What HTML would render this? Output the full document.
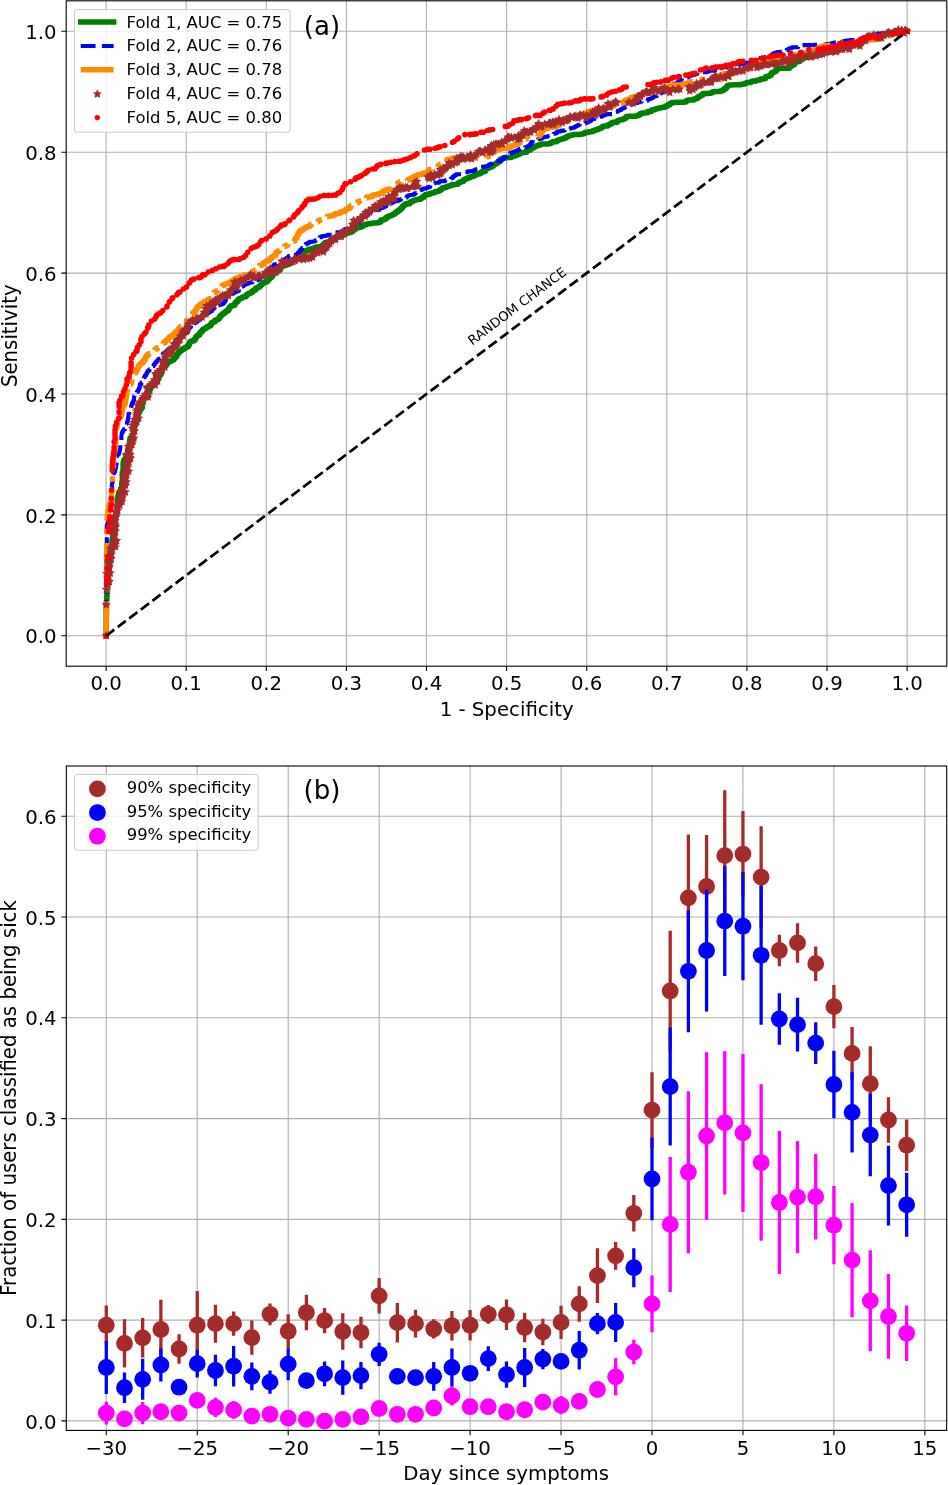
<!DOCTYPE html>
<html><head><meta charset="utf-8"><title>Figure</title>
<style>html,body{margin:0;padding:0;background:#fff}svg{display:block}</style></head>
<body>
<svg width="948" height="1485" viewBox="0 0 948 1485" font-family="'DejaVu Sans','Liberation Sans',sans-serif" fill="#000">
<rect width="948" height="1485" fill="#fff"/>
<clipPath id="ca"><rect x="66.2" y="0.8" width="880.6" height="665.4"/></clipPath>
<path d="M106.1 0.8V666.2M186.2 0.8V666.2M266.3 0.8V666.2M346.4 0.8V666.2M426.5 0.8V666.2M506.6 0.8V666.2M586.7 0.8V666.2M666.8 0.8V666.2M746.9 0.8V666.2M827 0.8V666.2M907.1 0.8V666.2M66.2 635.8H946.8M66.2 514.9H946.8M66.2 394H946.8M66.2 273.1H946.8M66.2 152.2H946.8M66.2 31.3H946.8" stroke="#b0b0b0" stroke-width="1.1" fill="none"/>
<g clip-path="url(#ca)" fill="none">
<path d="M106.1 635.8V633.8H106.1V631.8H106.2V629.8H106.2V627.8H106.2V625.8H106.2V623.8H106.2V621.8H106.2V619.8H106.2V617.8H106.2V615.8H106.2V613.8H106.2V611.7H106.2V609.7H106.2V607.7H106.2V605.7H106.2V603.7H106.2V601.7H106.7V599.7H106.8V597.7H106.8V595.7H107.1V593.7H107.2V591.7H107.5V589.7H107.5V587.7H107.5V585.8H107.8V583.8H108.1V581.8H108.1V579.7H108.1V577.7H108.1V575.8H108.1V573.8H108.4V571.8H108.6V569.8H109.1V567.8H109.1V565.8H109.2V563.8H109.6V561.8H109.6V559.8H109.6V557.8H109.6V555.9H110.4V553.9H110.6V552H111.1V550H111.6V548H111.7V545.9H111.7V544H111.9V542H112V540.1H112.6V538H112.6V536H112.6V534.1H113.4V532.2H114.4V530.1H114.4V528H114.4V526.1H114.4V524.1H114.7V522.2H115.1V520.2H115.6V518.2H115.6V516.2H116.1V514.4H116.9V512.3H117V510.2H117V508.2H117V506.3H117.4V504.2H117.4V502.2H117.4V500.2H117.4V498.3H117.9V496.3H118.3V494.3H118.8V492.5H120.1V490.6H120.6V488.7H121.6V486.7H121.8V484.7H121.8V482.8H122.3V480.5H122.3V478.6H122.3V476.6H122.3V474.6H122.3V472.7H122.9V470.7H123.1V468.5H123.1V466.5H123.1V464.5H123.2V462.5H123.8V460.6H124.5V458.9H125.8V457H126.5V455.1H127.1V453.2H127.8V451.1H127.8V449.3H128.8V447.2H128.8V445.4H129.6V443.3H129.6V441.3H129.8V439.3H130.3V437.7H132V435.9H132.9V433.9H133.2V431.9H133.7V429.9H133.8V428H134.4V426H134.9V424.2H135.9V422.1H135.9V420.2H136.5V418.2H136.8V416.3H137.3V414.5H138.4V412.7H139.2V410.9H140.1V409.1H141.3V407.4H142.4V405.2H142.4V403.4H143.1V401.2H143.1V399.4H144V398.2H145.9V396.4H146.8V394.5H147.6V392.8H148.6V391.1H149.6V389.3H150.6V387.4H151.2V385.9H152.7V384.4H154.1V382.6H154.9V380.9H156.1V379.4H157.3V377.9H158.7V376.2H159.8V374.6H161V372.7H161.8V370.6H162.3V368.8H163.1V367.3H164.6V365.9H165.9V364.4H167V362.9H168.2V361.7H169.8V361H171.8V360.1H173.7V358.4H174.9V357H176.3V355.1H177.4V353.4H178.5V352.1H180V350.7H181.5V349.6H183.3V348.6H185.1V347.4H186.7V346.4H188.5V344.6H189.5V342.6H190.4V341.4H192V340.8H194.3V339.3H195.6V337.3H196.5V335.9H197.9V334.9H199.7V333H200.6V331.7H202.2V330H203.3V329.1H205.1V328H206.8V326.7H208.3V326.1H210.4V324.5H211.6V322.8H212.8V322.1H214.9V320.3H216V319.8H218.1V318.4H219.5V316.6H220.7V315.3H222.2V314H223.8V312.8H225.4V311.4H226.8V310.6H228.7V308.4H229.5V307H231V305.7H232.6V305.3H234.8V303.3H235.8V302H237.3V300.4H238.6V299.1H240.1V298.3H242V297.3H243.8V296.7H245.9V295.2H247.2V294H248.9V293.2H250.8V292.3H252.6V290.8H253.9V289.9H255.8V288.1H257V287.5H259V286.2H260.5V284.7H261.9V283.5H263.5V282.4H265.2V281.7H267.2V280.2H268.6V278.7H269.9V277.6H271.6V275.9H272.8V273.9H273.8V273.1H275.7V271.7H277.2V271.1H279.2V269.4H280.5V267.1H281.4V266.3H283.3V265.4H285.1V265.1H287.2V264.2H289.1V263.2H290.8V262.2H292.6V260.7H294V259.3H295.4V257.4H296.4V256.2H298V254.5H299.2V253.3H300.9V252.7H302.9V252.1H304.9V250.7H306.4V250.7H308.6V249.3H310.2V248.9H312.1V248.6H314.1V247.8H316V247H317.8V247H320V246.4H321.9V245.6H323.7V243.8H325.2V242.6H326.9V242.2H328.9V241.4H330.7V240H332.3V238.9H334V238H335.8V237.5H337.8V236.9H339.7V236.5H341.7V235.2H343.3V234.8H345.3V233.6H347V232.6H348.8V232.5H351V231.4H352.7V230.2H354.3V229.1H356V227.8H357.6V227.5H359.7V226.9H361.7V226H363.5V224.9H365.1V224.4H366.7V224H368.3V223.7H370.3V223.4H372.3V223H374.3V223H376.7V222.8H379V222.1H380.9V220H382.1V219.8H384.2V218.9H386V217.5H387.6V216.4H389.2V215.8H391.3V215H393.2V214H395V212.7H396.6V211.4H398.1V210.5H399.9V209.1H401.4V207.5H402.7V206H404.2V204.8H405.8V203.8H407.5V203.8H409.7V202.2H411.1V201.5H413V200.6H414.8V199.9H416.7V199.6H418.7V199.2H420.7V198.1H422.5V196.9H424.1V195.4H425.6V194.6H427.5V194.4H429.6V193.4H431.3V192.9H433.3V192.4H435.2V191.6H437.1V191.2H439.1V190.2H440.8V188.9H442.5V187.7H444.1V187.5H446.2V186.7H448V185.9H449.9V185.6H451.9V184.6H453.7V184.6H455.9V184.3H457.9V183.1H459.6V181.9H461.2V181.6H463.3V180.1H464.8V179H466.5V178.3H468.4V177.6H470.3V176.8H472.1V176.2H474V175.2H475.8V174.3H477.6V173.9H479.6V173.1H481.5V171.8H483.1V171.4H485.2V169.4H486.3V168.4H488.1V167.7H490V167.1H491.9V166H493.6V164.6H495.1V163.8H497V162.5H498.6V161.6H500.4V159.2H501.3V158.7H503.3V157.8H505.2V157.8H507.3V157.6H509.3V157.4H511.3V156.5H513.2V156.1H515.2V155.2H517V154.5H518.9V153.7H520.7V152.5H522.4V152.5H524.6V152.2H526.6V150.4H528V150.2H530.1V148.9H531.7V148.1H533.5V147.1H535.2V146.1H537V145.4H539V144.8H541V144.1H543V144.1H544.9V144.1H546.8V144.1H549V143.6H550.8V142.5H552.6V141.8H554.5V141.7H556.5V140.7H558.3V139.7H560V139.3H562V138.7H563.9V138.1H565.9V137.1H567.6V136H569.4V135.4H571.4V135H573.4V134.5H575.3V134.5H577.3V134.4H579.4V134.3H581.4V134.1H583.4V133.2H585.3V132.2H587.1V132.2H589.2V131.8H591.1V131.4H593.1V130.4H594.9V129.9H596.8V129.2H598.7V128.4H600.6V127.8H602.4V126.6H603.9V126H605.8V125.9H607.9V124.7H609.6V124H611.5V122.7H613.1V122.3H615.1V122.3H617.4V120.8H618.9V119.9H620.6V119.7H622.8V118.9H624.6V118H626.3V116.5H628V116.2H630V116.2H632.1V116.2H634.2V116.2H636.2V115.7H638.1V115H640V113.7H641.8V112.9H643.7V112.9H645.7V112.7H647.6V111.4H649.2V111.4H651.4V109.9H652.9V109.8H655.1V109H656.9V108.4H658.8V108H660.8V107.4H662.7V107.3H664.8V106.5H666.6V105.6H668.4V104.6H670.2V103.3H671.9V102.4H673.7V102.4H675.8V102.2H677.9V102.2H680V102.2H682.2V102.2H684.2V102.1H686.1V100.7H687.8V99.9H689.7V99.9H691.9V99.9H693.8V99.1H695.7V98.5H697.6V96.9H699.3V96H701.1V94.9H702.9V93.5H704.6V93.5H706.7V93.5H708.8V93.2H710.7V92.8H712.7V91.8H714.5V91.5H716.5V91.4H718.5V91.4H720.7V90.8H722.9V89.8H724.6V88.5H726.1V86.9H727.5V85.5H729V85H730.8V85H732.7V84.7H734.7V84.7H736.8V84.7H738.8V84.7H740.7V84.3H742.7V84H744.7V83.2H746.6V82.5H748.6V82.5H750.6V81.7H752.4V80.9H754.3V80.9H756.4V80.2H758.2V80.1H760.3V79.1H761.9V79H764V78.3H765.9V76.5H767.4V76.3H769.5V75.2H771.2V73.2H772.4V72.3H774.2V71.4H776V69.8H777.4V68.6H779.1V68.3H781.2V68.3H783.4V68.3H785.4V68.3H787.5V68.3H789.5V66.5H791.1V65.4H792.8V64.5H794.6V62.4H795.7V61.9H797.7V61.4H799.7V60.1H801.3V58.9H803V57.8H804.8V57.5H806.9V57.1H808.9V56.7H810.8V55.8H812.7V55.7H814.7V55.2H816.6V55.2H818.7V55H820.7V53.8H822.5V52.7H824.3V52.5H826.3V52H828.3V52H830.3V52H832.4V51.6H834.4V50.4H836.1V49.5H838V49.5H840V48.6H841.8V48.6H843.9V48.2H845.9V48H847.9V47H849.7V46.5H851.6V44.7H853.2V44.3H855.2V44.3H857.2V43.6H859V42.7H860.7V42H862.5V41.2H864.4V40.2H866.1V39.6H868.1V38.2H869.8V38.2H872V37.7H873.9V37.3H875.9V37.3H877.9V37H879.9V36.2H881.6V35.6H883.5V34.9H885.4V34.1H887.2V33.4H889.1V32.7H891.1V32.2H893.1V32.1H895.1V32.1H897.1V31.9H899.1V31.9H901.1V31.6H903.1V31.5H905.1V31.3H907.1" stroke="#008000" stroke-width="5.48" stroke-linejoin="round" stroke-linecap="square"/>
<path d="M106.1 635.8V633.8H106.1V631.8H106.2V629.8H106.2V627.8H106.3V625.8H106.3V623.8H106.3V621.8H106.3V619.8H106.3V617.7H106.3V615.7H106.3V613.7H106.3V611.7H106.3V609.7H106.3V607.7H106.3V605.7H106.3V603.7H106.3V601.7H106.3V599.7H106.3V597.7H106.3V595.7H106.3V593.7H106.3V591.7H106.3V589.7H106.3V587.7H106.3V585.7H106.3V583.6H106.3V581.6H106.3V579.6H106.3V577.6H106.3V575.6H106.3V573.6H106.3V571.6H106.3V569.6H106.3V567.6H106.3V565.5H106.3V563.6H106.3V561.6H106.3V559.5H106.3V557.5H106.3V555.5H106.3V553.5H106.3V551.5H106.3V549.5H106.3V547.5H106.3V545.5H106.5V543.5H106.8V541.5H106.8V539.4H106.8V537.5H106.8V535.4H106.8V533.4H106.8V531.4H106.8V529.4H106.8V527.4H106.8V525.4H107.5V523.5H108.3V521.5H108.3V519.4H108.3V517.4H108.3V515.4H108.3V513.4H108.3V511.4H108.3V509.5H109V507.5H109.3V505.5H109.3V503.5H110V501.5H110V499.5H110.7V497.5H110.7V495.6H111.7V493.6H111.7V491.5H111.7V489.5H111.8V487.5H111.9V485.5H111.9V483.5H112.3V481.6H113.1V479.5H113.1V477.5H113.1V475.5H113.5V473.5H114.1V471.8H115.1V469.7H115.1V467.9H116V466H116.2V464H116.6V462H116.8V460H116.9V458H117V456H117.5V454.2H118.9V452.2H119.5V450.3H120V448.3H120.3V446.2H120.3V444.2H120.3V442.3H121.4V440.2H121.4V438.3H121.4V436.3H121.5V434.5H121.8V432.7H122.6V431H123.6V429.3H125V427.5H125.9V425.7H126.8V423.7H127.1V421.8H127.7V419.8H128V417.8H128.4V415.7H128.5V413.8H129.2V412H130.2V410H130.5V408.1H131V406.2H131.6V404.4H132.1V402.7H133.2V400.9H134V398.7H134.1V396.6H134.4V395H135.7V393.3H136.8V391.7H138.1V389.9H138.9V388.1H139.8V385.8H139.8V384.4H141.3V382.5H141.9V381.1H143.5V379H144V377.2H144.9V375.6H146.1V373.8H147V372H147.9V370.6H149.5V369.2H150.9V367.9H152.4V366.3H153.7V364.6H154.8V363H156.1V361.5H157.3V360.1H158.7V358.9H160.4V357.3H161.7V355.6H162.7V353.9H163.9V352.9H165.8V351.4H167.2V350H168.6V348.6H170V347.2H171.5V345.7H172.8V344.5H174.5V343.2H176V340.6H176.2V339.3H177.7V339H180.2V337.1H181.1V335.7H182.6V334.7H184.4V333.3H185.8V332.4H187.7V330.4H188.6V328.5H189.6V327.1H191V325.6H192.4V324H193.7V323.1H195.5V322H197.2V320.8H198.9V319.5H200.3V318.4H202V317.1H203.6V315.6H204.9V314.6H206.7V313.5H208.4V312.3H210V311.3H211.8V309.6H213V308.3H214.5V306.9H216V306.2H218V305.1H219.7V304.6H221.9V303.7H223.8V302.1H225V300.2H226V299H227.7V297.5H229V296.1H230.5V294.3H231.6V293.6H233.5V292.6H235.3V291.8H237.1V290.9H238.9V289.4H240.4V287.4H241.5V286.4H243.3V285.3H244.9V284.2H246.6V283.8H248.7V282.8H250.5V282.5H252.6V281.6H254.4V280.8H256.3V280H258.1V279.2H260V277.5H261.3V276.7H263.3V275.2H264.7V273.3H265.7V272.1H267.3V270.8H268.8V269.8H270.6V268.5H272.2V267.1H273.6V265H274.3V264.4H276.3V264H278.2V263.1H280.1V262H281.8V261.3H283.7V259.7H285V258.8H286.8V257.6H288.5V256H289.8V255.4H291.6V254.8H293.5V254.8H295.7V254.5H297.7V252.8H299.3V250.9H300.4V249.5H301.8V248H303.1V246.1H304.3V244.5H305.8V243.8H307.8V242.7H309.6V241.9H311.4V241.8H313.5V241.3H315.5V240.4H317.1V239H318.2V237.7H319.7V237.1H322V236H323.7V236H325.9V235.5H327.7V234.9H329.7V234.7H331.7V233.8H333.5V233.4H335.5V232.3H337.3V232.2H339.3V232.2H341.4V231.4H343.2V230.4H344.9V229.1H346.5V227.1H347.5V227.1H350.1V226.3H351.9V225.4H353.7V224.3H355.4V223.1H357V222.9H359.3V220.7H360.2V219.4H361.7V218H363.2V216.9H364.9V216.2H366.8V214.9H368.3V213.3H369.8V211.9H371.3V211.3H373.2V210.8H375.3V210.2H377.2V209.9H379.3V208.5H380.9V207.9H382.8V207.2H384.6V206.2H386.3V205H388V204.6H390V203.4H391.7V202.5H393.5V201.3H395.1V201.3H397.3V200.7H399.2V199.8H401V199H402.9V198.3H404.7V197.7H406.7V196.3H408.3V195.2H410V195H412V194.8H414.1V193.6H415.8V193H417.7V192H419.5V190.3H420.9V189.6H422.8V188.6H424.6V188.5H426.6V187.7H428.4V186.9H430.3V185.5H431.8V184.9H433.8V183.3H435.2V182.7H437.2V182.7H439.4V181.3H441V181.1H443.1V181.1H445.3V180.3H447.1V180H449.2V179.3H451V178.2H452.8V176.5H454.3V175.4H456V174.2H457.7V174.2H460.1V174.2H462V173.5H463.9V172.2H465.5V172.2H467.7V171.2H469.4V171.2H471.6V171.1H473.6V170.3H475.5V169.2H477.2V168.5H479.1V167.1H480.8V166.8H482.8V166.8H485V166.3H486.9V165.8H488.9V164.5H490.5V163.8H492.4V162.4H494V161.3H495.7V160.9H497.7V160.9H500V160.2H501.8V159.3H503.5V157.5H505V156.8H506.8V155.6H508.5V154.2H510.1V152.9H511.7V152.4H513.7V151.5H515.4V151H517.3V150H519V149H520.8V148.7H523V148H524.9V147.2H526.8V146.6H528.9V145.2H530.4V143.3H531.5V141.7H532.7V140.3H534.3V140H536.3V139.3H538.2V139H540.2V138.6H542.2V137.5H543.9V136.9H545.8V136.8H547.9V136H549.8V135.7H551.8V134.9H553.6V133.7H555.4V133H557.2V131.5H558.9V131.4H560.9V130.6H562.8V130.6H564.9V129.6H566.7V129.1H568.6V128.7H570.6V128.1H572.5V127.8H574.5V126.8H576.3V125.8H578.1V124.7H579.9V124.1H581.8V123.4H583.7V123.2H585.7V122.7H587.6V121.8H589.3V120.9H591.1V119.5H592.7V118.9H594.6V118.6H596.7V117.4H598.3V116.8H600.3V116.6H602.3V115.6H604V115H605.9V114.1H607.7V114.1H610.1V114.1H612.2V113.7H614.2V112.3H615.8V111.7H617.7V110.7H619.4V110H621.3V108.8H623V108H624.8V106.8H626.5V106.2H628.4V106.2H630.6V104.7H632.1V103.5H633.8V103.1H635.8V102.9H637.9V102.1H639.7V101.7H641.7V101.2H643.6V100.8H645.6V100.7H647.7V99.4H649.4V98.8H651.4V98H653.2V96.8H654.9V96.2H656.8V94.7H658.3V93.3H659.9V93.1H662V91.6H663.4V91.3H665.6V90.7H667.6V89.3H669.1V87.8H670.5V85.8H671.7V85H673.6V83.5H675.1V83.5H677.4V82H678.8V81.3H680.7V79.3H682V78.6H683.8V78.6H686.1V77.7H687.9V76.6H689.6V75.7H691.3V75.1H693.3V74.8H695.4V73.9H697.2V72.4H698.9V72.1H700.9V72.1H703.1V72.1H705.3V72.1H707.2V71.6H709.1V70.8H711V70.7H713V70.7H715.1V70H716.9V69.5H718.9V68.5H720.7V67.7H722.6V67.3H724.6V67.2H726.6V66.4H728.5V65.9H730.5V65.9H732.6V65.9H734.6V65.9H736.6V65.4H738.6V64.6H740.4V64.2H742.4V63.7H744.4V63H746.2V62.9H748.2V62.5H750.1V62.5H752.1V62.2H754.1V62.2H756.1V61.5H758V60.8H760.2V58.4H760.2V58.1H761.7V57.8H763.6V57.3H765.6V57.1H767.6V56H769.4V55.6H771.3V54.8H773.2V53.4H774.9V52.9H776.9V52.1H778.7V52.1H780.9V51.5H782.6V50.6H784.5V50.5H786.6V49.9H788.5V48.6H790.1V48.1H792.1V47.2H794V47.2H796.2V47.2H798.2V46.8H800.1V45.3H802V45.1H804V45.1H806.1V45.1H808.1V45.1H810V45.1H812V45.1H814V44.9H816V44.9H818.2V44.9H820.4V44.9H822.5V44.9H824.6V44.9H826.4V44H828.1V43.9H830.1V43.6H832.1V43.1H834V42.5H836V42.4H838V42.2H840V41.8H841.9V41.6H843.9V41.1H845.8V40.5H847.8V40.5H849.8V40.1H851.8V40.1H853.9V40.1H855.9V39.8H857.8V39.7H859.9V38.8H861.8V38H863.7V37.3H865.6V36.7H867.5V36.3H869.5V36.3H871.5V35.9H873.4V35.1H875.3V34.4H877.2V33.6H879.1V33.5H881.2V33.4H883.2V33.1H885.2V32.8H887.1V32.5H889.1V32.2H891.1V32.2H893.1V32H895.1V31.8H897.1V31.8H899.1V31.7H901.1V31.5H903.1V31.4H905.1V31.3H907.1" stroke="#0000ff" stroke-width="4.11" stroke-linejoin="round" stroke-dasharray="14.8 6.3"/>
<path d="M106.1 635.8V633.8H106.1V631.8H106.1V629.8H106.2V627.8H106.2V625.8H106.2V623.8H106.3V621.8H106.4V619.8H106.4V617.7H106.4V615.7H106.6V613.7H106.6V611.7H106.7V609.7H106.7V607.7H106.7V605.7H106.7V603.7H106.7V601.7H106.7V599.7H106.7V597.7H106.7V595.7H106.7V593.7H106.7V591.7H106.7V589.7H106.7V587.7H106.7V585.7H106.7V583.7H106.7V581.6H106.7V579.6H106.7V577.6H106.7V575.6H106.7V573.6H106.7V571.6H106.7V569.6H106.7V567.6H106.7V565.6H106.7V563.6H106.7V561.6H106.7V559.6H106.7V557.6H106.7V555.6H106.7V553.6H106.7V551.6H106.7V549.5H106.7V547.5H106.7V545.5H106.7V543.5H106.7V541.5H106.7V539.5H106.7V537.5H106.7V535.5H106.7V533.3H106.7V531.4H106.7V529.3H106.7V527.3H106.7V525.3H106.7V523.4H107.1V521.4H107.1V519.5H107.4V517.4H107.4V515.4H107.8V513.4H107.9V511.5H108.7V509.4H108.7V507.5H109.1V505.6H109.6V503.7H110.8V501.6H110.8V499.7H110.8V497.7H111.3V495.7H111.3V493.7H111.4V491.7H111.4V489.7H112.3V487.7H112.4V485.7H112.4V483.7H112.4V481.7H112.4V479.7H112.4V477.6H112.4V475.7H113.4V473.6H113.4V471.5H113.4V469.5H113.4V467.6H113.4V465.6H113.4V463.6H113.4V461.6H113.4V459.6H113.4V457.7H113.8V455.6H113.8V453.6H113.8V451.7H114.7V449.7H114.9V447.6H114.9V445.7H115.5V443.7H115.8V441.7H115.8V439.7H115.8V437.7H115.8V435.6H115.8V433.6H115.8V431.5H115.8V429.5H115.8V427.8H116.9V425.8H117.3V423.7H117.3V422H118.3V420.1H119.1V418.3H120.1V416.5H121.3V414.6H121.7V412.6H122.1V410.7H122.6V408.6H122.6V406.8H123.6V405H124.8V403.1H125.4V401.1H125.7V399.1H126.1V397.1H126.3V395.1H126.5V393.1H126.9V391H127.3V389.2H128.3V387.1H128.7V385.6H130.1V383.9H131.2V381.9H131.8V379.8H131.9V378.3H133V376.8H134.6V374.8H135.2V373H135.9V371.1H136.6V369.5H137.9V367.5H138.4V365.8H139.8V364.1H140.9V362.9H142.6V361.4H144V359.8H145.2V357.8H146V356.2H147.2V354.7H148.6V353.7H150.5V352.5H152.1V351H153.5V350H155.2V349.1H157.1V347.7H158.6V346.3H160V344.9H161.4V344H163.3V342.9H165V341.2H166.2V340.1H167.9V338.6H169.3V337.1H170.6V336.2H172.5V335.1H174.2V333.3H175.3V331.9H176.7V330.7H178.3V329H179.5V327.5H180.8V326.4H182.5V324.3H183.3V323.1H184.9V321.9H186.5V320.5H188V318.5H188.8V317.1H190.2V315.3H191.2V314H192.8V312.7H194.3V311.2H195.7V309.4H196.6V307.7H197.7V306.6H199.5V305H200.7V303.9H202.5V302.9H204.2V301.4H205.6V301H207.9V299.4H209.3V298.7H211.3V296.3H211.8V294H212.4V293.1H214.2V292.3H216.1V291H217.7V289.9H219.4V288H220.6V286.8H222.2V285.5H223.7V284.5H225.5V284.1H227.6V283.2H229.4V282.4H231.2V281.1H232.8V280H234.5V279.1H236.3V278.1H238V277.7H240.1V276.4H241.7V276.4H243.9V275H245.5V274.6H247.5V273.2H249.1V273.1H251.2V272H253V271.1H254.8V270.2H256.6V268.8H258.1V267.2H259.5V265.3H260.7V264.9H262.8V263.6H264.3V262.3H265.8V261.2H267.5V260.8H269.7V258.9H270.8V257.8H272.5V256.5H274V255.4H275.7V253.4H276.5V251.9H277.8V250.9H279.7V250.1H281.7V249.2H283.6V247.4H284.6V246.3H286.1V245.3H287.8V243.7H289.3V242.2H290.8V241.8H292.8V241.1H294.6V239.5H295.6V238.1H297.1V236H297.5V234.4H298.7V232.6H299.6V231.1H300.8V230.2H302.6V229H304.3V228H306V226.9H307.6V226.5H309.8V225H311.2V224.2H313V223.5H314.7V222.4H316.4V221.8H318.3V220.4H319.9V220.1H321.9V218.8H323.5V217.7H325.3V217H327.1V216.5H329.1V216.1H331.1V215.8H333V215H334.8V213.8H336.6V213.4H338.6V212.9H340.5V211.7H342.3V211.4H344.3V210.5H346.1V209.1H347.7V208.4H349.6V206.9H351V205.6H352.7V205H354.6V203.5H356.1V202.8H358V201.4H359.5V201.1H361.6V200H363.3V199.3H365.2V197.9H366.7V197H368.7V196.9H370.8V196.5H372.8V195H374.3V194.8H376.4V194.6H378.5V193.7H380.3V193.4H382.4V191.8H383.8V190.7H385.5V190.1H387.5V189.6H389.5V189H391.4V187.5H392.8V185.8H394.2V185.2H396.2V183.8H397.7V183.1H399.6V181.8H401.2V181.7H403.4V181.4H405.4V180.8H407.4V179.9H409.1V178.9H410.9V177.9H412.6V177.2H414.5V176.3H416.4V175.6H418.2V174.5H419.9V174.4H422.1V173.5H423.9V173H425.9V172.6H427.8V171.1H429.3V169.4H430.8V169.2H432.9V168.1H434.6V167.3H436.4V166.4H438.2V165.6H440.1V164.2H441.7V163.3H443.4V162.3H445.2V161.5H447V159.6H448.3V159.2H450.4V158.9H452.6V158.1H454.7V158H456.7V158H458.7V158H460.7V158H462.7V158H464.7V158H466.7V158H468.7V158H470.7V158H472.7V158H474.6V158H476.7V158H478.7V158H480.7V158H482.8V158H484.7V157.8H486.7V156.7H488.5V155.5H490.2V153.9H491.6V152.9H493.4V151.6H495V150.3H496.5V149.7H498.5V149.2H500.5V148.3H502.4V148.3H504.6V148.3H506.7V148.3H508.8V147.3H510.6V146H512.3V145.7H514.3V145H516.1V144.3H518V143.3H519.8V142.7H521.8V141.4H523.3V140.5H525.1V138.9H526.5V136.9H527.8V136.6H530V136.6H532V136.4H534V136.4H536V136.3H538V136.1H539.7V134.7H540.7V133.2H542V131.3H542.7V129.7H544.1V128.4H545.7V128.2H547.8V127.1H549.6V127.1H551.7V127.1H553.9V127.1H556.1V126H557.7V125.2H559.5V123.5H561.1V123H563V122.6H565V121.3H566.7V119.9H568.3V119.4H570.3V119.2H572.3V118.2H574.1V117.5H575.9V115.7H577.4V115H579.3V114.6H581.3V114.3H583.3V114.3H585.5V113.4H587.3V111.7H588.8V111.5H590.9V110.8H592.7V110.5H594.7V110.3H596.8V110H598.8V110H601V109.9H603V108.3H604.6V107.6H606.5V107.6H608.7V106.8H610.5V106.5H612.5V105.7H614.3V104.7H616.1V104.7H618.2V104.3H620.2V103.3H622V102.8H624V101.2H625.5V100.1H627.2V99.7H629.3V98.9H631.1V97.6H632.7V97.1H634.7V96.5H636.6V96.3H638.7V95.9H640.7V94.8H642.4V93.7H644.1V92.8H645.9V92.1H647.8V92.1H649.9V92.1H652V92.1H654V91.8H655.9V90.9H657.8V90.6H659.8V89.7H661.6V89.2H663.5V87.9H665.3V87.2H667.2V87.2H669.3V86.5H671.2V85.4H673V85H675V85H677.1V85H679.2V85H681.1V84.6H683V84.2H685V83.4H686.9V83.1H688.9V82.7H690.9V81.7H692.7V81.3H694.7V81H696.6V80.3H698.5V79.5H700.3V79.5H702.4V79.5H704.7V79.5H706.6V78.9H708.5V78.7H710.5V78.1H712.4V77.3H714.3V77.3H716.4V76.5H718.2V75.7H720.1V75H722V74.2H723.9V73.8H725.8V73.8H727.9V73.8H730V73.8H732V73.6H734V72.5H735.8V72H737.8V71.2H739.6V70.8H741.6V70.8H743.7V70.6H745.7V70H747.6V69.1H749.4V68.7H751.4V68.3H753.3V67.4H755.2V66.7H757.1V66.7H759.1V65.2H759.1V63.1H759.8V62H762.1V62H764.3V62H766.3V62H768.4V61.9H770.3V61.5H772.3V61.1H774.3V59.7H776V59.4H778V59.3H780V58.1H781.8V58.1H783.9V57.9H785.9V56.7H787.7V56.1H789.6V55.8H791.6V55.3H793.6V55.3H795.6V54.4H797.5V54.1H799.4V53.9H801.4V53.9H803.4V53.4H805.4V52.8H807.3V52.7H809.4V51.2H811V51.2H813.1V50.7H815V49.6H816.8V49H818.8V47.8H820.5V46.5H822.2V46.2H824.2V45.7H826.2V45.7H828.3V45.2H830.3V44.5H832.3V44H834.2V44H836.4V44H838.4V44H840.4V43.6H842.3V42.9H844.2V42.8H846.2V42.8H848.3V42.8H850.4V42.8H852.5V42.8H854.5V42.7H856.4V42H858.3V40.8H860.2V40.4H862.1V40.4H864.2V40.3H866.2V40.3H868.2V39.7H870.1V39.7H872.2V39.7H874.2V39.5H876.2V39.3H878.2V38.5H880V37.9H881.9V37.2H883.8V37.1H885.8V36.4H887.8V35.8H889.6V35.3H891.6V34.6H893.5V34.1H895.4V33.4H897.3V32.8H899.2V32.2H901.2V32H903.1V31.6H905.1V31.3H907.1" stroke="#ff8c00" stroke-width="5.48" stroke-linejoin="round" stroke-dasharray="35.1 8.8 5.5 8.8"/>
<path d="M107.8 579.6L109.1 582.5L112.2 582.9L110 585.1L110.5 588.1L107.8 586.6L105 588.1L105.6 585.1L103.3 582.9L106.4 582.5ZM108.5 576.7L109.8 579.6L113 580L110.7 582.1L111.3 585.2L108.5 583.7L105.7 585.2L106.3 582.1L104 580L107.1 579.6ZM109.4 577L110.7 579.8L113.9 580.3L111.6 582.4L112.2 585.5L109.4 584L106.6 585.5L107.2 582.4L104.9 580.3L108 579.8ZM107.9 575.3L109.2 578.2L112.3 578.6L110.1 580.7L110.6 583.8L107.9 582.3L105.1 583.8L105.7 580.7L103.4 578.6L106.5 578.2ZM107.5 573.2L108.9 576.1L112 576.5L109.7 578.6L110.3 581.7L107.5 580.2L104.8 581.7L105.4 578.6L103.1 576.5L106.2 576.1ZM108.5 570.6L109.8 573.5L112.9 573.9L110.7 576.1L111.2 579.1L108.5 577.6L105.7 579.1L106.3 576.1L104 573.9L107.1 573.5ZM110.3 568.4L111.7 571.2L114.8 571.6L112.5 573.8L113.1 576.9L110.3 575.4L107.6 576.9L108.1 573.8L105.9 571.6L109 571.2ZM106.7 568.9L108 571.8L111.2 572.2L108.9 574.4L109.5 577.4L106.7 575.9L103.9 577.4L104.5 574.4L102.2 572.2L105.3 571.8ZM108.3 564.1L109.7 566.9L112.8 567.3L110.5 569.5L111.1 572.6L108.3 571.1L105.6 572.6L106.1 569.5L103.8 567.3L107 566.9ZM108.1 562.4L109.5 565.3L112.6 565.7L110.3 567.8L110.9 570.9L108.1 569.4L105.4 570.9L105.9 567.8L103.7 565.7L106.8 565.3ZM108.3 564.6L109.6 567.4L112.7 567.8L110.5 570L111 573.1L108.3 571.6L105.5 573.1L106.1 570L103.8 567.8L106.9 567.4ZM109.3 562.8L110.6 565.6L113.7 566L111.5 568.2L112 571.3L109.3 569.8L106.5 571.3L107.1 568.2L104.8 566L107.9 565.6ZM109.6 562.2L110.9 565.1L114 565.5L111.8 567.7L112.3 570.8L109.6 569.2L106.8 570.8L107.4 567.7L105.1 565.5L108.2 565.1ZM108.2 559.3L109.5 562.1L112.6 562.5L110.4 564.7L110.9 567.8L108.2 566.3L105.4 567.8L106 564.7L103.7 562.5L106.8 562.1ZM110.1 558.3L111.5 561.1L114.6 561.6L112.3 563.7L112.9 566.8L110.1 565.3L107.4 566.8L108 563.7L105.7 561.6L108.8 561.1ZM108.4 556.4L109.8 559.2L112.9 559.6L110.6 561.8L111.2 564.9L108.4 563.4L105.7 564.9L106.2 561.8L103.9 559.6L107.1 559.2ZM108.3 557.1L109.6 559.9L112.7 560.4L110.5 562.5L111 565.6L108.3 564.1L105.5 565.6L106.1 562.5L103.8 560.4L106.9 559.9ZM111.3 554L112.7 556.8L115.8 557.2L113.5 559.4L114.1 562.5L111.3 561L108.6 562.5L109.1 559.4L106.9 557.2L110 556.8ZM109.9 552.9L111.3 555.7L114.4 556.2L112.1 558.3L112.7 561.4L109.9 559.9L107.2 561.4L107.8 558.3L105.5 556.2L108.6 555.7ZM111.6 549.4L113 552.3L116.1 552.7L113.8 554.8L114.4 557.9L111.6 556.4L108.9 557.9L109.4 554.8L107.1 552.7L110.3 552.3ZM107.8 551.5L109.2 554.4L112.3 554.8L110 556.9L110.6 560L107.8 558.5L105.1 560L105.7 556.9L103.4 554.8L106.5 554.4ZM110.7 547.6L112 550.4L115.1 550.8L112.9 553L113.4 556.1L110.7 554.6L107.9 556.1L108.5 553L106.2 550.8L109.3 550.4ZM110.8 547.8L112.2 550.7L115.3 551.1L113 553.3L113.6 556.4L110.8 554.8L108 556.4L108.6 553.3L106.3 551.1L109.4 550.7ZM110.9 544.3L112.3 547.1L115.4 547.5L113.1 549.7L113.7 552.8L110.9 551.3L108.2 552.8L108.8 549.7L106.5 547.5L109.6 547.1ZM111.4 546L112.8 548.8L115.9 549.2L113.6 551.4L114.2 554.5L111.4 553L108.7 554.5L109.2 551.4L106.9 549.2L110.1 548.8ZM110.4 543.8L111.8 546.6L114.9 547L112.6 549.2L113.2 552.3L110.4 550.8L107.7 552.3L108.2 549.2L106 547L109.1 546.6ZM114.1 541.1L115.5 543.9L118.6 544.3L116.3 546.5L116.9 549.6L114.1 548.1L111.3 549.6L111.9 546.5L109.6 544.3L112.8 543.9ZM112.1 541.7L113.5 544.5L116.6 544.9L114.3 547.1L114.9 550.2L112.1 548.7L109.4 550.2L110 547.1L107.7 544.9L110.8 544.5ZM115.5 542.3L116.8 545.2L120 545.6L117.7 547.7L118.3 550.8L115.5 549.3L112.7 550.8L113.3 547.7L111 545.6L114.1 545.2ZM114.3 538.4L115.7 541.2L118.8 541.6L116.5 543.8L117.1 546.9L114.3 545.4L111.6 546.9L112.2 543.8L109.9 541.6L113 541.2ZM114.9 539.2L116.3 542.1L119.4 542.5L117.1 544.6L117.7 547.7L114.9 546.2L112.2 547.7L112.8 544.6L110.5 542.5L113.6 542.1ZM114.4 539.9L115.7 542.7L118.9 543.1L116.6 545.3L117.1 548.4L114.4 546.9L111.6 548.4L112.2 545.3L109.9 543.1L113 542.7ZM116.7 535.9L118.1 538.8L121.2 539.2L118.9 541.3L119.5 544.4L116.7 542.9L114 544.4L114.6 541.3L112.3 539.2L115.4 538.8ZM115.5 536.1L116.8 538.9L120 539.3L117.7 541.5L118.3 544.6L115.5 543.1L112.7 544.6L113.3 541.5L111 539.3L114.1 538.9ZM114 534.5L115.3 537.3L118.5 537.7L116.2 539.9L116.7 543L114 541.5L111.2 543L111.8 539.9L109.5 537.7L112.6 537.3ZM114.1 532L115.4 534.8L118.5 535.2L116.3 537.4L116.8 540.5L114.1 539L111.3 540.5L111.9 537.4L109.6 535.2L112.7 534.8ZM114 529.6L115.4 532.5L118.5 532.9L116.2 535L116.8 538.1L114 536.6L111.2 538.1L111.8 535L109.5 532.9L112.6 532.5ZM114.8 527.4L116.2 530.2L119.3 530.6L117 532.8L117.6 535.9L114.8 534.4L112.1 535.9L112.6 532.8L110.3 530.6L113.5 530.2ZM115.4 526.4L116.7 529.2L119.9 529.6L117.6 531.8L118.2 534.9L115.4 533.4L112.6 534.9L113.2 531.8L110.9 529.6L114 529.2ZM112.2 525.1L113.5 527.9L116.6 528.3L114.3 530.5L114.9 533.6L112.2 532.1L109.4 533.6L110 530.5L107.7 528.3L110.8 527.9ZM114.3 524.3L115.6 527.1L118.8 527.5L116.5 529.7L117 532.8L114.3 531.3L111.5 532.8L112.1 529.7L109.8 527.5L112.9 527.1ZM115.8 521.8L117.2 524.7L120.3 525.1L118 527.2L118.6 530.3L115.8 528.8L113 530.3L113.6 527.2L111.3 525.1L114.5 524.7ZM115.1 521.3L116.5 524.2L119.6 524.6L117.3 526.7L117.9 529.8L115.1 528.3L112.4 529.8L112.9 526.7L110.6 524.6L113.8 524.2ZM114.9 519.2L116.3 522.1L119.4 522.5L117.1 524.6L117.7 527.7L114.9 526.2L112.2 527.7L112.7 524.6L110.5 522.5L113.6 522.1ZM112.1 518.7L113.5 521.5L116.6 521.9L114.3 524.1L114.9 527.2L112.1 525.7L109.4 527.2L109.9 524.1L107.7 521.9L110.8 521.5ZM115.1 519.6L116.4 522.5L119.5 522.9L117.3 525L117.8 528.1L115.1 526.6L112.3 528.1L112.9 525L110.6 522.9L113.7 522.5ZM115.1 515.9L116.5 518.7L119.6 519.1L117.3 521.3L117.9 524.4L115.1 522.9L112.4 524.4L112.9 521.3L110.7 519.1L113.8 518.7ZM115 513.5L116.3 516.4L119.4 516.8L117.2 519L117.7 522L115 520.5L112.2 522L112.8 519L110.5 516.8L113.6 516.4ZM116 512.4L117.3 515.2L120.4 515.6L118.1 517.8L118.7 520.9L116 519.4L113.2 520.9L113.8 517.8L111.5 515.6L114.6 515.2ZM114.4 512L115.8 514.8L118.9 515.2L116.6 517.4L117.2 520.5L114.4 519L111.7 520.5L112.2 517.4L110 515.2L113.1 514.8ZM113.6 512.4L115 515.2L118.1 515.6L115.8 517.8L116.4 520.9L113.6 519.4L110.8 520.9L111.4 517.8L109.1 515.6L112.2 515.2ZM115.3 507.3L116.7 510.1L119.8 510.5L117.5 512.7L118.1 515.8L115.3 514.3L112.6 515.8L113.1 512.7L110.8 510.5L114 510.1ZM116.2 507.3L117.6 510.1L120.7 510.5L118.4 512.7L119 515.8L116.2 514.3L113.5 515.8L114 512.7L111.8 510.5L114.9 510.1ZM117.8 505.5L119.1 508.4L122.3 508.8L120 510.9L120.6 514L117.8 512.5L115 514L115.6 510.9L113.3 508.8L116.4 508.4ZM117.5 505.7L118.9 508.5L122 508.9L119.7 511.1L120.3 514.2L117.5 512.7L114.7 514.2L115.3 511.1L113 508.9L116.2 508.5ZM117.5 502.8L118.8 505.7L122 506.1L119.7 508.3L120.2 511.3L117.5 509.8L114.7 511.3L115.3 508.3L113 506.1L116.1 505.7ZM117.9 501.2L119.2 504L122.3 504.4L120 506.6L120.6 509.7L117.9 508.2L115.1 509.7L115.7 506.6L113.4 504.4L116.5 504ZM119.9 500.6L121.2 503.4L124.3 503.8L122.1 506L122.6 509.1L119.9 507.6L117.1 509.1L117.7 506L115.4 503.8L118.5 503.4ZM119.5 499.3L120.8 502.1L123.9 502.5L121.7 504.7L122.2 507.8L119.5 506.3L116.7 507.8L117.3 504.7L115 502.5L118.1 502.1ZM117.7 497.7L119.1 500.5L122.2 500.9L119.9 503.1L120.5 506.2L117.7 504.7L114.9 506.2L115.5 503.1L113.2 500.9L116.4 500.5ZM119.3 497.6L120.7 500.4L123.8 500.8L121.5 503L122.1 506.1L119.3 504.6L116.6 506.1L117.1 503L114.8 500.8L118 500.4ZM119.8 496L121.1 498.9L124.2 499.3L121.9 501.4L122.5 504.5L119.8 503L117 504.5L117.6 501.4L115.3 499.3L118.4 498.9ZM122.2 496.7L123.5 499.5L126.6 499.9L124.4 502.1L124.9 505.2L122.2 503.7L119.4 505.2L120 502.1L117.7 499.9L120.8 499.5ZM122.2 493L123.5 495.9L126.6 496.3L124.4 498.4L124.9 501.5L122.2 500L119.4 501.5L120 498.4L117.7 496.3L120.8 495.9ZM121.9 494.1L123.3 496.9L126.4 497.3L124.1 499.5L124.7 502.6L121.9 501.1L119.2 502.6L119.8 499.5L117.5 497.3L120.6 496.9ZM120.6 489.8L122 492.7L125.1 493.1L122.8 495.2L123.4 498.3L120.6 496.8L117.9 498.3L118.4 495.2L116.1 493.1L119.3 492.7ZM120.1 487.6L121.5 490.5L124.6 490.9L122.3 493L122.9 496.1L120.1 494.6L117.4 496.1L117.9 493L115.7 490.9L118.8 490.5ZM122.8 491L124.1 493.9L127.2 494.3L124.9 496.4L125.5 499.5L122.8 498L120 499.5L120.6 496.4L118.3 494.3L121.4 493.9ZM122.3 487.3L123.7 490.2L126.8 490.6L124.5 492.7L125.1 495.8L122.3 494.3L119.5 495.8L120.1 492.7L117.8 490.6L120.9 490.2ZM125.5 487.4L126.8 490.2L129.9 490.6L127.6 492.8L128.2 495.9L125.5 494.4L122.7 495.9L123.3 492.8L121 490.6L124.1 490.2ZM123 483.4L124.3 486.2L127.5 486.6L125.2 488.8L125.7 491.9L123 490.4L120.2 491.9L120.8 488.8L118.5 486.6L121.6 486.2ZM123.4 480.6L124.7 483.5L127.8 483.9L125.5 486L126.1 489.1L123.4 487.6L120.6 489.1L121.2 486L118.9 483.9L122 483.5ZM125.6 480.8L126.9 483.6L130.1 484L127.8 486.2L128.3 489.3L125.6 487.8L122.8 489.3L123.4 486.2L121.1 484L124.2 483.6ZM125.1 480L126.5 482.8L129.6 483.2L127.3 485.4L127.9 488.5L125.1 487L122.4 488.5L122.9 485.4L120.7 483.2L123.8 482.8ZM123.3 478L124.6 480.9L127.8 481.3L125.5 483.4L126.1 486.5L123.3 485L120.5 486.5L121.1 483.4L118.8 481.3L121.9 480.9ZM124 477.2L125.4 480L128.5 480.4L126.2 482.6L126.8 485.7L124 484.2L121.3 485.7L121.9 482.6L119.6 480.4L122.7 480ZM126.4 477.2L127.8 480.1L130.9 480.5L128.6 482.6L129.2 485.7L126.4 484.2L123.6 485.7L124.2 482.6L121.9 480.5L125 480.1ZM125.5 474.9L126.8 477.7L129.9 478.1L127.6 480.3L128.2 483.4L125.5 481.9L122.7 483.4L123.3 480.3L121 478.1L124.1 477.7ZM123.5 471.6L124.9 474.4L128 474.8L125.7 477L126.3 480.1L123.5 478.6L120.7 480.1L121.3 477L119 474.8L122.1 474.4ZM125.7 472.3L127.1 475.2L130.2 475.6L127.9 477.7L128.5 480.8L125.7 479.3L123 480.8L123.5 477.7L121.3 475.6L124.4 475.2ZM124 471.5L125.3 474.3L128.5 474.7L126.2 476.9L126.8 480L124 478.5L121.2 480L121.8 476.9L119.5 474.7L122.6 474.3ZM126.1 468.7L127.5 471.6L130.6 472L128.3 474.1L128.9 477.2L126.1 475.7L123.4 477.2L124 474.1L121.7 472L124.8 471.6ZM124.9 470.4L126.3 473.2L129.4 473.6L127.1 475.8L127.7 478.9L124.9 477.4L122.1 478.9L122.7 475.8L120.4 473.6L123.6 473.2ZM126.7 469.7L128.1 472.5L131.2 472.9L128.9 475.1L129.5 478.2L126.7 476.7L124 478.2L124.6 475.1L122.3 472.9L125.4 472.5ZM128.8 466.6L130.2 469.4L133.3 469.9L131 472L131.6 475.1L128.8 473.6L126.1 475.1L126.6 472L124.4 469.9L127.5 469.4ZM126.9 465.8L128.2 468.6L131.3 469L129.1 471.2L129.6 474.3L126.9 472.8L124.1 474.3L124.7 471.2L122.4 469L125.5 468.6ZM125.5 464.8L126.9 467.7L130 468.1L127.7 470.2L128.3 473.3L125.5 471.8L122.8 473.3L123.3 470.2L121.1 468.1L124.2 467.7ZM126.2 464.5L127.6 467.3L130.7 467.7L128.4 469.9L129 473L126.2 471.5L123.5 473L124 469.9L121.8 467.7L124.9 467.3ZM127.7 462.6L129.1 465.4L132.2 465.8L129.9 468L130.5 471.1L127.7 469.6L125 471.1L125.5 468L123.3 465.8L126.4 465.4ZM126.8 458.6L128.2 461.4L131.3 461.8L129 464L129.6 467.1L126.8 465.6L124.1 467.1L124.6 464L122.4 461.8L125.5 461.4ZM126.3 458.2L127.6 461L130.7 461.4L128.5 463.6L129 466.7L126.3 465.2L123.5 466.7L124.1 463.6L121.8 461.4L124.9 461ZM127.5 457.3L128.9 460.1L132 460.6L129.7 462.7L130.3 465.8L127.5 464.3L124.8 465.8L125.4 462.7L123.1 460.6L126.2 460.1ZM127.5 457.3L128.8 460.1L131.9 460.5L129.6 462.7L130.2 465.8L127.5 464.3L124.7 465.8L125.3 462.7L123 460.5L126.1 460.1ZM129 457.4L130.4 460.3L133.5 460.7L131.2 462.9L131.8 465.9L129 464.4L126.3 465.9L126.8 462.9L124.6 460.7L127.7 460.3ZM127.9 451.5L129.2 454.3L132.3 454.7L130 456.9L130.6 460L127.9 458.5L125.1 460L125.7 456.9L123.4 454.7L126.5 454.3ZM129.4 452.7L130.7 455.6L133.8 456L131.5 458.1L132.1 461.2L129.4 459.7L126.6 461.2L127.2 458.1L124.9 456L128 455.6ZM130.7 453.5L132.1 456.3L135.2 456.7L132.9 458.9L133.5 462L130.7 460.5L128 462L128.5 458.9L126.3 456.7L129.4 456.3ZM126 450.3L127.3 453.1L130.4 453.5L128.1 455.7L128.7 458.8L126 457.3L123.2 458.8L123.8 455.7L121.5 453.5L124.6 453.1ZM130.4 450.4L131.7 453.2L134.8 453.6L132.6 455.8L133.1 458.9L130.4 457.4L127.6 458.9L128.2 455.8L125.9 453.6L129 453.2ZM129.5 449.4L130.8 452.2L133.9 452.6L131.6 454.8L132.2 457.9L129.5 456.4L126.7 457.9L127.3 454.8L125 452.6L128.1 452.2ZM128.7 448.3L130 451.1L133.1 451.6L130.8 453.7L131.4 456.8L128.7 455.3L125.9 456.8L126.5 453.7L124.2 451.6L127.3 451.1ZM128.6 445.8L129.9 448.7L133.1 449.1L130.8 451.2L131.4 454.3L128.6 452.8L125.8 454.3L126.4 451.2L124.1 449.1L127.2 448.7ZM129 446.2L130.4 449.1L133.5 449.5L131.2 451.6L131.8 454.7L129 453.2L126.3 454.7L126.9 451.6L124.6 449.5L127.7 449.1ZM129.6 443.9L131 446.7L134.1 447.2L131.8 449.3L132.4 452.4L129.6 450.9L126.9 452.4L127.4 449.3L125.2 447.2L128.3 446.7ZM132.1 440.1L133.4 443L136.5 443.4L134.2 445.6L134.8 448.7L132.1 447.1L129.3 448.7L129.9 445.6L127.6 443.4L130.7 443ZM128.2 441.9L129.6 444.7L132.7 445.1L130.4 447.3L131 450.4L128.2 448.9L125.4 450.4L126 447.3L123.7 445.1L126.9 444.7ZM131.5 439.2L132.9 442.1L136 442.5L133.7 444.6L134.3 447.7L131.5 446.2L128.8 447.7L129.3 444.6L127.1 442.5L130.2 442.1ZM130.2 440.4L131.5 443.2L134.6 443.6L132.3 445.8L132.9 448.9L130.2 447.4L127.4 448.9L128 445.8L125.7 443.6L128.8 443.2ZM130.7 438.5L132.1 441.3L135.2 441.7L132.9 443.9L133.5 447L130.7 445.5L128 447L128.6 443.9L126.3 441.7L129.4 441.3ZM132.6 435.4L134 438.3L137.1 438.7L134.8 440.8L135.4 443.9L132.6 442.4L129.9 443.9L130.4 440.8L128.2 438.7L131.3 438.3ZM133 435.5L134.4 438.4L137.5 438.8L135.2 440.9L135.8 444L133 442.5L130.3 444L130.8 440.9L128.6 438.8L131.7 438.4ZM131.7 433.8L133.1 436.7L136.2 437.1L133.9 439.3L134.5 442.3L131.7 440.8L129 442.3L129.5 439.3L127.3 437.1L130.4 436.7ZM134 433.4L135.3 436.3L138.4 436.7L136.2 438.8L136.7 441.9L134 440.4L131.2 441.9L131.8 438.8L129.5 436.7L132.6 436.3ZM132.7 430.1L134 433L137.1 433.4L134.9 435.6L135.4 438.6L132.7 437.1L129.9 438.6L130.5 435.6L128.2 433.4L131.3 433ZM134.6 426.5L135.9 429.3L139.1 429.8L136.8 431.9L137.4 435L134.6 433.5L131.8 435L132.4 431.9L130.1 429.8L133.2 429.3ZM134 426.2L135.3 429.1L138.4 429.5L136.1 431.7L136.7 434.8L134 433.2L131.2 434.8L131.8 431.7L129.5 429.5L132.6 429.1ZM133.6 425.5L135 428.4L138.1 428.8L135.8 431L136.4 434L133.6 432.5L130.8 434L131.4 431L129.1 428.8L132.3 428.4ZM132.3 423.6L133.7 426.4L136.8 426.9L134.5 429L135.1 432.1L132.3 430.6L129.5 432.1L130.1 429L127.8 426.9L131 426.4ZM134.1 422.8L135.5 425.7L138.6 426.1L136.3 428.2L136.9 431.3L134.1 429.8L131.3 431.3L131.9 428.2L129.6 426.1L132.7 425.7ZM133.9 420.3L135.2 423.1L138.4 423.6L136.1 425.7L136.7 428.8L133.9 427.3L131.1 428.8L131.7 425.7L129.4 423.6L132.5 423.1ZM132.6 420.4L133.9 423.3L137 423.7L134.8 425.8L135.3 428.9L132.6 427.4L129.8 428.9L130.4 425.8L128.1 423.7L131.2 423.3ZM133.7 417.8L135 420.6L138.1 421L135.9 423.2L136.4 426.3L133.7 424.8L130.9 426.3L131.5 423.2L129.2 421L132.3 420.6ZM134.7 418.1L136.1 420.9L139.2 421.3L136.9 423.5L137.5 426.6L134.7 425.1L132 426.6L132.6 423.5L130.3 421.3L133.4 420.9ZM134.4 414.9L135.7 417.7L138.8 418.2L136.5 420.3L137.1 423.4L134.4 421.9L131.6 423.4L132.2 420.3L129.9 418.2L133 417.7ZM137.1 417.1L138.5 419.9L141.6 420.3L139.3 422.5L139.9 425.6L137.1 424.1L134.3 425.6L134.9 422.5L132.6 420.3L135.8 419.9ZM138.7 413.5L140 416.3L143.2 416.7L140.9 418.9L141.5 422L138.7 420.5L135.9 422L136.5 418.9L134.2 416.7L137.3 416.3ZM136.6 413.2L138 416.1L141.1 416.5L138.8 418.7L139.4 421.7L136.6 420.2L133.9 421.7L134.4 418.7L132.1 416.5L135.3 416.1ZM136.4 411.1L137.7 413.9L140.8 414.3L138.6 416.5L139.1 419.6L136.4 418.1L133.6 419.6L134.2 416.5L131.9 414.3L135 413.9ZM136.7 410.9L138.1 413.8L141.2 414.2L138.9 416.3L139.5 419.4L136.7 417.9L133.9 419.4L134.5 416.3L132.2 414.2L135.3 413.8ZM136.8 408.9L138.2 411.8L141.3 412.2L139 414.4L139.6 417.4L136.8 415.9L134.1 417.4L134.6 414.4L132.3 412.2L135.5 411.8ZM136.4 406.4L137.8 409.2L140.9 409.6L138.6 411.8L139.2 414.9L136.4 413.4L133.7 414.9L134.2 411.8L131.9 409.6L135.1 409.2ZM137.6 407.2L138.9 410L142 410.4L139.8 412.6L140.3 415.7L137.6 414.2L134.8 415.7L135.4 412.6L133.1 410.4L136.2 410ZM139.2 403.8L140.5 406.7L143.7 407.1L141.4 409.2L141.9 412.3L139.2 410.8L136.4 412.3L137 409.2L134.7 407.1L137.8 406.7ZM137.1 404.5L138.4 407.4L141.5 407.8L139.3 410L139.8 413L137.1 411.5L134.3 413L134.9 410L132.6 407.8L135.7 407.4ZM138.4 401.2L139.8 404L142.9 404.4L140.6 406.6L141.2 409.7L138.4 408.2L135.6 409.7L136.2 406.6L133.9 404.4L137.1 404ZM139.8 399.8L141.2 402.7L144.3 403.1L142 405.2L142.6 408.3L139.8 406.8L137 408.3L137.6 405.2L135.3 403.1L138.5 402.7ZM137.6 400.7L139 403.5L142.1 403.9L139.8 406.1L140.4 409.2L137.6 407.7L134.8 409.2L135.4 406.1L133.1 403.9L136.3 403.5ZM139 397.7L140.3 400.5L143.4 400.9L141.2 403.1L141.7 406.2L139 404.7L136.2 406.2L136.8 403.1L134.5 400.9L137.6 400.5ZM142.7 395.6L144 398.5L147.1 398.9L144.8 401L145.4 404.1L142.7 402.6L139.9 404.1L140.5 401L138.2 398.9L141.3 398.5ZM143.3 394.5L144.7 397.3L147.8 397.7L145.5 399.9L146.1 403L143.3 401.5L140.6 403L141.1 399.9L138.9 397.7L142 397.3ZM143 394.5L144.4 397.4L147.5 397.8L145.2 399.9L145.8 403L143 401.5L140.3 403L140.8 399.9L138.6 397.8L141.7 397.4ZM143.1 393.8L144.4 396.7L147.6 397.1L145.3 399.2L145.8 402.3L143.1 400.8L140.3 402.3L140.9 399.2L138.6 397.1L141.7 396.7ZM143.6 392L144.9 394.9L148 395.3L145.8 397.4L146.3 400.5L143.6 399L140.8 400.5L141.4 397.4L139.1 395.3L142.2 394.9ZM145 389.8L146.3 392.6L149.4 393L147.1 395.2L147.7 398.3L145 396.8L142.2 398.3L142.8 395.2L140.5 393L143.6 392.6ZM148.1 392.4L149.5 395.2L152.6 395.6L150.3 397.8L150.9 400.9L148.1 399.4L145.4 400.9L146 397.8L143.7 395.6L146.8 395.2ZM148.3 389.7L149.6 392.5L152.7 392.9L150.5 395.1L151 398.2L148.3 396.7L145.5 398.2L146.1 395.1L143.8 392.9L146.9 392.5ZM148.7 389.3L150 392.2L153.1 392.6L150.9 394.7L151.4 397.8L148.7 396.3L145.9 397.8L146.5 394.7L144.2 392.6L147.3 392.2ZM147 383.6L148.3 386.5L151.4 386.9L149.2 389L149.7 392.1L147 390.6L144.2 392.1L144.8 389L142.5 386.9L145.6 386.5ZM147.4 383L148.7 385.8L151.8 386.2L149.6 388.4L150.1 391.5L147.4 390L144.6 391.5L145.2 388.4L142.9 386.2L146 385.8ZM147.3 382.4L148.7 385.3L151.8 385.7L149.5 387.8L150.1 390.9L147.3 389.4L144.6 390.9L145.1 387.8L142.9 385.7L146 385.3ZM150.9 379.8L152.2 382.7L155.3 383.1L153 385.3L153.6 388.3L150.9 386.8L148.1 388.3L148.7 385.3L146.4 383.1L149.5 382.7ZM151.9 380.5L153.2 383.3L156.3 383.7L154 385.9L154.6 389L151.9 387.5L149.1 389L149.7 385.9L147.4 383.7L150.5 383.3ZM152.2 378.3L153.5 381.1L156.6 381.5L154.3 383.7L154.9 386.8L152.2 385.3L149.4 386.8L150 383.7L147.7 381.5L150.8 381.1ZM155.1 380.5L156.5 383.3L159.6 383.7L157.3 385.9L157.9 389L155.1 387.5L152.4 389L153 385.9L150.7 383.7L153.8 383.3ZM155.5 377.3L156.9 380.1L160 380.6L157.7 382.7L158.3 385.8L155.5 384.3L152.7 385.8L153.3 382.7L151 380.6L154.1 380.1ZM157.7 376.4L159.1 379.3L162.2 379.7L159.9 381.8L160.5 384.9L157.7 383.4L155 384.9L155.5 381.8L153.3 379.7L156.4 379.3ZM154.3 375.2L155.6 378L158.7 378.4L156.5 380.6L157 383.7L154.3 382.2L151.5 383.7L152.1 380.6L149.8 378.4L152.9 378ZM156.6 371.4L158 374.2L161.1 374.6L158.8 376.8L159.4 379.9L156.6 378.4L153.8 379.9L154.4 376.8L152.1 374.6L155.2 374.2ZM157.4 371.1L158.8 374L161.9 374.4L159.6 376.6L160.2 379.6L157.4 378.1L154.7 379.6L155.2 376.6L153 374.4L156.1 374ZM159 368.1L160.3 371L163.4 371.4L161.2 373.6L161.7 376.6L159 375.1L156.2 376.6L156.8 373.6L154.5 371.4L157.6 371ZM155.4 369.1L156.8 371.9L159.9 372.3L157.6 374.5L158.2 377.6L155.4 376.1L152.7 377.6L153.2 374.5L151 372.3L154.1 371.9ZM157.8 367.3L159.1 370.1L162.3 370.5L160 372.7L160.6 375.8L157.8 374.3L155 375.8L155.6 372.7L153.3 370.5L156.4 370.1ZM160.1 367.6L161.5 370.4L164.6 370.8L162.3 373L162.9 376.1L160.1 374.6L157.4 376.1L157.9 373L155.7 370.8L158.8 370.4ZM159.9 365.1L161.3 367.9L164.4 368.3L162.1 370.5L162.7 373.6L159.9 372.1L157.1 373.6L157.7 370.5L155.4 368.3L158.5 367.9ZM162.1 364.5L163.5 367.4L166.6 367.8L164.3 370L164.9 373L162.1 371.5L159.4 373L160 370L157.7 367.8L160.8 367.4ZM162.2 362.2L163.6 365L166.7 365.4L164.4 367.6L165 370.7L162.2 369.2L159.5 370.7L160 367.6L157.8 365.4L160.9 365ZM164.1 361.7L165.4 364.5L168.5 364.9L166.2 367.1L166.8 370.2L164.1 368.7L161.3 370.2L161.9 367.1L159.6 364.9L162.7 364.5ZM164.9 362.4L166.3 365.2L169.4 365.6L167.1 367.8L167.7 370.9L164.9 369.4L162.2 370.9L162.7 367.8L160.5 365.6L163.6 365.2ZM163.3 360.1L164.6 363L167.8 363.4L165.5 365.6L166 368.6L163.3 367.1L160.5 368.6L161.1 365.6L158.8 363.4L161.9 363ZM164.5 357.7L165.9 360.5L169 360.9L166.7 363.1L167.3 366.2L164.5 364.7L161.7 366.2L162.3 363.1L160 360.9L163.2 360.5ZM162.5 357.5L163.9 360.4L167 360.8L164.7 363L165.3 366L162.5 364.5L159.8 366L160.3 363L158 360.8L161.2 360.4ZM165.5 355.8L166.8 358.6L169.9 359.1L167.7 361.2L168.2 364.3L165.5 362.8L162.7 364.3L163.3 361.2L161 359.1L164.1 358.6ZM162.7 356.5L164.1 359.4L167.2 359.8L164.9 362L165.5 365L162.7 363.5L159.9 365L160.5 362L158.2 359.8L161.3 359.4ZM165.1 352.7L166.4 355.5L169.5 355.9L167.3 358.1L167.8 361.2L165.1 359.7L162.3 361.2L162.9 358.1L160.6 355.9L163.7 355.5ZM165.6 353.4L167 356.2L170.1 356.6L167.8 358.8L168.4 361.9L165.6 360.4L162.9 361.9L163.4 358.8L161.2 356.6L164.3 356.2ZM165.2 350.2L166.6 353.1L169.7 353.5L167.4 355.7L168 358.7L165.2 357.2L162.5 358.7L163 355.7L160.8 353.5L163.9 353.1ZM166.1 349.7L167.5 352.5L170.6 352.9L168.3 355.1L168.9 358.2L166.1 356.7L163.4 358.2L163.9 355.1L161.6 352.9L164.8 352.5ZM166.9 348.1L168.2 350.9L171.3 351.3L169 353.5L169.6 356.6L166.9 355.1L164.1 356.6L164.7 353.5L162.4 351.3L165.5 350.9ZM170.2 350.1L171.6 352.9L174.7 353.3L172.4 355.5L173 358.6L170.2 357.1L167.5 358.6L168 355.5L165.8 353.3L168.9 352.9ZM169.8 344.7L171.2 347.5L174.3 347.9L172 350.1L172.6 353.2L169.8 351.7L167.1 353.2L167.7 350.1L165.4 347.9L168.5 347.5ZM171.1 345.9L172.5 348.8L175.6 349.2L173.3 351.3L173.9 354.4L171.1 352.9L168.3 354.4L168.9 351.3L166.6 349.2L169.8 348.8ZM170.9 344.5L172.2 347.3L175.3 347.7L173 349.9L173.6 353L170.9 351.5L168.1 353L168.7 349.9L166.4 347.7L169.5 347.3ZM172.4 346.2L173.7 349L176.8 349.4L174.6 351.6L175.1 354.7L172.4 353.2L169.6 354.7L170.2 351.6L167.9 349.4L171 349ZM172.2 343.9L173.6 346.8L176.7 347.2L174.4 349.3L175 352.4L172.2 350.9L169.5 352.4L170 349.3L167.8 347.2L170.9 346.8ZM176 342.1L177.3 344.9L180.4 345.3L178.1 347.5L178.7 350.6L176 349.1L173.2 350.6L173.8 347.5L171.5 345.3L174.6 344.9ZM176.2 342.1L177.6 345L180.7 345.4L178.4 347.6L179 350.6L176.2 349.1L173.5 350.6L174 347.6L171.8 345.4L174.9 345ZM173.7 339.1L175 342L178.2 342.4L175.9 344.5L176.5 347.6L173.7 346.1L170.9 347.6L171.5 344.5L169.2 342.4L172.3 342ZM176.1 339.6L177.5 342.4L180.6 342.8L178.3 345L178.9 348.1L176.1 346.6L173.3 348.1L173.9 345L171.6 342.8L174.8 342.4ZM178 338.5L179.3 341.3L182.4 341.8L180.1 343.9L180.7 347L178 345.5L175.2 347L175.8 343.9L173.5 341.8L176.6 341.3ZM177.4 335.7L178.7 338.5L181.8 338.9L179.6 341.1L180.1 344.2L177.4 342.7L174.6 344.2L175.2 341.1L172.9 338.9L176 338.5ZM177.2 335.3L178.5 338.2L181.6 338.6L179.4 340.8L179.9 343.9L177.2 342.3L174.4 343.9L175 340.8L172.7 338.6L175.8 338.2ZM179.9 334.8L181.2 337.6L184.3 338.1L182 340.2L182.6 343.3L179.9 341.8L177.1 343.3L177.7 340.2L175.4 338.1L178.5 337.6ZM178.7 335.5L180.1 338.3L183.2 338.7L180.9 340.9L181.5 344L178.7 342.5L176 344L176.5 340.9L174.3 338.7L177.4 338.3ZM180.1 334.8L181.4 337.7L184.6 338.1L182.3 340.2L182.9 343.3L180.1 341.8L177.3 343.3L177.9 340.2L175.6 338.1L178.7 337.7ZM180.3 331.4L181.6 334.2L184.8 334.6L182.5 336.8L183.1 339.9L180.3 338.4L177.5 339.9L178.1 336.8L175.8 334.6L178.9 334.2ZM182 329.6L183.4 332.4L186.5 332.8L184.2 335L184.8 338.1L182 336.6L179.3 338.1L179.8 335L177.6 332.8L180.7 332.4ZM181.9 330L183.3 332.8L186.4 333.2L184.1 335.4L184.7 338.5L181.9 337L179.2 338.5L179.8 335.4L177.5 333.2L180.6 332.8ZM183.2 331.3L184.6 334.2L187.7 334.6L185.4 336.8L186 339.8L183.2 338.3L180.4 339.8L181 336.8L178.7 334.6L181.9 334.2ZM182.5 327L183.9 329.8L187 330.2L184.7 332.4L185.3 335.5L182.5 334L179.8 335.5L180.4 332.4L178.1 330.2L181.2 329.8ZM186.2 327L187.5 329.8L190.6 330.2L188.4 332.4L188.9 335.5L186.2 334L183.4 335.5L184 332.4L181.7 330.2L184.8 329.8ZM185.6 326.4L187 329.2L190.1 329.6L187.8 331.8L188.4 334.9L185.6 333.4L182.8 334.9L183.4 331.8L181.1 329.6L184.3 329.2ZM184.6 325L185.9 327.8L189.1 328.2L186.8 330.4L187.4 333.5L184.6 332L181.8 333.5L182.4 330.4L180.1 328.2L183.2 327.8ZM187.3 325L188.7 327.8L191.8 328.2L189.5 330.4L190.1 333.5L187.3 332L184.6 333.5L185.1 330.4L182.8 328.2L186 327.8ZM187.3 323.5L188.6 326.3L191.8 326.7L189.5 328.9L190.1 332L187.3 330.5L184.5 332L185.1 328.9L182.8 326.7L185.9 326.3ZM187.7 321.8L189 324.6L192.2 325L189.9 327.2L190.5 330.3L187.7 328.8L184.9 330.3L185.5 327.2L183.2 325L186.3 324.6ZM187.8 319.9L189.1 322.7L192.3 323.1L190 325.3L190.5 328.4L187.8 326.9L185 328.4L185.6 325.3L183.3 323.1L186.4 322.7ZM188.7 318.7L190 321.5L193.1 321.9L190.8 324.1L191.4 327.2L188.7 325.7L185.9 327.2L186.5 324.1L184.2 321.9L187.3 321.5ZM190.3 316.7L191.6 319.6L194.7 320L192.4 322.2L193 325.2L190.3 323.7L187.5 325.2L188.1 322.2L185.8 320L188.9 319.6ZM191.9 316.8L193.2 319.7L196.3 320.1L194.1 322.2L194.6 325.3L191.9 323.8L189.1 325.3L189.7 322.2L187.4 320.1L190.5 319.7ZM192.3 315.4L193.6 318.2L196.8 318.7L194.5 320.8L195.1 323.9L192.3 322.4L189.5 323.9L190.1 320.8L187.8 318.7L190.9 318.2ZM191.8 316.2L193.2 319.1L196.3 319.5L194 321.6L194.6 324.7L191.8 323.2L189 324.7L189.6 321.6L187.3 319.5L190.4 319.1ZM194.7 316.3L196 319.2L199.1 319.6L196.9 321.8L197.4 324.8L194.7 323.3L191.9 324.8L192.5 321.8L190.2 319.6L193.3 319.2ZM197.1 313.6L198.4 316.4L201.5 316.8L199.2 319L199.8 322.1L197.1 320.6L194.3 322.1L194.9 319L192.6 316.8L195.7 316.4ZM196 314L197.4 316.9L200.5 317.3L198.2 319.4L198.8 322.5L196 321L193.3 322.5L193.9 319.4L191.6 317.3L194.7 316.9ZM198.8 313.7L200.2 316.5L203.3 316.9L201 319.1L201.6 322.2L198.8 320.7L196.1 322.2L196.6 319.1L194.4 316.9L197.5 316.5ZM201.4 311.9L202.7 314.8L205.8 315.2L203.6 317.3L204.1 320.4L201.4 318.9L198.6 320.4L199.2 317.3L196.9 315.2L200 314.8ZM201.6 312.1L202.9 314.9L206 315.3L203.7 317.5L204.3 320.6L201.6 319.1L198.8 320.6L199.4 317.5L197.1 315.3L200.2 314.9ZM202.2 312.6L203.5 315.4L206.7 315.8L204.4 318L204.9 321.1L202.2 319.6L199.4 321.1L200 318L197.7 315.8L200.8 315.4ZM203.8 310L205.2 312.8L208.3 313.3L206 315.4L206.6 318.5L203.8 317L201 318.5L201.6 315.4L199.3 313.3L202.5 312.8ZM204 307.7L205.4 310.6L208.5 311L206.2 313.1L206.8 316.2L204 314.7L201.2 316.2L201.8 313.1L199.5 311L202.7 310.6ZM205.7 307.7L207.1 310.5L210.2 310.9L207.9 313.1L208.5 316.2L205.7 314.7L203 316.2L203.5 313.1L201.3 310.9L204.4 310.5ZM205.9 309.2L207.2 312L210.4 312.4L208.1 314.6L208.6 317.7L205.9 316.2L203.1 317.7L203.7 314.6L201.4 312.4L204.5 312ZM205.7 304L207 306.8L210.2 307.2L207.9 309.4L208.5 312.5L205.7 311L202.9 312.5L203.5 309.4L201.2 307.2L204.3 306.8ZM206.1 306.7L207.5 309.5L210.6 309.9L208.3 312.1L208.9 315.2L206.1 313.7L203.3 315.2L203.9 312.1L201.6 309.9L204.8 309.5ZM208.5 302.7L209.9 305.5L213 305.9L210.7 308.1L211.3 311.2L208.5 309.7L205.7 311.2L206.3 308.1L204 305.9L207.1 305.5ZM206.6 301L207.9 303.9L211.1 304.3L208.8 306.4L209.3 309.5L206.6 308L203.8 309.5L204.4 306.4L202.1 304.3L205.2 303.9ZM210.1 302.1L211.4 305L214.5 305.4L212.3 307.5L212.8 310.6L210.1 309.1L207.3 310.6L207.9 307.5L205.6 305.4L208.7 305ZM209.8 299.6L211.2 302.4L214.3 302.8L212 305L212.6 308.1L209.8 306.6L207.1 308.1L207.6 305L205.4 302.8L208.5 302.4ZM211.1 300.2L212.4 303.1L215.6 303.5L213.3 305.7L213.9 308.7L211.1 307.2L208.3 308.7L208.9 305.7L206.6 303.5L209.7 303.1ZM213.9 300.8L215.3 303.6L218.4 304L216.1 306.2L216.7 309.3L213.9 307.8L211.2 309.3L211.7 306.2L209.4 304L212.6 303.6ZM212.4 298.9L213.7 301.7L216.9 302.1L214.6 304.3L215.2 307.4L212.4 305.9L209.6 307.4L210.2 304.3L207.9 302.1L211 301.7ZM215.1 297.1L216.4 299.9L219.5 300.3L217.3 302.5L217.8 305.6L215.1 304.1L212.3 305.6L212.9 302.5L210.6 300.3L213.7 299.9ZM213.9 296.7L215.2 299.6L218.3 300L216 302.1L216.6 305.2L213.9 303.7L211.1 305.2L211.7 302.1L209.4 300L212.5 299.6ZM215.6 295.4L216.9 298.3L220.1 298.7L217.8 300.8L218.4 303.9L215.6 302.4L212.8 303.9L213.4 300.8L211.1 298.7L214.2 298.3ZM215.3 295.6L216.6 298.4L219.8 298.8L217.5 301L218.1 304.1L215.3 302.6L212.5 304.1L213.1 301L210.8 298.8L213.9 298.4ZM217.3 294.3L218.6 297.1L221.7 297.5L219.4 299.7L220 302.8L217.3 301.3L214.5 302.8L215.1 299.7L212.8 297.5L215.9 297.1ZM218.6 296.9L219.9 299.7L223 300.1L220.7 302.3L221.3 305.4L218.6 303.9L215.8 305.4L216.4 302.3L214.1 300.1L217.2 299.7ZM220.9 292L222.2 294.9L225.4 295.3L223.1 297.5L223.6 300.5L220.9 299L218.1 300.5L218.7 297.5L216.4 295.3L219.5 294.9ZM224.1 291.3L225.5 294.1L228.6 294.5L226.3 296.7L226.9 299.8L224.1 298.3L221.4 299.8L221.9 296.7L219.6 294.5L222.8 294.1ZM222.7 290.6L224.1 293.4L227.2 293.8L224.9 296L225.5 299.1L222.7 297.6L219.9 299.1L220.5 296L218.2 293.8L221.3 293.4ZM225 291L226.4 293.8L229.5 294.2L227.2 296.4L227.8 299.5L225 298L222.3 299.5L222.8 296.4L220.5 294.2L223.7 293.8ZM223 291.7L224.3 294.5L227.5 295L225.2 297.1L225.8 300.2L223 298.7L220.2 300.2L220.8 297.1L218.5 295L221.6 294.5ZM225.9 290.8L227.3 293.6L230.4 294L228.1 296.2L228.7 299.3L225.9 297.8L223.1 299.3L223.7 296.2L221.4 294L224.6 293.6ZM228.5 291.2L229.8 294L233 294.4L230.7 296.6L231.3 299.7L228.5 298.2L225.7 299.7L226.3 296.6L224 294.4L227.1 294ZM228 289.2L229.4 292L232.5 292.4L230.2 294.6L230.8 297.7L228 296.2L225.2 297.7L225.8 294.6L223.5 292.4L226.7 292ZM229.9 287.9L231.3 290.8L234.4 291.2L232.1 293.3L232.7 296.4L229.9 294.9L227.2 296.4L227.7 293.3L225.4 291.2L228.6 290.8ZM230.2 285.4L231.6 288.2L234.7 288.6L232.4 290.8L233 293.9L230.2 292.4L227.5 293.9L228 290.8L225.8 288.6L228.9 288.2ZM230.1 287.5L231.4 290.3L234.6 290.8L232.3 292.9L232.9 296L230.1 294.5L227.3 296L227.9 292.9L225.6 290.8L228.7 290.3ZM232.1 285.3L233.4 288.1L236.6 288.5L234.3 290.7L234.9 293.8L232.1 292.3L229.3 293.8L229.9 290.7L227.6 288.5L230.7 288.1ZM233.8 282.5L235.1 285.3L238.2 285.7L235.9 287.9L236.5 291L233.8 289.5L231 291L231.6 287.9L229.3 285.7L232.4 285.3ZM235.7 283.2L237 286.1L240.2 286.5L237.9 288.6L238.5 291.7L235.7 290.2L232.9 291.7L233.5 288.6L231.2 286.5L234.3 286.1ZM235.9 281.6L237.3 284.4L240.4 284.8L238.1 287L238.7 290.1L235.9 288.6L233.2 290.1L233.7 287L231.4 284.8L234.6 284.4ZM237 282.4L238.4 285.2L241.5 285.6L239.2 287.8L239.8 290.9L237 289.4L234.3 290.9L234.8 287.8L232.5 285.6L235.7 285.2ZM235.3 280.5L236.7 283.3L239.8 283.7L237.5 285.9L238.1 289L235.3 287.5L232.6 289L233.1 285.9L230.9 283.7L234 283.3ZM237.2 279.5L238.5 282.3L241.6 282.7L239.3 284.9L239.9 288L237.2 286.5L234.4 288L235 284.9L232.7 282.7L235.8 282.3ZM235.4 277.8L236.7 280.7L239.8 281.1L237.6 283.2L238.1 286.3L235.4 284.8L232.6 286.3L233.2 283.2L230.9 281.1L234 280.7ZM234.4 277.4L235.8 280.2L238.9 280.6L236.6 282.8L237.2 285.9L234.4 284.4L231.6 285.9L232.2 282.8L229.9 280.6L233 280.2ZM238.2 277.2L239.5 280L242.6 280.4L240.4 282.6L240.9 285.7L238.2 284.2L235.4 285.7L236 282.6L233.7 280.4L236.8 280ZM240.5 275.5L241.9 278.3L245 278.7L242.7 280.9L243.3 284L240.5 282.5L237.7 284L238.3 280.9L236 278.7L239.2 278.3ZM240.7 276.6L242.1 279.4L245.2 279.9L242.9 282L243.5 285.1L240.7 283.6L238 285.1L238.6 282L236.3 279.9L239.4 279.4ZM241 277.3L242.4 280.2L245.5 280.6L243.2 282.7L243.8 285.8L241 284.3L238.2 285.8L238.8 282.7L236.5 280.6L239.6 280.2ZM242.5 276L243.8 278.8L246.9 279.3L244.7 281.4L245.2 284.5L242.5 283L239.7 284.5L240.3 281.4L238 279.3L241.1 278.8ZM243 275.8L244.3 278.6L247.4 279L245.2 281.2L245.7 284.3L243 282.8L240.2 284.3L240.8 281.2L238.5 279L241.6 278.6ZM245.3 274.1L246.6 276.9L249.7 277.3L247.5 279.5L248 282.6L245.3 281.1L242.5 282.6L243.1 279.5L240.8 277.3L243.9 276.9ZM244.5 274.9L245.8 277.8L249 278.2L246.7 280.3L247.2 283.4L244.5 281.9L241.7 283.4L242.3 280.3L240 278.2L243.1 277.8ZM247.7 273L249 275.8L252.1 276.2L249.9 278.4L250.4 281.5L247.7 280L244.9 281.5L245.5 278.4L243.2 276.2L246.3 275.8ZM248.8 271.1L250.2 274L253.3 274.4L251 276.5L251.6 279.6L248.8 278.1L246.1 279.6L246.6 276.5L244.4 274.4L247.5 274ZM250.6 269.5L251.9 272.3L255 272.7L252.7 274.9L253.3 278L250.6 276.5L247.8 278L248.4 274.9L246.1 272.7L249.2 272.3ZM253.2 272.7L254.6 275.6L257.7 276L255.4 278.2L256 281.2L253.2 279.7L250.5 281.2L251 278.2L248.7 276L251.9 275.6ZM253.9 273.4L255.3 276.2L258.4 276.7L256.1 278.8L256.7 281.9L253.9 280.4L251.1 281.9L251.7 278.8L249.4 276.7L252.5 276.2ZM254.1 271.3L255.5 274.1L258.6 274.6L256.3 276.7L256.9 279.8L254.1 278.3L251.4 279.8L251.9 276.7L249.7 274.6L252.8 274.1ZM258 272.3L259.4 275.1L262.5 275.6L260.2 277.7L260.8 280.8L258 279.3L255.3 280.8L255.8 277.7L253.5 275.6L256.7 275.1ZM258 271.3L259.4 274.2L262.5 274.6L260.2 276.7L260.8 279.8L258 278.3L255.2 279.8L255.8 276.7L253.5 274.6L256.7 274.2ZM259.4 270.7L260.8 273.6L263.9 274L261.6 276.1L262.2 279.2L259.4 277.7L256.7 279.2L257.3 276.1L255 274L258.1 273.6ZM260 271.2L261.4 274L264.5 274.4L262.2 276.6L262.8 279.7L260 278.2L257.3 279.7L257.8 276.6L255.6 274.4L258.7 274ZM263.7 271.6L265.1 274.4L268.2 274.8L265.9 277L266.5 280.1L263.7 278.6L260.9 280.1L261.5 277L259.2 274.8L262.4 274.4ZM265.5 267.7L266.8 270.5L269.9 270.9L267.6 273.1L268.2 276.2L265.5 274.7L262.7 276.2L263.3 273.1L261 270.9L264.1 270.5ZM265.6 268.6L267 271.4L270.1 271.8L267.8 274L268.4 277.1L265.6 275.6L262.8 277.1L263.4 274L261.1 271.8L264.2 271.4ZM267.3 268.3L268.6 271.1L271.7 271.5L269.5 273.7L270 276.8L267.3 275.3L264.5 276.8L265.1 273.7L262.8 271.5L265.9 271.1ZM268.3 265.8L269.6 268.7L272.8 269.1L270.5 271.2L271 274.3L268.3 272.8L265.5 274.3L266.1 271.2L263.8 269.1L266.9 268.7ZM270.3 263.7L271.6 266.5L274.7 266.9L272.5 269.1L273 272.2L270.3 270.7L267.5 272.2L268.1 269.1L265.8 266.9L268.9 266.5ZM270.2 268.7L271.5 271.5L274.6 271.9L272.4 274.1L272.9 277.2L270.2 275.7L267.4 277.2L268 274.1L265.7 271.9L268.8 271.5ZM273.2 266.1L274.5 269L277.7 269.4L275.4 271.5L276 274.6L273.2 273.1L270.4 274.6L271 271.5L268.7 269.4L271.8 269ZM275.1 266.6L276.4 269.4L279.6 269.8L277.3 272L277.9 275.1L275.1 273.6L272.3 275.1L272.9 272L270.6 269.8L273.7 269.4ZM274.5 267.8L275.9 270.7L279 271.1L276.7 273.2L277.3 276.3L274.5 274.8L271.7 276.3L272.3 273.2L270 271.1L273.2 270.7ZM276.2 267.4L277.5 270.2L280.7 270.7L278.4 272.8L279 275.9L276.2 274.4L273.4 275.9L274 272.8L271.7 270.7L274.8 270.2ZM279.4 262.6L280.8 265.5L283.9 265.9L281.6 268L282.2 271.1L279.4 269.6L276.7 271.1L277.2 268L275 265.9L278.1 265.5ZM277.1 264.9L278.4 267.7L281.5 268.2L279.3 270.3L279.8 273.4L277.1 271.9L274.3 273.4L274.9 270.3L272.6 268.2L275.7 267.7ZM278.1 263.2L279.4 266L282.6 266.4L280.3 268.6L280.8 271.7L278.1 270.2L275.3 271.7L275.9 268.6L273.6 266.4L276.7 266ZM278.4 262.5L279.8 265.3L282.9 265.7L280.6 267.9L281.2 271L278.4 269.5L275.7 271L276.3 267.9L274 265.7L277.1 265.3ZM281.8 260.8L283.2 263.7L286.3 264.1L284 266.3L284.6 269.3L281.8 267.8L279 269.3L279.6 266.3L277.3 264.1L280.5 263.7ZM281.7 256.5L283.1 259.3L286.2 259.7L283.9 261.9L284.5 265L281.7 263.5L278.9 265L279.5 261.9L277.2 259.7L280.4 259.3ZM284.5 259.6L285.9 262.4L289 262.8L286.7 265L287.3 268.1L284.5 266.6L281.8 268.1L282.4 265L280.1 262.8L283.2 262.4ZM285.5 258.8L286.8 261.6L290 262L287.7 264.2L288.2 267.3L285.5 265.8L282.7 267.3L283.3 264.2L281 262L284.1 261.6ZM285.1 258.2L286.4 261.1L289.5 261.5L287.2 263.6L287.8 266.7L285.1 265.2L282.3 266.7L282.9 263.6L280.6 261.5L283.7 261.1ZM285.8 257.2L287.2 260.1L290.3 260.5L288 262.6L288.6 265.7L285.8 264.2L283.1 265.7L283.7 262.6L281.4 260.5L284.5 260.1ZM286.6 256.2L288 259L291.1 259.4L288.8 261.6L289.4 264.7L286.6 263.2L283.9 264.7L284.5 261.6L282.2 259.4L285.3 259ZM289.9 257.8L291.2 260.7L294.3 261.1L292.1 263.3L292.6 266.3L289.9 264.8L287.1 266.3L287.7 263.3L285.4 261.1L288.5 260.7ZM291.3 257.1L292.6 259.9L295.7 260.3L293.4 262.5L294 265.6L291.3 264.1L288.5 265.6L289.1 262.5L286.8 260.3L289.9 259.9ZM292.9 257.1L294.3 260L297.4 260.4L295.1 262.5L295.7 265.6L292.9 264.1L290.2 265.6L290.7 262.5L288.5 260.4L291.6 260ZM295.2 255.9L296.6 258.7L299.7 259.2L297.4 261.3L298 264.4L295.2 262.9L292.5 264.4L293 261.3L290.8 259.2L293.9 258.7ZM294 255.4L295.4 258.2L298.5 258.6L296.2 260.8L296.8 263.9L294 262.4L291.2 263.9L291.8 260.8L289.5 258.6L292.7 258.2ZM295.3 254L296.7 256.8L299.8 257.2L297.5 259.4L298.1 262.5L295.3 261L292.6 262.5L293.2 259.4L290.9 257.2L294 256.8ZM299 254.7L300.4 257.5L303.5 257.9L301.2 260.1L301.8 263.2L299 261.7L296.3 263.2L296.8 260.1L294.6 257.9L297.7 257.5ZM298.2 253.9L299.6 256.7L302.7 257.1L300.4 259.3L301 262.4L298.2 260.9L295.4 262.4L296 259.3L293.7 257.1L296.9 256.7ZM299.8 253.3L301.2 256.1L304.3 256.5L302 258.7L302.6 261.8L299.8 260.3L297.1 261.8L297.7 258.7L295.4 256.5L298.5 256.1ZM301.7 252.1L303 255L306.2 255.4L303.9 257.5L304.4 260.6L301.7 259.1L298.9 260.6L299.5 257.5L297.2 255.4L300.3 255ZM301.3 253.1L302.6 255.9L305.8 256.3L303.5 258.5L304.1 261.6L301.3 260.1L298.5 261.6L299.1 258.5L296.8 256.3L299.9 255.9ZM303.5 255L304.9 257.8L308 258.2L305.7 260.4L306.3 263.5L303.5 262L300.8 263.5L301.3 260.4L299.1 258.2L302.2 257.8ZM305.1 252L306.5 254.8L309.6 255.2L307.3 257.4L307.9 260.5L305.1 259L302.4 260.5L302.9 257.4L300.7 255.2L303.8 254.8ZM308.1 252.8L309.4 255.6L312.5 256.1L310.3 258.2L310.8 261.3L308.1 259.8L305.3 261.3L305.9 258.2L303.6 256.1L306.7 255.6ZM307.2 254.1L308.5 256.9L311.6 257.3L309.4 259.5L309.9 262.6L307.2 261.1L304.4 262.6L305 259.5L302.7 257.3L305.8 256.9ZM309.7 253.8L311 256.6L314.1 257.1L311.9 259.2L312.4 262.3L309.7 260.8L306.9 262.3L307.5 259.2L305.2 257.1L308.3 256.6ZM310.6 252L312 254.8L315.1 255.2L312.8 257.4L313.4 260.5L310.6 259L307.9 260.5L308.4 257.4L306.1 255.2L309.3 254.8ZM311.8 251.5L313.1 254.3L316.3 254.7L314 256.9L314.5 260L311.8 258.5L309 260L309.6 256.9L307.3 254.7L310.4 254.3ZM312.6 252.5L313.9 255.3L317 255.7L314.8 257.9L315.3 261L312.6 259.5L309.8 261L310.4 257.9L308.1 255.7L311.2 255.3ZM314.5 248.8L315.8 251.6L319 252L316.7 254.2L317.2 257.3L314.5 255.8L311.7 257.3L312.3 254.2L310 252L313.1 251.6ZM313 248.8L314.4 251.6L317.5 252L315.2 254.2L315.8 257.3L313 255.8L310.3 257.3L310.9 254.2L308.6 252L311.7 251.6ZM314.2 248.6L315.5 251.4L318.6 251.9L316.4 254L316.9 257.1L314.2 255.6L311.4 257.1L312 254L309.7 251.9L312.8 251.4ZM315.1 247.8L316.4 250.6L319.5 251L317.3 253.2L317.8 256.3L315.1 254.8L312.3 256.3L312.9 253.2L310.6 251L313.7 250.6ZM316 246.1L317.3 249L320.4 249.4L318.2 251.5L318.7 254.6L316 253.1L313.2 254.6L313.8 251.5L311.5 249.4L314.6 249ZM317.8 248.3L319.2 251.1L322.3 251.5L320 253.7L320.6 256.8L317.8 255.3L315.1 256.8L315.6 253.7L313.3 251.5L316.5 251.1ZM319.1 245.6L320.5 248.4L323.6 248.9L321.3 251L321.9 254.1L319.1 252.6L316.3 254.1L316.9 251L314.6 248.9L317.8 248.4ZM321.7 244.7L323.1 247.6L326.2 248L323.9 250.1L324.5 253.2L321.7 251.7L319 253.2L319.5 250.1L317.3 248L320.4 247.6ZM319.5 246.2L320.9 249.1L324 249.5L321.7 251.6L322.3 254.7L319.5 253.2L316.8 254.7L317.3 251.6L315 249.5L318.2 249.1ZM323.4 247.2L324.8 250L327.9 250.5L325.6 252.6L326.2 255.7L323.4 254.2L320.6 255.7L321.2 252.6L318.9 250.5L322 250ZM323.1 245.6L324.5 248.5L327.6 248.9L325.3 251.1L325.9 254.2L323.1 252.6L320.3 254.2L320.9 251.1L318.6 248.9L321.8 248.5ZM323.4 242.4L324.7 245.2L327.9 245.6L325.6 247.8L326.1 250.9L323.4 249.4L320.6 250.9L321.2 247.8L318.9 245.6L322 245.2ZM324.3 244.5L325.6 247.4L328.7 247.8L326.5 249.9L327 253L324.3 251.5L321.5 253L322.1 249.9L319.8 247.8L322.9 247.4ZM325.1 243.2L326.5 246L329.6 246.4L327.3 248.6L327.9 251.7L325.1 250.2L322.4 251.7L322.9 248.6L320.7 246.4L323.8 246ZM328 240.4L329.3 243.2L332.4 243.6L330.2 245.8L330.7 248.9L328 247.4L325.2 248.9L325.8 245.8L323.5 243.6L326.6 243.2ZM327.1 239.2L328.5 242L331.6 242.4L329.3 244.6L329.9 247.7L327.1 246.2L324.4 247.7L325 244.6L322.7 242.4L325.8 242ZM326.9 242.8L328.2 245.6L331.3 246L329 248.2L329.6 251.3L326.9 249.8L324.1 251.3L324.7 248.2L322.4 246L325.5 245.6ZM329.9 239L331.2 241.8L334.4 242.2L332.1 244.4L332.7 247.5L329.9 246L327.1 247.5L327.7 244.4L325.4 242.2L328.5 241.8ZM334.3 233.9L335.6 236.8L338.7 237.2L336.4 239.4L337 242.4L334.3 240.9L331.5 242.4L332.1 239.4L329.8 237.2L332.9 236.8ZM329.1 236.6L330.4 239.4L333.5 239.8L331.2 242L331.8 245.1L329.1 243.6L326.3 245.1L326.9 242L324.6 239.8L327.7 239.4ZM331.5 235.7L332.8 238.5L336 238.9L333.7 241.1L334.3 244.2L331.5 242.7L328.7 244.2L329.3 241.1L327 238.9L330.1 238.5ZM331.4 236.4L332.8 239.2L335.9 239.6L333.6 241.8L334.2 244.9L331.4 243.4L328.7 244.9L329.2 241.8L326.9 239.6L330.1 239.2ZM332.9 234.7L334.2 237.5L337.3 237.9L335 240.1L335.6 243.2L332.9 241.7L330.1 243.2L330.7 240.1L328.4 237.9L331.5 237.5ZM337.1 231.8L338.5 234.6L341.6 235L339.3 237.2L339.9 240.3L337.1 238.8L334.4 240.3L335 237.2L332.7 235L335.8 234.6ZM335.2 234.9L336.6 237.7L339.7 238.1L337.4 240.3L338 243.4L335.2 241.9L332.5 243.4L333 240.3L330.8 238.1L333.9 237.7ZM335.7 233.8L337 236.6L340.2 237.1L337.9 239.2L338.5 242.3L335.7 240.8L332.9 242.3L333.5 239.2L331.2 237.1L334.3 236.6ZM335.6 233.1L336.9 235.9L340.1 236.3L337.8 238.5L338.3 241.6L335.6 240.1L332.8 241.6L333.4 238.5L331.1 236.3L334.2 235.9ZM341.2 231.7L342.5 234.6L345.6 235L343.4 237.1L343.9 240.2L341.2 238.7L338.4 240.2L339 237.1L336.7 235L339.8 234.6ZM340 231.7L341.4 234.6L344.5 235L342.2 237.1L342.8 240.2L340 238.7L337.3 240.2L337.9 237.1L335.6 235L338.7 234.6ZM340.8 230.2L342.2 233L345.3 233.4L343 235.6L343.6 238.7L340.8 237.2L338.1 238.7L338.6 235.6L336.3 233.4L339.5 233ZM340 228.9L341.4 231.8L344.5 232.2L342.2 234.4L342.8 237.5L340 235.9L337.2 237.5L337.8 234.4L335.5 232.2L338.7 231.8ZM341.3 229.4L342.7 232.2L345.8 232.6L343.5 234.8L344.1 237.9L341.3 236.4L338.6 237.9L339.1 234.8L336.9 232.6L340 232.2ZM343.1 227L344.4 229.8L347.5 230.2L345.3 232.4L345.8 235.5L343.1 234L340.3 235.5L340.9 232.4L338.6 230.2L341.7 229.8ZM343.7 228.6L345.1 231.4L348.2 231.8L345.9 234L346.5 237.1L343.7 235.6L340.9 237.1L341.5 234L339.2 231.8L342.4 231.4ZM347.2 226.9L348.5 229.7L351.7 230.1L349.4 232.3L349.9 235.4L347.2 233.9L344.4 235.4L345 232.3L342.7 230.1L345.8 229.7ZM346.3 226.3L347.7 229.1L350.8 229.5L348.5 231.7L349.1 234.8L346.3 233.3L343.5 234.8L344.1 231.7L341.8 229.5L345 229.1ZM346.5 226.1L347.9 228.9L351 229.3L348.7 231.5L349.3 234.6L346.5 233.1L343.7 234.6L344.3 231.5L342 229.3L345.2 228.9ZM347.3 225.4L348.7 228.3L351.8 228.7L349.5 230.9L350.1 234L347.3 232.4L344.6 234L345.2 230.9L342.9 228.7L346 228.3ZM351 224.5L352.4 227.3L355.5 227.8L353.2 229.9L353.8 233L351 231.5L348.3 233L348.9 229.9L346.6 227.8L349.7 227.3ZM351.6 223.6L353 226.5L356.1 226.9L353.8 229L354.4 232.1L351.6 230.6L348.9 232.1L349.5 229L347.2 226.9L350.3 226.5ZM353.1 223.1L354.4 225.9L357.5 226.4L355.3 228.5L355.8 231.6L353.1 230.1L350.3 231.6L350.9 228.5L348.6 226.4L351.7 225.9ZM353.4 222.8L354.8 225.6L357.9 226L355.6 228.2L356.2 231.3L353.4 229.8L350.7 231.3L351.3 228.2L349 226L352.1 225.6ZM352.1 219.7L353.5 222.6L356.6 223L354.3 225.1L354.9 228.2L352.1 226.7L349.4 228.2L350 225.1L347.7 223L350.8 222.6ZM353.6 215.7L354.9 218.5L358.1 219L355.8 221.1L356.4 224.2L353.6 222.7L350.8 224.2L351.4 221.1L349.1 219L352.2 218.5ZM356.8 218.2L358.2 221L361.3 221.4L359 223.6L359.6 226.7L356.8 225.2L354.1 226.7L354.7 223.6L352.4 221.4L355.5 221ZM356.8 217.6L358.1 220.4L361.3 220.8L359 223L359.6 226.1L356.8 224.6L354 226.1L354.6 223L352.3 220.8L355.4 220.4ZM357.9 215.3L359.3 218.1L362.4 218.5L360.1 220.7L360.7 223.8L357.9 222.3L355.1 223.8L355.7 220.7L353.4 218.5L356.5 218.1ZM359.7 214.3L361.1 217.1L364.2 217.5L361.9 219.7L362.5 222.8L359.7 221.3L357 222.8L357.5 219.7L355.3 217.5L358.4 217.1ZM360 214.3L361.4 217.2L364.5 217.6L362.2 219.7L362.8 222.8L360 221.3L357.2 222.8L357.8 219.7L355.5 217.6L358.7 217.2ZM360.5 215.1L361.8 217.9L364.9 218.3L362.7 220.5L363.2 223.6L360.5 222.1L357.7 223.6L358.3 220.5L356 218.3L359.1 217.9ZM361.8 213.6L363.2 216.5L366.3 216.9L364 219L364.6 222.1L361.8 220.6L359 222.1L359.6 219L357.3 216.9L360.5 216.5ZM360.3 212.9L361.7 215.8L364.8 216.2L362.5 218.3L363.1 221.4L360.3 219.9L357.6 221.4L358.2 218.3L355.9 216.2L359 215.8ZM363.6 210.3L365 213.1L368.1 213.5L365.8 215.7L366.4 218.8L363.6 217.3L360.9 218.8L361.4 215.7L359.1 213.5L362.3 213.1ZM365.2 212.1L366.5 214.9L369.6 215.3L367.3 217.5L367.9 220.6L365.2 219.1L362.4 220.6L363 217.5L360.7 215.3L363.8 214.9ZM364.2 210.9L365.6 213.7L368.7 214.1L366.4 216.3L367 219.4L364.2 217.9L361.5 219.4L362 216.3L359.7 214.1L362.9 213.7ZM366.9 209.1L368.3 211.9L371.4 212.3L369.1 214.5L369.7 217.6L366.9 216.1L364.1 217.6L364.7 214.5L362.4 212.3L365.5 211.9ZM365.4 207.8L366.8 210.6L369.9 211L367.6 213.2L368.2 216.3L365.4 214.8L362.7 216.3L363.3 213.2L361 211L364.1 210.6ZM369.4 207.5L370.7 210.3L373.9 210.7L371.6 212.9L372.2 216L369.4 214.5L366.6 216L367.2 212.9L364.9 210.7L368 210.3ZM368.5 206.1L369.8 208.9L372.9 209.3L370.7 211.5L371.2 214.6L368.5 213.1L365.7 214.6L366.3 211.5L364 209.3L367.1 208.9ZM372.7 203.9L374.1 206.8L377.2 207.2L374.9 209.3L375.5 212.4L372.7 210.9L369.9 212.4L370.5 209.3L368.2 207.2L371.4 206.8ZM372.9 203.4L374.2 206.3L377.3 206.7L375.1 208.8L375.6 211.9L372.9 210.4L370.1 211.9L370.7 208.8L368.4 206.7L371.5 206.3ZM374.7 203.9L376.1 206.7L379.2 207.2L376.9 209.3L377.5 212.4L374.7 210.9L372 212.4L372.5 209.3L370.3 207.2L373.4 206.7ZM373.3 203.4L374.6 206.3L377.7 206.7L375.4 208.8L376 211.9L373.3 210.4L370.5 211.9L371.1 208.8L368.8 206.7L371.9 206.3ZM374.9 200.9L376.3 203.8L379.4 204.2L377.1 206.3L377.7 209.4L374.9 207.9L372.2 209.4L372.7 206.3L370.4 204.2L373.6 203.8ZM377 203.9L378.4 206.7L381.5 207.1L379.2 209.3L379.8 212.4L377 210.9L374.3 212.4L374.8 209.3L372.6 207.1L375.7 206.7ZM379.9 199.4L381.3 202.3L384.4 202.7L382.1 204.9L382.7 207.9L379.9 206.4L377.1 207.9L377.7 204.9L375.4 202.7L378.6 202.3ZM380.8 200.8L382.2 203.6L385.3 204.1L383 206.2L383.6 209.3L380.8 207.8L378.1 209.3L378.6 206.2L376.4 204.1L379.5 203.6ZM380.7 197.3L382.1 200.1L385.2 200.5L382.9 202.7L383.5 205.8L380.7 204.3L378 205.8L378.5 202.7L376.2 200.5L379.4 200.1ZM380.5 197.5L381.8 200.3L384.9 200.7L382.7 202.9L383.2 206L380.5 204.5L377.7 206L378.3 202.9L376 200.7L379.1 200.3ZM383.3 198.2L384.6 201L387.8 201.4L385.5 203.6L386.1 206.7L383.3 205.2L380.5 206.7L381.1 203.6L378.8 201.4L381.9 201ZM382.6 197.2L384 200.1L387.1 200.5L384.8 202.7L385.4 205.8L382.6 204.2L379.8 205.8L380.4 202.7L378.1 200.5L381.2 200.1ZM383.6 196.5L384.9 199.4L388.1 199.8L385.8 202L386.4 205L383.6 203.5L380.8 205L381.4 202L379.1 199.8L382.2 199.4ZM383 197.5L384.3 200.4L387.5 200.8L385.2 202.9L385.7 206L383 204.5L380.2 206L380.8 202.9L378.5 200.8L381.6 200.4ZM388.2 198L389.6 200.9L392.7 201.3L390.4 203.4L391 206.5L388.2 205L385.5 206.5L386 203.4L383.8 201.3L386.9 200.9ZM387.5 194.3L388.8 197.2L391.9 197.6L389.6 199.7L390.2 202.8L387.5 201.3L384.7 202.8L385.3 199.7L383 197.6L386.1 197.2ZM386.3 194.4L387.7 197.3L390.8 197.7L388.5 199.9L389.1 203L386.3 201.4L383.5 203L384.1 199.9L381.8 197.7L385 197.3ZM388.6 191.8L389.9 194.7L393.1 195.1L390.8 197.2L391.4 200.3L388.6 198.8L385.8 200.3L386.4 197.2L384.1 195.1L387.2 194.7ZM390.7 193.7L392 196.6L395.2 197L392.9 199.2L393.5 202.2L390.7 200.7L387.9 202.2L388.5 199.2L386.2 197L389.3 196.6ZM394.8 194.2L396.2 197.1L399.3 197.5L397 199.6L397.6 202.7L394.8 201.2L392.1 202.7L392.6 199.6L390.4 197.5L393.5 197.1ZM392 190.9L393.3 193.7L396.4 194.1L394.1 196.3L394.7 199.4L392 197.9L389.2 199.4L389.8 196.3L387.5 194.1L390.6 193.7ZM393.5 191.5L394.9 194.3L398 194.8L395.7 196.9L396.3 200L393.5 198.5L390.7 200L391.3 196.9L389 194.8L392.1 194.3ZM393.6 191L394.9 193.8L398.1 194.2L395.8 196.4L396.4 199.5L393.6 198L390.8 199.5L391.4 196.4L389.1 194.2L392.2 193.8ZM395.6 187.6L396.9 190.4L400 190.9L397.8 193L398.3 196.1L395.6 194.6L392.8 196.1L393.4 193L391.1 190.9L394.2 190.4ZM395.3 187.9L396.7 190.8L399.8 191.2L397.5 193.3L398.1 196.4L395.3 194.9L392.6 196.4L393.1 193.3L390.8 191.2L394 190.8ZM396.5 184.6L397.9 187.4L401 187.9L398.7 190L399.3 193.1L396.5 191.6L393.8 193.1L394.3 190L392.1 187.9L395.2 187.4ZM395.7 187.2L397 190L400.2 190.4L397.9 192.6L398.5 195.7L395.7 194.2L392.9 195.7L393.5 192.6L391.2 190.4L394.3 190ZM399 184.9L400.4 187.7L403.5 188.1L401.2 190.3L401.8 193.4L399 191.9L396.3 193.4L396.8 190.3L394.5 188.1L397.7 187.7ZM398.1 184.5L399.5 187.3L402.6 187.8L400.3 189.9L400.9 193L398.1 191.5L395.3 193L395.9 189.9L393.6 187.8L396.8 187.3ZM399.9 182.8L401.3 185.7L404.4 186.1L402.1 188.2L402.7 191.3L399.9 189.8L397.1 191.3L397.7 188.2L395.4 186.1L398.5 185.7ZM401.2 184.3L402.5 187.1L405.6 187.5L403.4 189.7L403.9 192.8L401.2 191.3L398.4 192.8L399 189.7L396.7 187.5L399.8 187.1ZM403 182.4L404.4 185.2L407.5 185.6L405.2 187.8L405.8 190.9L403 189.4L400.3 190.9L400.8 187.8L398.5 185.6L401.7 185.2ZM405.6 182.5L406.9 185.4L410.1 185.8L407.8 188L408.3 191L405.6 189.5L402.8 191L403.4 188L401.1 185.8L404.2 185.4ZM406.3 183.8L407.6 186.6L410.7 187L408.5 189.2L409 192.3L406.3 190.8L403.5 192.3L404.1 189.2L401.8 187L404.9 186.6ZM407.5 182.7L408.9 185.6L412 186L409.7 188.2L410.3 191.3L407.5 189.7L404.8 191.3L405.4 188.2L403.1 186L406.2 185.6ZM407.3 183.7L408.7 186.5L411.8 187L409.5 189.1L410.1 192.2L407.3 190.7L404.6 192.2L405.1 189.1L402.8 187L406 186.5ZM411.9 182.2L413.2 185.1L416.3 185.5L414.1 187.6L414.6 190.7L411.9 189.2L409.1 190.7L409.7 187.6L407.4 185.5L410.5 185.1ZM414.4 181.2L415.8 184.1L418.9 184.5L416.6 186.6L417.2 189.7L414.4 188.2L411.7 189.7L412.3 186.6L410 184.5L413.1 184.1ZM412.7 181.9L414.1 184.8L417.2 185.2L414.9 187.3L415.5 190.4L412.7 188.9L409.9 190.4L410.5 187.3L408.2 185.2L411.4 184.8ZM417.8 181.8L419.1 184.6L422.2 185L420 187.2L420.5 190.3L417.8 188.8L415 190.3L415.6 187.2L413.3 185L416.4 184.6ZM415.2 180.2L416.5 183.1L419.7 183.5L417.4 185.6L418 188.7L415.2 187.2L412.4 188.7L413 185.6L410.7 183.5L413.8 183.1ZM415.2 177.6L416.5 180.5L419.7 180.9L417.4 183.1L418 186.1L415.2 184.6L412.4 186.1L413 183.1L410.7 180.9L413.8 180.5ZM416.9 176.7L418.2 179.6L421.4 180L419.1 182.2L419.6 185.2L416.9 183.7L414.1 185.2L414.7 182.2L412.4 180L415.5 179.6ZM427.6 172.2L429 175.1L432.1 175.5L429.8 177.6L430.4 180.7L427.6 179.2L424.8 180.7L425.4 177.6L423.1 175.5L426.3 175.1ZM429.2 174.1L430.5 177L433.7 177.4L431.4 179.6L432 182.6L429.2 181.1L426.4 182.6L427 179.6L424.7 177.4L427.8 177ZM431.9 172.9L433.2 175.8L436.3 176.2L434 178.3L434.6 181.4L431.9 179.9L429.1 181.4L429.7 178.3L427.4 176.2L430.5 175.8ZM432.6 173L434 175.9L437.1 176.3L434.8 178.4L435.4 181.5L432.6 180L429.9 181.5L430.4 178.4L428.2 176.3L431.3 175.9ZM430.3 170.3L431.7 173.2L434.8 173.6L432.5 175.7L433.1 178.8L430.3 177.3L427.5 178.8L428.1 175.7L425.8 173.6L428.9 173.2ZM430.6 170.2L431.9 173.1L435.1 173.5L432.8 175.6L433.4 178.7L430.6 177.2L427.8 178.7L428.4 175.6L426.1 173.5L429.2 173.1ZM434.6 169.1L436 172L439.1 172.4L436.8 174.5L437.4 177.6L434.6 176.1L431.9 177.6L432.4 174.5L430.2 172.4L433.3 172ZM437.7 170.8L439.1 173.7L442.2 174.1L439.9 176.2L440.5 179.3L437.7 177.8L434.9 179.3L435.5 176.2L433.2 174.1L436.4 173.7ZM439.3 169.5L440.7 172.3L443.8 172.7L441.5 174.9L442.1 178L439.3 176.5L436.5 178L437.1 174.9L434.8 172.7L437.9 172.3ZM438.3 169L439.6 171.8L442.8 172.3L440.5 174.4L441.1 177.5L438.3 176L435.5 177.5L436.1 174.4L433.8 172.3L436.9 171.8ZM440.3 168.2L441.6 171L444.8 171.4L442.5 173.6L443 176.7L440.3 175.2L437.5 176.7L438.1 173.6L435.8 171.4L438.9 171ZM441.1 168.2L442.4 171L445.5 171.4L443.2 173.6L443.8 176.7L441.1 175.2L438.3 176.7L438.9 173.6L436.6 171.4L439.7 171ZM439.9 168.2L441.3 171.1L444.4 171.5L442.1 173.6L442.7 176.7L439.9 175.2L437.2 176.7L437.7 173.6L435.5 171.5L438.6 171.1ZM442.3 166.2L443.6 169L446.8 169.5L444.5 171.6L445.1 174.7L442.3 173.2L439.5 174.7L440.1 171.6L437.8 169.5L440.9 169ZM440.2 165.1L441.5 167.9L444.6 168.3L442.4 170.5L442.9 173.6L440.2 172.1L437.4 173.6L438 170.5L435.7 168.3L438.8 167.9ZM443.9 164.8L445.2 167.6L448.4 168.1L446.1 170.2L446.7 173.3L443.9 171.8L441.1 173.3L441.7 170.2L439.4 168.1L442.5 167.6ZM443.4 163.8L444.8 166.6L447.9 167L445.6 169.2L446.2 172.3L443.4 170.8L440.6 172.3L441.2 169.2L438.9 167L442 166.6ZM443.6 163.9L445 166.7L448.1 167.1L445.8 169.3L446.4 172.4L443.6 170.9L440.8 172.4L441.4 169.3L439.1 167.1L442.3 166.7ZM446.3 162.2L447.7 165.1L450.8 165.5L448.5 167.6L449.1 170.7L446.3 169.2L443.5 170.7L444.1 167.6L441.8 165.5L444.9 165.1ZM445.4 163.6L446.7 166.5L449.8 166.9L447.6 169L448.1 172.1L445.4 170.6L442.6 172.1L443.2 169L440.9 166.9L444 166.5ZM447.2 161.1L448.5 164L451.7 164.4L449.4 166.5L449.9 169.6L447.2 168.1L444.4 169.6L445 166.5L442.7 164.4L445.8 164ZM449.3 160.7L450.7 163.5L453.8 163.9L451.5 166.1L452.1 169.2L449.3 167.7L446.6 169.2L447.2 166.1L444.9 163.9L448 163.5ZM449.1 158.3L450.5 161.1L453.6 161.5L451.3 163.7L451.9 166.8L449.1 165.3L446.3 166.8L446.9 163.7L444.6 161.5L447.8 161.1ZM451.5 159.5L452.9 162.3L456 162.7L453.7 164.9L454.3 168L451.5 166.5L448.8 168L449.3 164.9L447.1 162.7L450.2 162.3ZM452.2 160.2L453.5 163.1L456.7 163.5L454.4 165.6L455 168.7L452.2 167.2L449.4 168.7L450 165.6L447.7 163.5L450.8 163.1ZM455.2 158.2L456.6 161L459.7 161.4L457.4 163.6L458 166.7L455.2 165.2L452.4 166.7L453 163.6L450.7 161.4L453.9 161ZM454.8 157.4L456.1 160.2L459.2 160.6L457 162.8L457.5 165.9L454.8 164.4L452 165.9L452.6 162.8L450.3 160.6L453.4 160.2ZM457.2 157.3L458.6 160.2L461.7 160.6L459.4 162.7L460 165.8L457.2 164.3L454.4 165.8L455 162.7L452.7 160.6L455.9 160.2ZM457.5 157.6L458.8 160.5L461.9 160.9L459.7 163L460.2 166.1L457.5 164.6L454.7 166.1L455.3 163L453 160.9L456.1 160.5ZM456.4 153.9L457.7 156.7L460.8 157.1L458.5 159.3L459.1 162.4L456.4 160.9L453.6 162.4L454.2 159.3L451.9 157.1L455 156.7ZM458.6 153.9L460 156.7L463.1 157.1L460.8 159.3L461.4 162.4L458.6 160.9L455.8 162.4L456.4 159.3L454.1 157.1L457.3 156.7ZM460.9 151.4L462.2 154.2L465.3 154.6L463 156.8L463.6 159.9L460.9 158.4L458.1 159.9L458.7 156.8L456.4 154.6L459.5 154.2ZM461.7 153.6L463 156.4L466.1 156.8L463.9 159L464.4 162.1L461.7 160.6L458.9 162.1L459.5 159L457.2 156.8L460.3 156.4ZM463.2 154.7L464.6 157.5L467.7 157.9L465.4 160.1L466 163.2L463.2 161.7L460.4 163.2L461 160.1L458.7 157.9L461.9 157.5ZM463.1 151.9L464.4 154.8L467.6 155.2L465.3 157.3L465.9 160.4L463.1 158.9L460.3 160.4L460.9 157.3L458.6 155.2L461.7 154.8ZM464.3 153.5L465.6 156.4L468.8 156.8L466.5 158.9L467.1 162L464.3 160.5L461.5 162L462.1 158.9L459.8 156.8L462.9 156.4ZM466.9 152.4L468.2 155.2L471.3 155.6L469.1 157.8L469.6 160.9L466.9 159.4L464.1 160.9L464.7 157.8L462.4 155.6L465.5 155.2ZM469.5 153.5L470.8 156.4L473.9 156.8L471.6 158.9L472.2 162L469.5 160.5L466.7 162L467.3 158.9L465 156.8L468.1 156.4ZM470.4 150L471.8 152.9L474.9 153.3L472.6 155.4L473.2 158.5L470.4 157L467.7 158.5L468.2 155.4L466 153.3L469.1 152.9ZM471.5 154.3L472.8 157.1L476 157.5L473.7 159.7L474.3 162.8L471.5 161.3L468.7 162.8L469.3 159.7L467 157.5L470.1 157.1ZM470.9 150.4L472.2 153.3L475.3 153.7L473.1 155.8L473.6 158.9L470.9 157.4L468.1 158.9L468.7 155.8L466.4 153.7L469.5 153.3ZM473.6 151.5L475 154.3L478.1 154.7L475.8 156.9L476.4 160L473.6 158.5L470.9 160L471.4 156.9L469.2 154.7L472.3 154.3ZM474.6 150.5L476 153.4L479.1 153.8L476.8 155.9L477.4 159L474.6 157.5L471.9 159L472.4 155.9L470.2 153.8L473.3 153.4ZM477 149.6L478.3 152.4L481.4 152.8L479.2 155L479.7 158.1L477 156.6L474.2 158.1L474.8 155L472.5 152.8L475.6 152.4ZM479.6 146.7L480.9 149.5L484.1 149.9L481.8 152.1L482.4 155.2L479.6 153.7L476.8 155.2L477.4 152.1L475.1 149.9L478.2 149.5ZM478.6 146.8L479.9 149.6L483 150L480.8 152.2L481.3 155.3L478.6 153.8L475.8 155.3L476.4 152.2L474.1 150L477.2 149.6ZM480.1 146L481.5 148.9L484.6 149.3L482.3 151.5L482.9 154.5L480.1 153L477.4 154.5L477.9 151.5L475.7 149.3L478.8 148.9ZM480.7 147.5L482.1 150.4L485.2 150.8L482.9 152.9L483.5 156L480.7 154.5L477.9 156L478.5 152.9L476.2 150.8L479.4 150.4ZM482.6 148L484 150.8L487.1 151.2L484.8 153.4L485.4 156.5L482.6 155L479.9 156.5L480.4 153.4L478.1 151.2L481.3 150.8ZM484.4 146.1L485.7 149L488.8 149.4L486.6 151.5L487.1 154.6L484.4 153.1L481.6 154.6L482.2 151.5L479.9 149.4L483 149ZM485.1 145L486.5 147.9L489.6 148.3L487.3 150.4L487.9 153.5L485.1 152L482.4 153.5L482.9 150.4L480.7 148.3L483.8 147.9ZM487.7 144.5L489.1 147.3L492.2 147.8L489.9 149.9L490.5 153L487.7 151.5L484.9 153L485.5 149.9L483.2 147.8L486.4 147.3ZM489.9 147.7L491.3 150.5L494.4 150.9L492.1 153.1L492.7 156.2L489.9 154.7L487.2 156.2L487.7 153.1L485.4 150.9L488.6 150.5ZM491.5 147.5L492.9 150.3L496 150.7L493.7 152.9L494.3 156L491.5 154.5L488.8 156L489.3 152.9L487.1 150.7L490.2 150.3ZM493.2 146.2L494.5 149L497.6 149.4L495.4 151.6L495.9 154.7L493.2 153.2L490.4 154.7L491 151.6L488.7 149.4L491.8 149ZM491 141L492.4 143.8L495.5 144.2L493.2 146.4L493.8 149.5L491 148L488.3 149.5L488.8 146.4L486.5 144.2L489.7 143.8ZM493.1 143.4L494.4 146.3L497.5 146.7L495.2 148.9L495.8 151.9L493.1 150.4L490.3 151.9L490.9 148.9L488.6 146.7L491.7 146.3ZM491.5 141L492.9 143.8L496 144.2L493.7 146.4L494.3 149.5L491.5 148L488.7 149.5L489.3 146.4L487 144.2L490.2 143.8ZM493.2 142.8L494.6 145.6L497.7 146L495.4 148.2L496 151.3L493.2 149.8L490.4 151.3L491 148.2L488.7 146L491.8 145.6ZM493.7 139.7L495.1 142.5L498.2 142.9L495.9 145.1L496.5 148.2L493.7 146.7L491 148.2L491.5 145.1L489.2 142.9L492.4 142.5ZM495.9 139L497.3 141.8L500.4 142.2L498.1 144.4L498.7 147.5L495.9 146L493.1 147.5L493.7 144.4L491.4 142.2L494.5 141.8ZM497 140.3L498.3 143.2L501.5 143.6L499.2 145.7L499.8 148.8L497 147.3L494.2 148.8L494.8 145.7L492.5 143.6L495.6 143.2ZM498 139.5L499.4 142.3L502.5 142.7L500.2 144.9L500.8 148L498 146.5L495.3 148L495.8 144.9L493.5 142.7L496.7 142.3ZM502.2 139.4L503.6 142.2L506.7 142.6L504.4 144.8L505 147.9L502.2 146.4L499.4 147.9L500 144.8L497.7 142.6L500.8 142.2ZM500.3 138.9L501.7 141.8L504.8 142.2L502.5 144.3L503.1 147.4L500.3 145.9L497.6 147.4L498.1 144.3L495.9 142.2L499 141.8ZM501.8 137.3L503.2 140.1L506.3 140.5L504 142.7L504.6 145.8L501.8 144.3L499.1 145.8L499.7 142.7L497.4 140.5L500.5 140.1ZM504.7 136.6L506 139.5L509.1 139.9L506.9 142.1L507.4 145.1L504.7 143.6L501.9 145.1L502.5 142.1L500.2 139.9L503.3 139.5ZM505.3 136.3L506.7 139.1L509.8 139.5L507.5 141.7L508.1 144.8L505.3 143.3L502.5 144.8L503.1 141.7L500.8 139.5L504 139.1ZM507.8 132.4L509.1 135.3L512.3 135.7L510 137.8L510.6 140.9L507.8 139.4L505 140.9L505.6 137.8L503.3 135.7L506.4 135.3ZM507.3 134.8L508.6 137.6L511.8 138.1L509.5 140.2L510 143.3L507.3 141.8L504.5 143.3L505.1 140.2L502.8 138.1L505.9 137.6ZM509 132.3L510.4 135.1L513.5 135.5L511.2 137.7L511.8 140.8L509 139.3L506.2 140.8L506.8 137.7L504.5 135.5L507.6 135.1ZM511.4 132.5L512.8 135.4L515.9 135.8L513.6 137.9L514.2 141L511.4 139.5L508.7 141L509.3 137.9L507 135.8L510.1 135.4ZM511.6 133.7L513 136.5L516.1 137L513.8 139.1L514.4 142.2L511.6 140.7L508.9 142.2L509.5 139.1L507.2 137L510.3 136.5ZM514.3 132.8L515.6 135.6L518.7 136L516.4 138.2L517 141.3L514.3 139.8L511.5 141.3L512.1 138.2L509.8 136L512.9 135.6ZM517.8 134.5L519.1 137.4L522.2 137.8L520 140L520.5 143L517.8 141.5L515 143L515.6 140L513.3 137.8L516.4 137.4ZM518.9 133.6L520.3 136.4L523.4 136.8L521.1 139L521.7 142.1L518.9 140.6L516.2 142.1L516.7 139L514.5 136.8L517.6 136.4ZM519.6 133.9L521 136.8L524.1 137.2L521.8 139.3L522.4 142.4L519.6 140.9L516.9 142.4L517.5 139.3L515.2 137.2L518.3 136.8ZM520.1 134.2L521.5 137L524.6 137.4L522.3 139.6L522.9 142.7L520.1 141.2L517.3 142.7L517.9 139.6L515.6 137.4L518.8 137ZM518.3 130.8L519.7 133.7L522.8 134.1L520.5 136.3L521.1 139.3L518.3 137.8L515.6 139.3L516.1 136.3L513.9 134.1L517 133.7ZM520.8 130.5L522.1 133.4L525.3 133.8L523 136L523.6 139L520.8 137.5L518 139L518.6 136L516.3 133.8L519.4 133.4ZM522.5 129.8L523.9 132.6L527 133L524.7 135.2L525.3 138.3L522.5 136.8L519.7 138.3L520.3 135.2L518 133L521.2 132.6ZM523.2 128.1L524.5 130.9L527.6 131.3L525.3 133.5L525.9 136.6L523.2 135.1L520.4 136.6L521 133.5L518.7 131.3L521.8 130.9ZM524.2 126L525.5 128.8L528.7 129.2L526.4 131.4L526.9 134.5L524.2 133L521.4 134.5L522 131.4L519.7 129.2L522.8 128.8ZM526.9 127.2L528.2 130L531.3 130.4L529.1 132.6L529.6 135.7L526.9 134.2L524.1 135.7L524.7 132.6L522.4 130.4L525.5 130ZM527.4 127.7L528.7 130.5L531.9 130.9L529.6 133.1L530.1 136.2L527.4 134.7L524.6 136.2L525.2 133.1L522.9 130.9L526 130.5ZM526 128L527.4 130.8L530.5 131.2L528.2 133.4L528.8 136.5L526 135L523.2 136.5L523.8 133.4L521.5 131.2L524.7 130.8ZM529.3 127.2L530.6 130L533.7 130.4L531.5 132.6L532 135.7L529.3 134.2L526.5 135.7L527.1 132.6L524.8 130.4L527.9 130ZM530.7 127.6L532.1 130.5L535.2 130.9L532.9 133L533.5 136.1L530.7 134.6L528 136.1L528.6 133L526.3 130.9L529.4 130.5ZM533 124.2L534.3 127L537.4 127.4L535.1 129.6L535.7 132.7L533 131.2L530.2 132.7L530.8 129.6L528.5 127.4L531.6 127ZM534.2 125.5L535.6 128.3L538.7 128.7L536.4 130.9L537 134L534.2 132.5L531.5 134L532 130.9L529.7 128.7L532.9 128.3ZM534.6 124.2L536 127L539.1 127.5L536.8 129.6L537.4 132.7L534.6 131.2L531.9 132.7L532.5 129.6L530.2 127.5L533.3 127ZM535.7 123.1L537 126L540.1 126.4L537.8 128.6L538.4 131.6L535.7 130.1L532.9 131.6L533.5 128.6L531.2 126.4L534.3 126ZM536.5 123.1L537.8 125.9L541 126.3L538.7 128.5L539.3 131.6L536.5 130.1L533.7 131.6L534.3 128.5L532 126.3L535.1 125.9ZM538.5 118.9L539.9 121.8L543 122.2L540.7 124.4L541.3 127.5L538.5 125.9L535.8 127.5L536.3 124.4L534.1 122.2L537.2 121.8ZM539.1 120L540.4 122.9L543.6 123.3L541.3 125.4L541.9 128.5L539.1 127L536.3 128.5L536.9 125.4L534.6 123.3L537.7 122.9ZM540.1 122.5L541.5 125.3L544.6 125.7L542.3 127.9L542.9 131L540.1 129.5L537.4 131L537.9 127.9L535.7 125.7L538.8 125.3ZM540.9 122L542.3 124.8L545.4 125.2L543.1 127.4L543.7 130.5L540.9 129L538.2 130.5L538.7 127.4L536.4 125.2L539.6 124.8ZM541.9 121.6L543.2 124.5L546.4 124.9L544.1 127L544.6 130.1L541.9 128.6L539.1 130.1L539.7 127L537.4 124.9L540.5 124.5ZM544.7 119.3L546 122.2L549.1 122.6L546.8 124.7L547.4 127.8L544.7 126.3L541.9 127.8L542.5 124.7L540.2 122.6L543.3 122.2ZM548.2 119.9L549.6 122.7L552.7 123.1L550.4 125.3L551 128.4L548.2 126.9L545.5 128.4L546 125.3L543.8 123.1L546.9 122.7ZM549.2 119.8L550.5 122.7L553.7 123.1L551.4 125.2L552 128.3L549.2 126.8L546.4 128.3L547 125.2L544.7 123.1L547.8 122.7ZM549.1 118.1L550.4 121L553.5 121.4L551.3 123.6L551.8 126.6L549.1 125.1L546.3 126.6L546.9 123.6L544.6 121.4L547.7 121ZM550.5 118.3L551.9 121.1L555 121.5L552.7 123.7L553.3 126.8L550.5 125.3L547.8 126.8L548.3 123.7L546 121.5L549.2 121.1ZM552.5 117.4L553.9 120.2L557 120.6L554.7 122.8L555.3 125.9L552.5 124.4L549.8 125.9L550.3 122.8L548.1 120.6L551.2 120.2ZM553.9 117.6L555.3 120.4L558.4 120.8L556.1 123L556.7 126.1L553.9 124.6L551.1 126.1L551.7 123L549.4 120.8L552.5 120.4ZM553.7 120.1L555.1 122.9L558.2 123.3L555.9 125.5L556.5 128.6L553.7 127.1L551 128.6L551.5 125.5L549.2 123.3L552.4 122.9ZM556.1 117.3L557.5 120.1L560.6 120.5L558.3 122.7L558.9 125.8L556.1 124.3L553.4 125.8L553.9 122.7L551.6 120.5L554.8 120.1ZM555.7 117.2L557.1 120L560.2 120.5L557.9 122.6L558.5 125.7L555.7 124.2L552.9 125.7L553.5 122.6L551.2 120.5L554.4 120ZM559 114.5L560.4 117.4L563.5 117.8L561.2 120L561.8 123L559 121.5L556.3 123L556.8 120L554.6 117.8L557.7 117.4ZM561.1 116.5L562.5 119.4L565.6 119.8L563.3 122L563.9 125.1L561.1 123.5L558.4 125.1L558.9 122L556.7 119.8L559.8 119.4ZM563.2 115.2L564.6 118L567.7 118.4L565.4 120.6L566 123.7L563.2 122.2L560.4 123.7L561 120.6L558.7 118.4L561.9 118ZM562.2 118L563.6 120.9L566.7 121.3L564.4 123.4L565 126.5L562.2 125L559.5 126.5L560.1 123.4L557.8 121.3L560.9 120.9ZM564.6 116.1L566 119L569.1 119.4L566.8 121.5L567.4 124.6L564.6 123.1L561.9 124.6L562.4 121.5L560.2 119.4L563.3 119ZM565 116.1L566.4 119L569.5 119.4L567.2 121.6L567.8 124.6L565 123.1L562.2 124.6L562.8 121.6L560.5 119.4L563.7 119ZM565.8 114.7L567.2 117.5L570.3 117.9L568 120.1L568.6 123.2L565.8 121.7L563.1 123.2L563.6 120.1L561.4 117.9L564.5 117.5ZM568.6 114.2L570 117L573.1 117.4L570.8 119.6L571.4 122.7L568.6 121.2L565.9 122.7L566.4 119.6L564.1 117.4L567.3 117ZM567.1 115.8L568.4 118.6L571.5 119L569.3 121.2L569.8 124.3L567.1 122.8L564.3 124.3L564.9 121.2L562.6 119L565.7 118.6ZM570 111.9L571.3 114.7L574.4 115.1L572.1 117.3L572.7 120.4L570 118.9L567.2 120.4L567.8 117.3L565.5 115.1L568.6 114.7ZM570.9 112.5L572.3 115.3L575.4 115.7L573.1 117.9L573.7 121L570.9 119.5L568.1 121L568.7 117.9L566.4 115.7L569.6 115.3ZM575.2 111.3L576.5 114.1L579.6 114.6L577.3 116.7L577.9 119.8L575.2 118.3L572.4 119.8L573 116.7L570.7 114.6L573.8 114.1ZM573.6 112L575 114.9L578.1 115.3L575.8 117.4L576.4 120.5L573.6 119L570.8 120.5L571.4 117.4L569.1 115.3L572.3 114.9ZM575.7 113.1L577 115.9L580.2 116.3L577.9 118.5L578.5 121.6L575.7 120.1L572.9 121.6L573.5 118.5L571.2 116.3L574.3 115.9ZM578 113.6L579.3 116.5L582.5 116.9L580.2 119L580.8 122.1L578 120.6L575.2 122.1L575.8 119L573.5 116.9L576.6 116.5ZM577 112.4L578.4 115.3L581.5 115.7L579.2 117.8L579.8 120.9L577 119.4L574.3 120.9L574.9 117.8L572.6 115.7L575.7 115.3ZM579.4 112L580.7 114.8L583.8 115.3L581.6 117.4L582.1 120.5L579.4 119L576.6 120.5L577.2 117.4L574.9 115.3L578 114.8ZM580 109.9L581.3 112.7L584.4 113.2L582.1 115.3L582.7 118.4L580 116.9L577.2 118.4L577.8 115.3L575.5 113.2L578.6 112.7ZM581.8 111.5L583.2 114.4L586.3 114.8L584 117L584.6 120.1L581.8 118.5L579.1 120.1L579.6 117L577.4 114.8L580.5 114.4ZM585.9 113.8L587.3 116.6L590.4 117.1L588.1 119.2L588.7 122.3L585.9 120.8L583.1 122.3L583.7 119.2L581.4 117.1L584.5 116.6ZM583.5 110.1L584.9 112.9L588 113.3L585.7 115.5L586.3 118.6L583.5 117.1L580.8 118.6L581.3 115.5L579 113.3L582.2 112.9ZM586.6 110.5L588 113.4L591.1 113.8L588.8 116L589.4 119.1L586.6 117.5L583.9 119.1L584.4 116L582.1 113.8L585.3 113.4ZM587.8 111.7L589.1 114.6L592.2 115L590 117.1L590.5 120.2L587.8 118.7L585 120.2L585.6 117.1L583.3 115L586.4 114.6ZM591.1 109.6L592.5 112.4L595.6 112.9L593.3 115L593.9 118.1L591.1 116.6L588.4 118.1L588.9 115L586.6 112.9L589.8 112.4ZM591.6 109.4L592.9 112.3L596 112.7L593.8 114.8L594.3 117.9L591.6 116.4L588.8 117.9L589.4 114.8L587.1 112.7L590.2 112.3ZM592.2 109.8L593.5 112.6L596.7 113.1L594.4 115.2L594.9 118.3L592.2 116.8L589.4 118.3L590 115.2L587.7 113.1L590.8 112.6ZM595.7 110.6L597 113.4L600.2 113.8L597.9 116L598.5 119.1L595.7 117.6L592.9 119.1L593.5 116L591.2 113.8L594.3 113.4ZM594.5 106.8L595.9 109.7L599 110.1L596.7 112.2L597.3 115.3L594.5 113.8L591.7 115.3L592.3 112.2L590 110.1L593.2 109.7ZM592.8 107L594.1 109.8L597.3 110.2L595 112.4L595.6 115.5L592.8 114L590 115.5L590.6 112.4L588.3 110.2L591.4 109.8ZM596.2 106.1L597.5 108.9L600.6 109.3L598.4 111.5L598.9 114.6L596.2 113.1L593.4 114.6L594 111.5L591.7 109.3L594.8 108.9ZM597.6 107.2L598.9 110.1L602 110.5L599.8 112.6L600.3 115.7L597.6 114.2L594.8 115.7L595.4 112.6L593.1 110.5L596.2 110.1ZM598.7 102.9L600 105.8L603.2 106.2L600.9 108.4L601.4 111.4L598.7 109.9L595.9 111.4L596.5 108.4L594.2 106.2L597.3 105.8ZM600.9 106.6L602.3 109.5L605.4 109.9L603.1 112L603.7 115.1L600.9 113.6L598.1 115.1L598.7 112L596.4 109.9L599.6 109.5ZM602.4 104.2L603.7 107L606.8 107.4L604.6 109.6L605.1 112.7L602.4 111.2L599.6 112.7L600.2 109.6L597.9 107.4L601 107ZM603.5 105.2L604.8 108L607.9 108.4L605.7 110.6L606.2 113.7L603.5 112.2L600.7 113.7L601.3 110.6L599 108.4L602.1 108ZM604.9 104.7L606.3 107.5L609.4 107.9L607.1 110.1L607.7 113.2L604.9 111.7L602.1 113.2L602.7 110.1L600.4 107.9L603.5 107.5ZM603.9 103.6L605.3 106.5L608.4 106.9L606.1 109L606.7 112.1L603.9 110.6L601.2 112.1L601.7 109L599.4 106.9L602.6 106.5ZM609.8 102.8L611.2 105.6L614.3 106L612 108.2L612.6 111.3L609.8 109.8L607.1 111.3L607.7 108.2L605.4 106L608.5 105.6ZM610 99.8L611.3 102.7L614.5 103.1L612.2 105.3L612.7 108.3L610 106.8L607.2 108.3L607.8 105.3L605.5 103.1L608.6 102.7ZM607.9 99L609.3 101.8L612.4 102.2L610.1 104.4L610.7 107.5L607.9 106L605.2 107.5L605.7 104.4L603.5 102.2L606.6 101.8ZM610.5 100.7L611.9 103.5L615 103.9L612.7 106.1L613.3 109.2L610.5 107.7L607.7 109.2L608.3 106.1L606 103.9L609.2 103.5ZM613.5 98.7L614.9 101.6L618 102L615.7 104.1L616.3 107.2L613.5 105.7L610.8 107.2L611.3 104.1L609 102L612.2 101.6ZM615.5 96.9L616.9 99.8L620 100.2L617.7 102.3L618.3 105.4L615.5 103.9L612.7 105.4L613.3 102.3L611 100.2L614.1 99.8ZM615.5 97.9L616.9 100.8L620 101.2L617.7 103.3L618.3 106.4L615.5 104.9L612.8 106.4L613.4 103.3L611.1 101.2L614.2 100.8ZM616.6 97.7L617.9 100.5L621.1 100.9L618.8 103.1L619.3 106.2L616.6 104.7L613.8 106.2L614.4 103.1L612.1 100.9L615.2 100.5ZM628.3 97.7L629.7 100.6L632.8 101L630.5 103.1L631.1 106.2L628.3 104.7L625.6 106.2L626.1 103.1L623.9 101L627 100.6ZM629.3 97.7L630.6 100.6L633.8 101L631.5 103.1L632.1 106.2L629.3 104.7L626.5 106.2L627.1 103.1L624.8 101L627.9 100.6ZM632.9 98.4L634.3 101.2L637.4 101.7L635.1 103.8L635.7 106.9L632.9 105.4L630.2 106.9L630.7 103.8L628.5 101.7L631.6 101.2ZM633.4 97.3L634.7 100.2L637.8 100.6L635.5 102.8L636.1 105.8L633.4 104.3L630.6 105.8L631.2 102.8L628.9 100.6L632 100.2ZM633.9 96.5L635.3 99.4L638.4 99.8L636.1 101.9L636.7 105L633.9 103.5L631.2 105L631.7 101.9L629.5 99.8L632.6 99.4ZM635.5 95.6L636.8 98.5L640 98.9L637.7 101.1L638.3 104.1L635.5 102.6L632.7 104.1L633.3 101.1L631 98.9L634.1 98.5ZM637.5 95.2L638.8 98.1L642 98.5L639.7 100.7L640.2 103.8L637.5 102.2L634.7 103.8L635.3 100.7L633 98.5L636.1 98.1ZM637.2 92.1L638.6 95L641.7 95.4L639.4 97.5L640 100.6L637.2 99.1L634.5 100.6L635 97.5L632.8 95.4L635.9 95ZM639 91.5L640.3 94.3L643.5 94.7L641.2 96.9L641.7 100L639 98.5L636.2 100L636.8 96.9L634.5 94.7L637.6 94.3ZM640.9 91.8L642.2 94.6L645.3 95L643 97.2L643.6 100.3L640.9 98.8L638.1 100.3L638.7 97.2L636.4 95L639.5 94.6ZM641.6 89.3L642.9 92.2L646 92.6L643.8 94.7L644.3 97.8L641.6 96.3L638.8 97.8L639.4 94.7L637.1 92.6L640.2 92.2ZM641.8 89.3L643.2 92.2L646.3 92.6L644 94.8L644.6 97.8L641.8 96.3L639.1 97.8L639.6 94.8L637.4 92.6L640.5 92.2ZM642.3 88.9L643.7 91.7L646.8 92.1L644.5 94.3L645.1 97.4L642.3 95.9L639.5 97.4L640.1 94.3L637.8 92.1L641 91.7ZM645.2 87.8L646.6 90.6L649.7 91L647.4 93.2L648 96.3L645.2 94.8L642.4 96.3L643 93.2L640.7 91L643.9 90.6ZM646.1 87.7L647.4 90.6L650.6 91L648.3 93.2L648.9 96.2L646.1 94.7L643.3 96.2L643.9 93.2L641.6 91L644.7 90.6ZM648.5 88.5L649.8 91.3L652.9 91.8L650.7 93.9L651.2 97L648.5 95.5L645.7 97L646.3 93.9L644 91.8L647.1 91.3ZM646.9 86.5L648.2 89.3L651.3 89.7L649.1 91.9L649.6 95L646.9 93.5L644.1 95L644.7 91.9L642.4 89.7L645.5 89.3ZM650.6 86.4L652 89.3L655.1 89.7L652.8 91.8L653.4 94.9L650.6 93.4L647.9 94.9L648.4 91.8L646.1 89.7L649.3 89.3ZM652.2 86L653.6 88.8L656.7 89.2L654.4 91.4L655 94.5L652.2 93L649.4 94.5L650 91.4L647.7 89.2L650.8 88.8ZM652.1 87.3L653.4 90.1L656.5 90.5L654.2 92.7L654.8 95.8L652.1 94.3L649.3 95.8L649.9 92.7L647.6 90.5L650.7 90.1ZM654.5 84.9L655.9 87.7L659 88.1L656.7 90.3L657.3 93.4L654.5 91.9L651.8 93.4L652.3 90.3L650 88.1L653.2 87.7ZM654.5 83L655.9 85.8L659 86.2L656.7 88.4L657.3 91.5L654.5 90L651.7 91.5L652.3 88.4L650 86.2L653.2 85.8ZM658.6 87L659.9 89.8L663.1 90.2L660.8 92.4L661.4 95.5L658.6 94L655.8 95.5L656.4 92.4L654.1 90.2L657.2 89.8ZM659.8 85.4L661.2 88.3L664.3 88.7L662 90.8L662.6 93.9L659.8 92.4L657.1 93.9L657.6 90.8L655.4 88.7L658.5 88.3ZM662 84.6L663.4 87.5L666.5 87.9L664.2 90L664.8 93.1L662 91.6L659.2 93.1L659.8 90L657.5 87.9L660.7 87.5ZM665.1 83.9L666.4 86.7L669.5 87.1L667.2 89.3L667.8 92.4L665.1 90.9L662.3 92.4L662.9 89.3L660.6 87.1L663.7 86.7ZM664.3 82.8L665.6 85.7L668.8 86.1L666.5 88.2L667.1 91.3L664.3 89.8L661.5 91.3L662.1 88.2L659.8 86.1L662.9 85.7ZM667 85.9L668.3 88.7L671.5 89.2L669.2 91.3L669.7 94.4L667 92.9L664.2 94.4L664.8 91.3L662.5 89.2L665.6 88.7ZM667.2 86.5L668.5 89.4L671.6 89.8L669.4 91.9L669.9 95L667.2 93.5L664.4 95L665 91.9L662.7 89.8L665.8 89.4ZM667.8 84.6L669.1 87.4L672.2 87.8L670 90L670.5 93.1L667.8 91.6L665 93.1L665.6 90L663.3 87.8L666.4 87.4ZM669.8 87.9L671.1 90.7L674.2 91.1L671.9 93.3L672.5 96.4L669.8 94.9L667 96.4L667.6 93.3L665.3 91.1L668.4 90.7ZM672.9 84.5L674.3 87.3L677.4 87.7L675.1 89.9L675.7 93L672.9 91.5L670.2 93L670.7 89.9L668.4 87.7L671.6 87.3ZM673.3 84.9L674.7 87.7L677.8 88.1L675.5 90.3L676.1 93.4L673.3 91.9L670.6 93.4L671.2 90.3L668.9 88.1L672 87.7ZM677.1 85.3L678.4 88.2L681.6 88.6L679.3 90.7L679.8 93.8L677.1 92.3L674.3 93.8L674.9 90.7L672.6 88.6L675.7 88.2ZM677.9 83.9L679.3 86.8L682.4 87.2L680.1 89.4L680.7 92.4L677.9 90.9L675.1 92.4L675.7 89.4L673.4 87.2L676.5 86.8ZM679.7 84.4L681.1 87.2L684.2 87.6L681.9 89.8L682.5 92.9L679.7 91.4L676.9 92.9L677.5 89.8L675.2 87.6L678.4 87.2ZM689.7 86.2L691.1 89L694.2 89.5L691.9 91.6L692.5 94.7L689.7 93.2L687 94.7L687.5 91.6L685.3 89.5L688.4 89ZM688.7 82.5L690.1 85.3L693.2 85.8L690.9 87.9L691.5 91L688.7 89.5L685.9 91L686.5 87.9L684.2 85.8L687.4 85.3ZM691 82.4L692.3 85.3L695.5 85.7L693.2 87.8L693.7 90.9L691 89.4L688.2 90.9L688.8 87.8L686.5 85.7L689.6 85.3ZM693 85L694.3 87.9L697.5 88.3L695.2 90.4L695.8 93.5L693 92L690.2 93.5L690.8 90.4L688.5 88.3L691.6 87.9ZM694.5 82.9L695.9 85.8L699 86.2L696.7 88.3L697.3 91.4L694.5 89.9L691.8 91.4L692.3 88.3L690.1 86.2L693.2 85.8ZM695.7 81.8L697.1 84.6L700.2 85.1L697.9 87.2L698.5 90.3L695.7 88.8L693 90.3L693.5 87.2L691.3 85.1L694.4 84.6ZM695.5 81.5L696.9 84.3L700 84.7L697.7 86.9L698.3 90L695.5 88.5L692.8 90L693.4 86.9L691.1 84.7L694.2 84.3ZM696.8 81L698.2 83.8L701.3 84.3L699 86.4L699.6 89.5L696.8 88L694 89.5L694.6 86.4L692.3 84.3L695.5 83.8ZM696.6 78.6L697.9 81.5L701.1 81.9L698.8 84L699.4 87.1L696.6 85.6L693.8 87.1L694.4 84L692.1 81.9L695.2 81.5ZM698.6 79.8L699.9 82.6L703 83L700.7 85.2L701.3 88.3L698.6 86.8L695.8 88.3L696.4 85.2L694.1 83L697.2 82.6ZM699.3 80.9L700.7 83.7L703.8 84.1L701.5 86.3L702.1 89.4L699.3 87.9L696.6 89.4L697.1 86.3L694.9 84.1L698 83.7ZM701 80L702.4 82.9L705.5 83.3L703.2 85.4L703.8 88.5L701 87L698.2 88.5L698.8 85.4L696.5 83.3L699.6 82.9ZM702.8 78.3L704.1 81.2L707.2 81.6L705 83.8L705.5 86.8L702.8 85.3L700 86.8L700.6 83.8L698.3 81.6L701.4 81.2ZM703.3 76.7L704.7 79.5L707.8 79.9L705.5 82.1L706.1 85.2L703.3 83.7L700.6 85.2L701.1 82.1L698.8 79.9L702 79.5ZM704.1 77.5L705.4 80.3L708.5 80.7L706.3 82.9L706.8 86L704.1 84.5L701.3 86L701.9 82.9L699.6 80.7L702.7 80.3ZM707.6 77.6L709 80.4L712.1 80.8L709.8 83L710.4 86.1L707.6 84.6L704.9 86.1L705.4 83L703.1 80.8L706.3 80.4ZM708 77.8L709.4 80.6L712.5 81L710.2 83.2L710.8 86.3L708 84.8L705.2 86.3L705.8 83.2L703.5 81L706.7 80.6ZM710.1 77.5L711.5 80.4L714.6 80.8L712.3 82.9L712.9 86L710.1 84.5L707.3 86L707.9 82.9L705.6 80.8L708.7 80.4ZM711.4 77.6L712.7 80.4L715.8 80.8L713.5 83L714.1 86.1L711.4 84.6L708.6 86.1L709.2 83L706.9 80.8L710 80.4ZM711.7 75L713 77.8L716.1 78.2L713.9 80.4L714.4 83.5L711.7 82L708.9 83.5L709.5 80.4L707.2 78.2L710.3 77.8ZM711.8 74.7L713.1 77.5L716.2 78L714 80.1L714.5 83.2L711.8 81.7L709 83.2L709.6 80.1L707.3 78L710.4 77.5ZM713.3 73.2L714.6 76L717.7 76.4L715.5 78.6L716 81.7L713.3 80.2L710.5 81.7L711.1 78.6L708.8 76.4L711.9 76ZM715.7 74.3L717 77.1L720.2 77.5L717.9 79.7L718.5 82.8L715.7 81.3L712.9 82.8L713.5 79.7L711.2 77.5L714.3 77.1ZM715.9 71.8L717.3 74.6L720.4 75L718.1 77.2L718.7 80.3L715.9 78.8L713.2 80.3L713.7 77.2L711.4 75L714.6 74.6ZM715.1 71.5L716.5 74.3L719.6 74.7L717.3 76.9L717.9 80L715.1 78.5L712.4 80L712.9 76.9L710.7 74.7L713.8 74.3ZM718.2 74.1L719.6 77L722.7 77.4L720.4 79.6L721 82.6L718.2 81.1L715.5 82.6L716.1 79.6L713.8 77.4L716.9 77ZM721 72.6L722.4 75.4L725.5 75.8L723.2 78L723.8 81.1L721 79.6L718.3 81.1L718.8 78L716.6 75.8L719.7 75.4ZM720.4 72.3L721.7 75.1L724.8 75.6L722.5 77.7L723.1 80.8L720.4 79.3L717.6 80.8L718.2 77.7L715.9 75.6L719 75.1ZM720.9 72.7L722.2 75.5L725.3 75.9L723.1 78.1L723.6 81.2L720.9 79.7L718.1 81.2L718.7 78.1L716.4 75.9L719.5 75.5ZM724.4 72.4L725.8 75.3L728.9 75.7L726.6 77.8L727.2 80.9L724.4 79.4L721.6 80.9L722.2 77.8L719.9 75.7L723 75.3ZM724.2 73.6L725.6 76.5L728.7 76.9L726.4 79L727 82.1L724.2 80.6L721.5 82.1L722 79L719.8 76.9L722.9 76.5ZM728 71.8L729.3 74.7L732.5 75.1L730.2 77.3L730.8 80.4L728 78.8L725.2 80.4L725.8 77.3L723.5 75.1L726.6 74.7ZM726.8 70.7L728.2 73.6L731.3 74L729 76.1L729.6 79.2L726.8 77.7L724.1 79.2L724.6 76.1L722.4 74L725.5 73.6ZM728.9 71.5L730.2 74.4L733.4 74.8L731.1 77L731.6 80L728.9 78.5L726.1 80L726.7 77L724.4 74.8L727.5 74.4ZM728.2 70.2L729.6 73L732.7 73.4L730.4 75.6L731 78.7L728.2 77.2L725.5 78.7L726 75.6L723.7 73.4L726.9 73ZM730.9 67.9L732.2 70.7L735.4 71.1L733.1 73.3L733.7 76.4L730.9 74.9L728.1 76.4L728.7 73.3L726.4 71.1L729.5 70.7ZM730.9 66.2L732.2 69L735.3 69.4L733.1 71.6L733.6 74.7L730.9 73.2L728.1 74.7L728.7 71.6L726.4 69.4L729.5 69ZM732.3 65.2L733.7 68.1L736.8 68.5L734.5 70.6L735.1 73.7L732.3 72.2L729.6 73.7L730.2 70.6L727.9 68.5L731 68.1ZM735.6 66.3L737 69.1L740.1 69.5L737.8 71.7L738.4 74.8L735.6 73.3L732.9 74.8L733.5 71.7L731.2 69.5L734.3 69.1ZM735.5 67.6L736.9 70.4L740 70.8L737.7 73L738.3 76.1L735.5 74.6L732.7 76.1L733.3 73L731 70.8L734.2 70.4ZM739.4 65.5L740.7 68.3L743.9 68.7L741.6 70.9L742.1 74L739.4 72.5L736.6 74L737.2 70.9L734.9 68.7L738 68.3ZM739.7 66.6L741.1 69.5L744.2 69.9L741.9 72L742.5 75.1L739.7 73.6L737 75.1L737.5 72L735.3 69.9L738.4 69.5ZM739.4 66.2L740.7 69L743.9 69.4L741.6 71.6L742.1 74.7L739.4 73.2L736.6 74.7L737.2 71.6L734.9 69.4L738 69ZM740.1 64.9L741.4 67.7L744.5 68.1L742.2 70.3L742.8 73.4L740.1 71.9L737.3 73.4L737.9 70.3L735.6 68.1L738.7 67.7ZM743.2 64.4L744.6 67.3L747.7 67.7L745.4 69.8L746 72.9L743.2 71.4L740.5 72.9L741 69.8L738.8 67.7L741.9 67.3ZM742.7 66.5L744.1 69.4L747.2 69.8L744.9 71.9L745.5 75L742.7 73.5L740 75L740.5 71.9L738.3 69.8L741.4 69.4ZM743 65L744.3 67.9L747.4 68.3L745.1 70.4L745.7 73.5L743 72L740.2 73.5L740.8 70.4L738.5 68.3L741.6 67.9ZM746.1 63.9L747.5 66.8L750.6 67.2L748.3 69.4L748.9 72.4L746.1 70.9L743.3 72.4L743.9 69.4L741.6 67.2L744.7 66.8ZM746.9 62.7L748.3 65.5L751.4 65.9L749.1 68.1L749.7 71.2L746.9 69.7L744.2 71.2L744.7 68.1L742.5 65.9L745.6 65.5ZM748.7 61.7L750.1 64.6L753.2 65L750.9 67.2L751.5 70.2L748.7 68.7L746 70.2L746.5 67.2L744.3 65L747.4 64.6ZM749.3 61L750.6 63.9L753.7 64.3L751.5 66.4L752 69.5L749.3 68L746.5 69.5L747.1 66.4L744.8 64.3L747.9 63.9ZM749.9 60.9L751.3 63.8L754.4 64.2L752.1 66.3L752.7 69.4L749.9 67.9L747.1 69.4L747.7 66.3L745.4 64.2L748.6 63.8ZM750.3 63L751.6 65.8L754.7 66.2L752.5 68.4L753 71.5L750.3 70L747.5 71.5L748.1 68.4L745.8 66.2L748.9 65.8ZM753.4 60.2L754.8 63.1L757.9 63.5L755.6 65.6L756.2 68.7L753.4 67.2L750.7 68.7L751.2 65.6L748.9 63.5L752.1 63.1ZM756.9 62.9L758.3 65.7L761.4 66.1L759.1 68.3L759.7 71.4L756.9 69.9L754.1 71.4L754.7 68.3L752.4 66.1L755.6 65.7ZM757.6 61.4L759 64.2L762.1 64.6L759.8 66.8L760.4 69.9L757.6 68.4L754.9 69.9L755.4 66.8L753.2 64.6L756.3 64.2ZM757.6 60.5L759 63.3L762.1 63.7L759.8 65.9L760.4 69L757.6 67.5L754.9 69L755.5 65.9L753.2 63.7L756.3 63.3ZM759.2 61.5L760.6 64.4L763.7 64.8L761.4 67L762 70L759.2 68.5L756.5 70L757.1 67L754.8 64.8L757.9 64.4ZM761.2 61.3L762.6 64.1L765.7 64.5L763.4 66.7L764 69.8L761.2 68.3L758.4 69.8L759 66.7L756.7 64.5L759.9 64.1ZM763.8 59.1L765.1 61.9L768.2 62.4L765.9 64.5L766.5 67.6L763.8 66.1L761 67.6L761.6 64.5L759.3 62.4L762.4 61.9ZM763.8 59.2L765.1 62.1L768.2 62.5L766 64.6L766.5 67.7L763.8 66.2L761 67.7L761.6 64.6L759.3 62.5L762.4 62.1ZM765.1 58.4L766.5 61.3L769.6 61.7L767.3 63.8L767.9 66.9L765.1 65.4L762.3 66.9L762.9 63.8L760.6 61.7L763.8 61.3ZM765.9 60.3L767.3 63.2L770.4 63.6L768.1 65.7L768.7 68.8L765.9 67.3L763.2 68.8L763.7 65.7L761.5 63.6L764.6 63.2ZM768.2 60.1L769.5 62.9L772.7 63.3L770.4 65.5L771 68.6L768.2 67.1L765.4 68.6L766 65.5L763.7 63.3L766.8 62.9ZM771.1 59.6L772.4 62.4L775.5 62.8L773.2 65L773.8 68.1L771.1 66.6L768.3 68.1L768.9 65L766.6 62.8L769.7 62.4ZM773.9 58.2L775.3 61L778.4 61.4L776.1 63.6L776.7 66.7L773.9 65.2L771.1 66.7L771.7 63.6L769.4 61.4L772.6 61ZM771.8 59.2L773.1 62.1L776.2 62.5L774 64.6L774.5 67.7L771.8 66.2L769 67.7L769.6 64.6L767.3 62.5L770.4 62.1ZM775.7 59.1L777 62L780.1 62.4L777.8 64.5L778.4 67.6L775.7 66.1L772.9 67.6L773.5 64.5L771.2 62.4L774.3 62ZM776.7 59.1L778.1 62L781.2 62.4L778.9 64.5L779.5 67.6L776.7 66.1L773.9 67.6L774.5 64.5L772.2 62.4L775.4 62ZM777.5 59.2L778.9 62L782 62.5L779.7 64.6L780.3 67.7L777.5 66.2L774.8 67.7L775.3 64.6L773.1 62.5L776.2 62ZM780.9 58.3L782.2 61.1L785.3 61.6L783.1 63.7L783.6 66.8L780.9 65.3L778.1 66.8L778.7 63.7L776.4 61.6L779.5 61.1ZM782.1 57.2L783.5 60L786.6 60.4L784.3 62.6L784.9 65.7L782.1 64.2L779.4 65.7L780 62.6L777.7 60.4L780.8 60ZM783.6 56.6L785 59.4L788.1 59.8L785.8 62L786.4 65.1L783.6 63.6L780.9 65.1L781.4 62L779.2 59.8L782.3 59.4ZM783.4 55.8L784.8 58.7L787.9 59.1L785.6 61.2L786.2 64.3L783.4 62.8L780.6 64.3L781.2 61.2L778.9 59.1L782 58.7ZM786.6 55.4L788 58.2L791.1 58.6L788.8 60.8L789.4 63.9L786.6 62.4L783.9 63.9L784.5 60.8L782.2 58.6L785.3 58.2ZM788.3 59.4L789.6 62.2L792.8 62.6L790.5 64.8L791.1 67.9L788.3 66.4L785.5 67.9L786.1 64.8L783.8 62.6L786.9 62.2ZM791 55.7L792.3 58.5L795.5 58.9L793.2 61.1L793.7 64.2L791 62.7L788.2 64.2L788.8 61.1L786.5 58.9L789.6 58.5ZM788.5 54.3L789.9 57.1L793 57.6L790.7 59.7L791.3 62.8L788.5 61.3L785.8 62.8L786.3 59.7L784.1 57.6L787.2 57.1ZM792.6 55.7L793.9 58.6L797 59L794.8 61.2L795.3 64.3L792.6 62.7L789.8 64.3L790.4 61.2L788.1 59L791.2 58.6ZM790.7 54.4L792.1 57.2L795.2 57.6L792.9 59.8L793.5 62.9L790.7 61.4L788 62.9L788.6 59.8L786.3 57.6L789.4 57.2ZM793.1 53.6L794.4 56.5L797.5 56.9L795.2 59L795.8 62.1L793.1 60.6L790.3 62.1L790.9 59L788.6 56.9L791.7 56.5ZM794.4 54.7L795.8 57.5L798.9 58L796.6 60.1L797.2 63.2L794.4 61.7L791.7 63.2L792.2 60.1L789.9 58L793.1 57.5ZM798.1 51L799.4 53.8L802.6 54.2L800.3 56.4L800.9 59.5L798.1 58L795.3 59.5L795.9 56.4L793.6 54.2L796.7 53.8ZM798.9 53.2L800.3 56L803.4 56.4L801.1 58.6L801.7 61.7L798.9 60.2L796.2 61.7L796.7 58.6L794.5 56.4L797.6 56ZM800.7 53L802.1 55.9L805.2 56.3L802.9 58.5L803.5 61.6L800.7 60L798 61.6L798.6 58.5L796.3 56.3L799.4 55.9ZM799.8 53.8L801.1 56.7L804.3 57.1L802 59.3L802.5 62.4L799.8 60.8L797 62.4L797.6 59.3L795.3 57.1L798.4 56.7ZM803.2 51.2L804.6 54.1L807.7 54.5L805.4 56.6L806 59.7L803.2 58.2L800.5 59.7L801 56.6L798.7 54.5L801.9 54.1ZM802.4 51.3L803.8 54.2L806.9 54.6L804.6 56.8L805.2 59.9L802.4 58.3L799.6 59.9L800.2 56.8L797.9 54.6L801 54.2ZM805.8 51.4L807.1 54.3L810.3 54.7L808 56.8L808.5 59.9L805.8 58.4L803 59.9L803.6 56.8L801.3 54.7L804.4 54.3ZM807.6 52.1L809 55L812.1 55.4L809.8 57.5L810.4 60.6L807.6 59.1L804.9 60.6L805.4 57.5L803.1 55.4L806.3 55ZM809.3 49.8L810.7 52.6L813.8 53L811.5 55.2L812.1 58.3L809.3 56.8L806.5 58.3L807.1 55.2L804.8 53L808 52.6ZM811 52.6L812.4 55.4L815.5 55.8L813.2 58L813.8 61.1L811 59.6L808.3 61.1L808.9 58L806.6 55.8L809.7 55.4ZM811 51.6L812.3 54.4L815.5 54.8L813.2 57L813.7 60.1L811 58.6L808.2 60.1L808.8 57L806.5 54.8L809.6 54.4ZM811.7 50.5L813 53.4L816.2 53.8L813.9 55.9L814.5 59L811.7 57.5L808.9 59L809.5 55.9L807.2 53.8L810.3 53.4ZM814.5 50.1L815.8 52.9L818.9 53.4L816.7 55.5L817.2 58.6L814.5 57.1L811.7 58.6L812.3 55.5L810 53.4L813.1 52.9ZM817.5 48.3L818.9 51.1L822 51.5L819.7 53.7L820.3 56.8L817.5 55.3L814.8 56.8L815.3 53.7L813.1 51.5L816.2 51.1ZM816.1 51.5L817.4 54.4L820.5 54.8L818.2 57L818.8 60.1L816.1 58.5L813.3 60.1L813.9 57L811.6 54.8L814.7 54.4ZM819.7 49.8L821.1 52.6L824.2 53L821.9 55.2L822.5 58.3L819.7 56.8L817 58.3L817.5 55.2L815.2 53L818.4 52.6ZM819.7 46.5L821 49.4L824.1 49.8L821.9 52L822.4 55.1L819.7 53.5L816.9 55.1L817.5 52L815.2 49.8L818.3 49.4ZM822.5 49.5L823.8 52.3L826.9 52.8L824.7 54.9L825.2 58L822.5 56.5L819.7 58L820.3 54.9L818 52.8L821.1 52.3ZM822.5 47.5L823.8 50.4L826.9 50.8L824.6 53L825.2 56.1L822.5 54.5L819.7 56.1L820.3 53L818 50.8L821.1 50.4ZM824.9 47.9L826.3 50.7L829.4 51.1L827.1 53.3L827.7 56.4L824.9 54.9L822.2 56.4L822.8 53.3L820.5 51.1L823.6 50.7ZM824.6 48.1L826 50.9L829.1 51.3L826.8 53.5L827.4 56.6L824.6 55.1L821.9 56.6L822.4 53.5L820.2 51.3L823.3 50.9ZM826.2 44.5L827.6 47.4L830.7 47.8L828.4 49.9L829 53L826.2 51.5L823.5 53L824.1 49.9L821.8 47.8L824.9 47.4ZM827.3 46.2L828.7 49L831.8 49.4L829.5 51.6L830.1 54.7L827.3 53.2L824.5 54.7L825.1 51.6L822.8 49.4L826 49ZM830.5 47.4L831.9 50.2L835 50.6L832.7 52.8L833.3 55.9L830.5 54.4L827.8 55.9L828.3 52.8L826 50.6L829.2 50.2ZM832.2 45.1L833.5 47.9L836.6 48.3L834.4 50.5L834.9 53.6L832.2 52.1L829.4 53.6L830 50.5L827.7 48.3L830.8 47.9ZM830.6 45.9L832 48.8L835.1 49.2L832.8 51.3L833.4 54.4L830.6 52.9L827.9 54.4L828.5 51.3L826.2 49.2L829.3 48.8ZM831.1 46.3L832.5 49.1L835.6 49.6L833.3 51.7L833.9 54.8L831.1 53.3L828.4 54.8L829 51.7L826.7 49.6L829.8 49.1ZM835.7 46.8L837 49.7L840.1 50.1L837.9 52.2L838.4 55.3L835.7 53.8L832.9 55.3L833.5 52.2L831.2 50.1L834.3 49.7ZM836.2 44.4L837.5 47.2L840.6 47.6L838.4 49.8L838.9 52.9L836.2 51.4L833.4 52.9L834 49.8L831.7 47.6L834.8 47.2ZM836.2 47.3L837.5 50.2L840.6 50.6L838.4 52.8L838.9 55.8L836.2 54.3L833.4 55.8L834 52.8L831.7 50.6L834.8 50.2ZM836.9 46.1L838.3 48.9L841.4 49.3L839.1 51.5L839.7 54.6L836.9 53.1L834.2 54.6L834.8 51.5L832.5 49.3L835.6 48.9ZM840.7 44.9L842 47.8L845.2 48.2L842.9 50.3L843.4 53.4L840.7 51.9L837.9 53.4L838.5 50.3L836.2 48.2L839.3 47.8ZM840 44.2L841.4 47L844.5 47.5L842.2 49.6L842.8 52.7L840 51.2L837.3 52.7L837.8 49.6L835.6 47.5L838.7 47ZM842.6 44.4L844 47.3L847.1 47.7L844.8 49.8L845.4 52.9L842.6 51.4L839.9 52.9L840.4 49.8L838.1 47.7L841.3 47.3ZM842.3 44.5L843.6 47.3L846.7 47.7L844.5 49.9L845 53L842.3 51.5L839.5 53L840.1 49.9L837.8 47.7L840.9 47.3ZM845.7 43.4L847 46.2L850.2 46.6L847.9 48.8L848.4 51.9L845.7 50.4L842.9 51.9L843.5 48.8L841.2 46.6L844.3 46.2ZM844.2 42.8L845.6 45.6L848.7 46L846.4 48.2L847 51.3L844.2 49.8L841.5 51.3L842.1 48.2L839.8 46L842.9 45.6ZM849 41.7L850.4 44.5L853.5 44.9L851.2 47.1L851.8 50.2L849 48.7L846.2 50.2L846.8 47.1L844.5 44.9L847.7 44.5ZM849.2 44.7L850.5 47.5L853.7 47.9L851.4 50.1L852 53.2L849.2 51.7L846.4 53.2L847 50.1L844.7 47.9L847.8 47.5ZM849.6 42.5L850.9 45.3L854 45.7L851.7 47.9L852.3 51L849.6 49.5L846.8 51L847.4 47.9L845.1 45.7L848.2 45.3ZM852.1 39.6L853.4 42.4L856.5 42.9L854.3 45L854.8 48.1L852.1 46.6L849.3 48.1L849.9 45L847.6 42.9L850.7 42.4ZM852.9 38.1L854.2 41L857.3 41.4L855.1 43.6L855.6 46.7L852.9 45.1L850.1 46.7L850.7 43.6L848.4 41.4L851.5 41ZM853.3 40.6L854.6 43.5L857.8 43.9L855.5 46L856.1 49.1L853.3 47.6L850.5 49.1L851.1 46L848.8 43.9L851.9 43.5ZM855.1 39.3L856.4 42.1L859.5 42.5L857.3 44.7L857.8 47.8L855.1 46.3L852.3 47.8L852.9 44.7L850.6 42.5L853.7 42.1ZM856.6 40.3L857.9 43.2L861.1 43.6L858.8 45.7L859.4 48.8L856.6 47.3L853.8 48.8L854.4 45.7L852.1 43.6L855.2 43.2ZM855.8 39.8L857.2 42.6L860.3 43L858 45.2L858.6 48.3L855.8 46.8L853 48.3L853.6 45.2L851.3 43L854.5 42.6ZM859.3 40L860.6 42.8L863.8 43.2L861.5 45.4L862.1 48.5L859.3 47L856.5 48.5L857.1 45.4L854.8 43.2L857.9 42.8ZM859.9 41.5L861.3 44.3L864.4 44.7L862.1 46.9L862.7 50L859.9 48.5L857.1 50L857.7 46.9L855.4 44.7L858.6 44.3ZM861 37.5L862.4 40.3L865.5 40.7L863.2 42.9L863.8 46L861 44.5L858.3 46L858.8 42.9L856.6 40.7L859.7 40.3ZM859.8 37.6L861.1 40.4L864.3 40.8L862 43L862.5 46.1L859.8 44.6L857 46.1L857.6 43L855.3 40.8L858.4 40.4ZM861.3 37L862.7 39.9L865.8 40.3L863.5 42.5L864.1 45.5L861.3 44L858.6 45.5L859.1 42.5L856.8 40.3L860 39.9ZM862.6 36.3L863.9 39.1L867.1 39.5L864.8 41.7L865.3 44.8L862.6 43.3L859.8 44.8L860.4 41.7L858.1 39.5L861.2 39.1ZM863.9 34.8L865.3 37.7L868.4 38.1L866.1 40.2L866.7 43.3L863.9 41.8L861.2 43.3L861.7 40.2L859.5 38.1L862.6 37.7ZM865.4 36.1L866.8 38.9L869.9 39.3L867.6 41.5L868.2 44.6L865.4 43.1L862.7 44.6L863.2 41.5L861 39.3L864.1 38.9ZM865.1 35L866.4 37.8L869.5 38.2L867.2 40.4L867.8 43.5L865.1 42L862.3 43.5L862.9 40.4L860.6 38.2L863.7 37.8ZM865.2 34L866.5 36.8L869.7 37.2L867.4 39.4L867.9 42.5L865.2 41L862.4 42.5L863 39.4L860.7 37.2L863.8 36.8ZM865.9 33.8L867.2 36.7L870.3 37.1L868 39.2L868.6 42.3L865.9 40.8L863.1 42.3L863.7 39.2L861.4 37.1L864.5 36.7ZM866.9 32L868.2 34.9L871.3 35.3L869.1 37.4L869.6 40.5L866.9 39L864.1 40.5L864.7 37.4L862.4 35.3L865.5 34.9ZM869.3 32L870.6 34.8L873.8 35.2L871.5 37.4L872.1 40.5L869.3 39L866.5 40.5L867.1 37.4L864.8 35.2L867.9 34.8ZM868.5 31.6L869.8 34.4L872.9 34.9L870.7 37L871.2 40.1L868.5 38.6L865.7 40.1L866.3 37L864 34.9L867.1 34.4ZM870 32.1L871.4 35L874.5 35.4L872.2 37.5L872.8 40.6L870 39.1L867.3 40.6L867.8 37.5L865.6 35.4L868.7 35ZM872 31.4L873.4 34.2L876.5 34.6L874.2 36.8L874.8 39.9L872 38.4L869.2 39.9L869.8 36.8L867.5 34.6L870.7 34.2ZM873.9 29.9L875.2 32.8L878.3 33.2L876 35.3L876.6 38.4L873.9 36.9L871.1 38.4L871.7 35.3L869.4 33.2L872.5 32.8ZM876.9 33.1L878.3 35.9L881.4 36.3L879.1 38.5L879.7 41.6L876.9 40.1L874.2 41.6L874.7 38.5L872.5 36.3L875.6 35.9ZM878.9 33.4L880.3 36.3L883.4 36.7L881.1 38.8L881.7 41.9L878.9 40.4L876.2 41.9L876.8 38.8L874.5 36.7L877.6 36.3ZM881.5 33.3L882.9 36.2L886 36.6L883.7 38.7L884.3 41.8L881.5 40.3L878.7 41.8L879.3 38.7L877 36.6L880.2 36.2ZM882.1 30.2L883.4 33.1L886.5 33.5L884.3 35.7L884.8 38.7L882.1 37.2L879.3 38.7L879.9 35.7L877.6 33.5L880.7 33.1ZM883 30.7L884.4 33.6L887.5 34L885.2 36.2L885.8 39.2L883 37.7L880.3 39.2L880.9 36.2L878.6 34L881.7 33.6ZM883.9 31L885.2 33.9L888.3 34.3L886 36.4L886.6 39.5L883.9 38L881.1 39.5L881.7 36.4L879.4 34.3L882.5 33.9ZM886.6 29.7L888 32.5L891.1 32.9L888.8 35.1L889.4 38.2L886.6 36.7L883.9 38.2L884.4 35.1L882.1 32.9L885.3 32.5ZM887.2 28.5L888.6 31.3L891.7 31.7L889.4 33.9L890 37L887.2 35.5L884.5 37L885 33.9L882.8 31.7L885.9 31.3ZM889 27.8L890.4 30.6L893.5 31L891.2 33.2L891.8 36.3L889 34.8L886.3 36.3L886.8 33.2L884.5 31L887.7 30.6ZM888.1 27.9L889.4 30.7L892.5 31.1L890.3 33.3L890.8 36.4L888.1 34.9L885.3 36.4L885.9 33.3L883.6 31.1L886.7 30.7ZM894.6 27.2L896 30.1L899.1 30.5L896.8 32.6L897.4 35.7L894.6 34.2L891.8 35.7L892.4 32.6L890.1 30.5L893.3 30.1ZM893.8 27.7L895.1 30.6L898.2 31L895.9 33.1L896.5 36.2L893.8 34.7L891 36.2L891.6 33.1L889.3 31L892.4 30.6ZM895.3 27.5L896.6 30.3L899.7 30.7L897.5 32.9L898 36L895.3 34.5L892.5 36L893.1 32.9L890.8 30.7L893.9 30.3ZM896.6 27.9L898 30.8L901.1 31.2L898.8 33.3L899.4 36.4L896.6 34.9L893.9 36.4L894.4 33.3L892.2 31.2L895.3 30.8ZM898.3 24.8L899.6 27.7L902.7 28.1L900.5 30.2L901 33.3L898.3 31.8L895.5 33.3L896.1 30.2L893.8 28.1L896.9 27.7ZM899.3 29.6L900.6 32.5L903.8 32.9L901.5 35.1L902.1 38.1L899.3 36.6L896.5 38.1L897.1 35.1L894.8 32.9L897.9 32.5ZM901.2 25.9L902.5 28.7L905.6 29.1L903.4 31.3L903.9 34.4L901.2 32.9L898.4 34.4L899 31.3L896.7 29.1L899.8 28.7ZM901.8 25.5L903.2 28.3L906.3 28.7L904 30.9L904.6 34L901.8 32.5L899 34L899.6 30.9L897.3 28.7L900.5 28.3ZM904 28.4L905.3 31.3L908.5 31.7L906.2 33.8L906.8 36.9L904 35.4L901.2 36.9L901.8 33.8L899.5 31.7L902.6 31.3ZM904.8 25.8L906.2 28.7L909.3 29.1L907 31.2L907.6 34.3L904.8 32.8L902.1 34.3L902.7 31.2L900.4 29.1L903.5 28.7ZM905.7 25.6L907 28.4L910.1 28.8L907.9 31L908.4 34.1L905.7 32.6L902.9 34.1L903.5 31L901.2 28.8L904.3 28.4ZM907.1 26.6L908.5 29.4L911.6 29.8L909.3 32L909.9 35.1L907.1 33.6L904.3 35.1L904.9 32L902.6 29.8L905.7 29.4ZM106.1 631.1L107.5 633.9L110.6 634.3L108.3 636.5L108.9 639.6L106.1 638.1L103.3 639.6L103.9 636.5L101.6 634.3L104.7 633.9ZM106.2 600.3L107.6 603.1L110.7 603.5L108.4 605.7L109 608.8L106.2 607.3L103.4 608.8L104 605.7L101.7 603.5L104.8 603.1ZM106.4 584.8L107.8 587.6L110.9 588L108.6 590.2L109.2 593.3L106.4 591.8L103.6 593.3L104.2 590.2L101.9 588L105 587.6Z" fill="#a52a2a"/>
<path d="M114.1 447.4h0M114.2 441.9h0M115 438.9h0M115 435.3h0M115 433.1h0M115 430h0M115.4 426.2h0M116.7 422.9h0M116.7 422.2h0M118.5 419.1h0M119.1 418h0M119.1 412.5h0M119.1 411.8h0M119.1 406.4h0M119.1 404.8h0M119.1 402.9h0M119.9 400.3h0M121.5 396.3h0M122.2 395.9h0M122.8 395.2h0M123.5 391.5h0M124.9 388.7h0M126.3 385.1h0M127.1 381.3h0M127.1 380.4h0M127.1 379.1h0M128.6 377.2h0M129.1 376.4h0M129.7 372.7h0M130.6 371.3h0M131.1 367.5h0M131.1 365.5h0M131.1 362.7h0M131.7 358h0M133.7 354.6h0M135.9 351.5h0M136.7 351.3h0M136.9 350.8h0M137.3 348.5h0M137.5 347.6h0M139.2 345.1h0M141 341.6h0M141 339.1h0M142.1 336.6h0M144.4 334h0M144.9 333.3h0M145.9 332.3h0M147.7 327.9h0M148.4 326.9h0M148.7 325.8h0M148.9 324.8h0M151.4 321h0M154.7 319.1h0M156 317.1h0M156.8 315.1h0M158.8 313.7h0M160.9 312.6h0M162.9 310.5h0M166.8 307h0M167.1 306.1h0M169.3 302.1h0M169.8 301.6h0M172.1 298.4h0M172.8 297.7h0M177 294.6h0M178.4 292.9h0M178.9 292.3h0M179.9 292h0M183.4 289h0M186.5 287.1h0M189.4 282.9h0M191.3 280.3h0M191.8 279.8h0M193.3 279.3h0M194 279.1h0M198.7 277.6h0M199.4 277.6h0M200.1 277.6h0M201.1 277h0M201.8 276.1h0M202.3 275.5h0M202.9 274.9h0M205 274.8h0M208.3 272h0M212.4 270.4h0M215.8 268.7h0M219.7 267h0M222.2 266.5h0M223.8 266.4h0M225 265.6h0M228 263.5h0M229.2 261.8h0M230.9 260.6h0M233.3 259.6h0M234.9 259.6h0M238.8 259.4h0M240.5 258.6h0M243.7 257.2h0M245.6 255.5h0M247.8 252.2h0M251.1 248.5h0M253.3 247.3h0M255.6 246.6h0M257 245.9h0M258.9 244.5h0M260.7 241.5h0M261.6 240.6h0M266.2 238.9h0M269.9 235.9h0M272.3 232.6h0M274.9 231.2h0M276.1 230.5h0M277 229.8h0M277.8 228.7h0M280.3 226.4h0M281.3 225.1h0M282.7 225h0M283.5 224.8h0M284.5 224.3h0M285.1 223.9h0M288.9 220.8h0M289.7 220h0M293.5 217h0M294.7 214.9h0M297.4 212.8h0M298.1 211.7h0M298.6 211.1h0M299 210.5h0M301.8 207.8h0M302.7 206.6h0M304.6 204.4h0M304.9 203.3h0M306.5 200.7h0M308.7 199.4h0M310.5 199.3h0M312.5 199.1h0M313.6 199h0M314.8 199h0M317.6 198h0M319.9 196.5h0M323.7 195.5h0M324.7 195.5h0M327.9 195.5h0M328.6 195.4h0M332.4 195.2h0M335.8 194.9h0M337.8 193.3h0M339.8 192.4h0M342.3 189.4h0M343.1 187.3h0M345.1 183.9h0M346.1 183.7h0M350.5 181.7h0M355.1 179.3h0M355.6 178.3h0M356.2 177.7h0M357.5 177.6h0M358.1 177.2h0M359.7 176.6h0M361.6 175.4h0M364.9 173.4h0M366.7 171.9h0M368.4 170.2h0M372.6 169h0M373.4 169h0M375 168.7h0M376.9 166.4h0M377.4 165.9h0M379.3 164.7h0M380.8 164.4h0M385.8 163.4h0M386.6 163.3h0M387.3 163.1h0M390.8 162.3h0M394.8 161.6h0M398.8 161.2h0M400 161.2h0M402.8 160.2h0M405 159.6h0M406.9 159h0M410.6 157.6h0M413.8 155.9h0M415 155.5h0M417 153.7h0M424.6 150h0M427.6 149.2h0M428.5 149.2h0M429.9 149.2h0M435.1 148.3h0M436.2 148h0M438 147.6h0M438.6 147h0M440 146.8h0M444.8 145.5h0M452.5 142.2h0M454.3 141.2h0M457.6 139h0M458.7 137.8h0M464.9 134.6h0M469.7 134.6h0M470.3 134.6h0M472.2 134.3h0M473.5 134.3h0M474.8 134.1h0M476.3 133.8h0M480.9 132.2h0M482.1 132.2h0M483.4 132.2h0M487.5 130.5h0M488.1 130.2h0M489.5 129.9h0M492.6 129.5h0M505.4 126.4h0M507.8 126.3h0M509.5 124.7h0M512.3 123.5h0M514 120.9h0M516.7 120.2h0M517.7 120.2h0M519.9 119.6h0M521.6 119.6h0M526.4 118.6h0M527.2 118.2h0M528.6 117.8h0M535.5 115.6h0M536.2 115.5h0M537.6 115.4h0M540.1 115.4h0M543 113.2h0M543.8 112.6h0M544.7 112.1h0M549.5 110.2h0M550.2 110.2h0M553.1 108.9h0M556 106.3h0M557.9 104.4h0M561.3 103.8h0M564.4 103.1h0M568.7 103h0M570.3 102.8h0M571.8 102.2h0M575.5 100.9h0M577.2 100.9h0M579.1 100.7h0M579.7 100.3h0M580.4 99.9h0M581 99.4h0M584.4 98.9h0M585.1 98.9h0M589 98.9h0M591.1 98.9h0M592.9 98.6h0M601.1 96.9h0M602.2 96.7h0M602.9 96.4h0M606.7 94.9h0M608.9 93h0M611.9 92h0M615.4 91.3h0M619.5 89.9h0M620.7 89.5h0M621.5 89.3h0M623 87.8h0M623.6 87.3h0M626.2 87h0M648 84.5h0M650.8 84.3h0M653.9 82.7h0M655.6 82.6h0M656.7 82.3h0M660.8 81.9h0M665.3 80.4h0M666.4 80.1h0M668.5 80.1h0M672 78.1h0M673.6 77.5h0M677.6 77.1h0M679.3 76.5h0M685.9 75.1h0M688.9 74.7h0M689.7 74.5h0M690.4 74.3h0M691.1 74h0M692.7 73.6h0M695 73.4h0M700.6 70h0M703.7 69.2h0M706.3 68.1h0M711.8 68.1h0M712.8 68h0M715.5 67.1h0M717 67.1h0M719.7 66.7h0M721.8 66.7h0M722.9 66.6h0M724.3 66.4h0M726.1 65.3h0M729 65.1h0M732.9 63.9h0M735.9 63.4h0M736.6 63.2h0M738.5 61.8h0M740.7 61.5h0M742.9 61.2h0M751.4 60.3h0M755.7 60.3h0M762 58.2h0M764.4 58.2h0M769.4 57h0M770.7 56.4h0M774.1 55.7h0M777.3 55.3h0M779.2 55.3h0M783 55.3h0M790.7 53.3h0M800.9 52.2h0M808.9 49.6h0M818.2 49.2h0M819.1 49.1h0M823.3 48.1h0M826.7 47.7h0M828.4 47.7h0M829.6 47.7h0M831.8 47.3h0M835.8 46.1h0M839.5 43.9h0M841.4 43.9h0M845.4 43.9h0M848.7 43.4h0M849.8 43h0M853.7 43h0M858 41.7h0M858.7 41.2h0M862 39.6h0M863.9 38h0M868.8 37.7h0M869.7 37.7h0M874.2 37h0M879.4 36.6h0M892.5 34.2h0M895.2 33.5h0M896.8 33h0M901.7 32.1h0M907.1 31.3h0M907.1 31.3h0M106.8 582.1h0M106.8 579.4h0M107 576.7h0M107.2 569.3h0M107.9 557.2h0M108.5 531.6h0M108.9 526.2h0M109.5 520.5h0M109.8 516.8h0M110.6 510h0M110.9 506.9h0M111.3 504.4h0M111.5 498.6h0M111.8 490.1h0M112.2 470.3h0M112.2 467.6h0M112.4 464.9h0M112.6 461.5h0M112.9 458.9h0M113.2 456.2h0M113.6 453.5h0M114 451h0M106.1 635.8h0" stroke="#ff0000" stroke-width="5.6" stroke-linecap="round"/>
<path d="M106.1 635.8L907.1 31.3" stroke="#000" stroke-width="2.74" stroke-dasharray="10.14 4.38"/>
</g>
<path d="M106.1 666.2v4.9M186.2 666.2v4.9M266.3 666.2v4.9M346.4 666.2v4.9M426.5 666.2v4.9M506.6 666.2v4.9M586.7 666.2v4.9M666.8 666.2v4.9M746.9 666.2v4.9M827 666.2v4.9M907.1 666.2v4.9M66.2 635.8h-4.9M66.2 514.9h-4.9M66.2 394h-4.9M66.2 273.1h-4.9M66.2 152.2h-4.9M66.2 31.3h-4.9" stroke="#000" stroke-width="1.1" fill="none"/>
<rect x="66.2" y="0.8" width="880.6" height="665.4" fill="none" stroke="#000" stroke-width="1.1"/>
<text x="106.1" y="690.4" font-size="19.74" text-anchor="middle">0.0</text>
<text x="186.2" y="690.4" font-size="19.74" text-anchor="middle">0.1</text>
<text x="266.3" y="690.4" font-size="19.74" text-anchor="middle">0.2</text>
<text x="346.4" y="690.4" font-size="19.74" text-anchor="middle">0.3</text>
<text x="426.5" y="690.4" font-size="19.74" text-anchor="middle">0.4</text>
<text x="506.6" y="690.4" font-size="19.74" text-anchor="middle">0.5</text>
<text x="586.7" y="690.4" font-size="19.74" text-anchor="middle">0.6</text>
<text x="666.8" y="690.4" font-size="19.74" text-anchor="middle">0.7</text>
<text x="746.9" y="690.4" font-size="19.74" text-anchor="middle">0.8</text>
<text x="827" y="690.4" font-size="19.74" text-anchor="middle">0.9</text>
<text x="907.1" y="690.4" font-size="19.74" text-anchor="middle">1.0</text>
<text x="56.6" y="643.4" font-size="19.74" text-anchor="end">0.0</text>
<text x="56.6" y="522.5" font-size="19.74" text-anchor="end">0.2</text>
<text x="56.6" y="401.6" font-size="19.74" text-anchor="end">0.4</text>
<text x="56.6" y="280.7" font-size="19.74" text-anchor="end">0.6</text>
<text x="56.6" y="159.8" font-size="19.74" text-anchor="end">0.8</text>
<text x="56.6" y="38.9" font-size="19.74" text-anchor="end">1.0</text>
<text x="506.6" y="715.8" font-size="19.74" text-anchor="middle">1 - Specificity</text>
<text transform="translate(16.9 335.7) rotate(-90) scale(1 1.04)" font-size="19.74" text-anchor="middle">Sensitivity</text>
<text transform="translate(519.8 309.8) rotate(-37.04)" font-size="13.2" text-anchor="middle">RANDOM CHANCE</text>
<text x="322" y="35" font-size="26.1" text-anchor="middle">(a)</text>
<rect x="74.5" y="9.5" width="215.6" height="122.8" rx="3.3" fill="#fff" fill-opacity="0.8" stroke="#ccc" stroke-width="1.1"/>
<path d="M80.75 22.1h32.9" stroke="#008000" stroke-width="5.48" stroke-linecap="square"/>
<path d="M80.75 45.95h32.9" stroke="#0000ff" stroke-width="4.11" stroke-dasharray="14.8 6.3"/>
<path d="M80.75 69.85h32.9" stroke="#ff8c00" stroke-width="5.48"/>
<path d="M97.3 89.4L98.7 92.2L101.8 92.6L99.5 94.8L100.1 97.9L97.3 96.4L94.5 97.9L95.1 94.8L92.8 92.6L95.9 92.2Z" fill="#a52a2a"/>
<circle cx="97.3" cy="117.6" r="2.7" fill="#ff0000"/>
<text x="126.55" y="27.5" font-size="16.45" text-anchor="start">Fold 1, AUC = 0.75</text>
<text x="126.55" y="51.35" font-size="16.45" text-anchor="start">Fold 2, AUC = 0.76</text>
<text x="126.55" y="75.25" font-size="16.45" text-anchor="start">Fold 3, AUC = 0.78</text>
<text x="126.55" y="99.1" font-size="16.45" text-anchor="start">Fold 4, AUC = 0.76</text>
<text x="126.55" y="123" font-size="16.45" text-anchor="start">Fold 5, AUC = 0.80</text>
<clipPath id="cb"><rect x="66.3" y="766" width="880.4" height="664.4"/></clipPath>
<path d="M106.3 766V1430.4M197.25 766V1430.4M288.2 766V1430.4M379.15 766V1430.4M470.1 766V1430.4M561.05 766V1430.4M652 766V1430.4M742.95 766V1430.4M833.9 766V1430.4M924.85 766V1430.4M66.3 1420.9H946.7M66.3 1320.13H946.7M66.3 1219.36H946.7M66.3 1118.59H946.7M66.3 1017.82H946.7M66.3 917.05H946.7M66.3 816.28H946.7" stroke="#b0b0b0" stroke-width="1.1" fill="none"/>
<g clip-path="url(#cb)">
<path d="M106.3 1305.44V1344.94M124.49 1319.37V1367.47M142.68 1318.1V1357.59M160.87 1299.87V1359.11M179.06 1334.3V1363.67M197.25 1291.01V1359.37M215.44 1304.68V1342.66M233.63 1311.52V1335.82M251.82 1320.38V1354.81M270.01 1303.42V1325.19M288.2 1314.3V1348.23M306.39 1294.81V1330.25M324.58 1307.97V1333.29M342.77 1313.29V1349.75M360.96 1316.84V1348.23M379.15 1278.1V1313.54M397.34 1302.91V1342.41M415.53 1309.75V1337.59M433.72 1319.37V1338.61M451.91 1311.01V1340.38M470.1 1310V1340.38M488.29 1304.94V1323.67M506.48 1299.62V1330M524.67 1312.78V1342.15M542.86 1318.86V1345.19M561.05 1305.7V1339.11M579.24 1286.2V1321.65M597.43 1248.23V1302.91M615.62 1241.9V1269.75M633.81 1195.06V1231.52M652 1072.15V1148.1M670.19 930.76V1051.27M688.38 834.56V961.14M706.57 835.06V937.85M724.76 790.25V920.89M742.95 811.01V897.09M761.14 826.2V927.97M779.33 934.81V966.2M797.52 923.16V962.66M815.71 946.46V980.89M833.9 984.99V1028.23M852.09 1026.99V1079.79M870.28 1046.3V1121.08M888.47 1097.34V1142.7M906.66 1119.49V1170.88" stroke="#a52a2a" stroke-width="3.3" fill="none"/>
<g fill="#a52a2a"><circle cx="106.3" cy="1325.19" r="8.4"/><circle cx="124.49" cy="1343.42" r="8.4"/><circle cx="142.68" cy="1337.85" r="8.4"/><circle cx="160.87" cy="1329.49" r="8.4"/><circle cx="179.06" cy="1348.99" r="8.4"/><circle cx="197.25" cy="1325.19" r="8.4"/><circle cx="215.44" cy="1323.67" r="8.4"/><circle cx="233.63" cy="1323.67" r="8.4"/><circle cx="251.82" cy="1337.59" r="8.4"/><circle cx="270.01" cy="1314.3" r="8.4"/><circle cx="288.2" cy="1331.27" r="8.4"/><circle cx="306.39" cy="1312.53" r="8.4"/><circle cx="324.58" cy="1320.63" r="8.4"/><circle cx="342.77" cy="1331.52" r="8.4"/><circle cx="360.96" cy="1332.53" r="8.4"/><circle cx="379.15" cy="1295.82" r="8.4"/><circle cx="397.34" cy="1322.66" r="8.4"/><circle cx="415.53" cy="1323.67" r="8.4"/><circle cx="433.72" cy="1328.99" r="8.4"/><circle cx="451.91" cy="1325.7" r="8.4"/><circle cx="470.1" cy="1325.19" r="8.4"/><circle cx="488.29" cy="1314.3" r="8.4"/><circle cx="506.48" cy="1314.81" r="8.4"/><circle cx="524.67" cy="1327.47" r="8.4"/><circle cx="542.86" cy="1332.03" r="8.4"/><circle cx="561.05" cy="1322.41" r="8.4"/><circle cx="579.24" cy="1303.92" r="8.4"/><circle cx="597.43" cy="1275.57" r="8.4"/><circle cx="615.62" cy="1255.82" r="8.4"/><circle cx="633.81" cy="1213.29" r="8.4"/><circle cx="652" cy="1110.13" r="8.4"/><circle cx="670.19" cy="991.01" r="8.4"/><circle cx="688.38" cy="897.85" r="8.4"/><circle cx="706.57" cy="886.46" r="8.4"/><circle cx="724.76" cy="855.57" r="8.4"/><circle cx="742.95" cy="854.05" r="8.4"/><circle cx="761.14" cy="877.09" r="8.4"/><circle cx="779.33" cy="950.51" r="8.4"/><circle cx="797.52" cy="942.91" r="8.4"/><circle cx="815.71" cy="963.67" r="8.4"/><circle cx="833.9" cy="1006.61" r="8.4"/><circle cx="852.09" cy="1053.39" r="8.4"/><circle cx="870.28" cy="1083.69" r="8.4"/><circle cx="888.47" cy="1120.02" r="8.4"/><circle cx="906.66" cy="1145.19" r="8.4"/></g>
<path d="M106.3 1340.89V1394.05M124.49 1372.53V1402.91M142.68 1358.86V1399.87M160.87 1348.48V1381.39M197.25 1349.75V1377.59M215.44 1354.81V1386.2M233.63 1345.95V1386.46M251.82 1362.41V1390.25M270.01 1370.51V1393.8M288.2 1348.23V1380.13M324.58 1361.39V1386.2M342.77 1360.38V1394.81M360.96 1361.9V1389.24M379.15 1342.66V1365.95M433.72 1361.9V1390.76M451.91 1348.48V1386.46M488.29 1346.2V1371.01M506.48 1361.39V1387.72M524.67 1347.97V1386.96M542.86 1348.99V1369.24M579.24 1331.01V1369.49M597.43 1313.04V1334.3M615.62 1302.91V1341.9M633.81 1248.23V1287.22M652 1137.72V1220.25M670.19 1027.59V1145.57M688.38 910.4V1032.2M706.57 889.5V1011.5M724.76 866.2V976.08M742.95 872.28V980.13M761.14 885.8V1024.8M779.33 993.3V1044.7M797.52 997.8V1051.4M815.71 1022.3V1063.9M833.9 1050.7V1118.3M852.09 1072.35V1152.45M870.28 1093.79V1176.37M888.47 1145.8V1225.4M906.66 1172.8V1236.8" stroke="#0000ff" stroke-width="3.3" fill="none"/>
<g fill="#0000ff"><circle cx="106.3" cy="1367.47" r="8.4"/><circle cx="124.49" cy="1387.72" r="8.4"/><circle cx="142.68" cy="1379.37" r="8.4"/><circle cx="160.87" cy="1364.94" r="8.4"/><circle cx="179.06" cy="1387.22" r="8.4"/><circle cx="197.25" cy="1363.67" r="8.4"/><circle cx="215.44" cy="1370.51" r="8.4"/><circle cx="233.63" cy="1366.2" r="8.4"/><circle cx="251.82" cy="1376.33" r="8.4"/><circle cx="270.01" cy="1382.15" r="8.4"/><circle cx="288.2" cy="1364.18" r="8.4"/><circle cx="306.39" cy="1380.63" r="8.4"/><circle cx="324.58" cy="1373.8" r="8.4"/><circle cx="342.77" cy="1377.59" r="8.4"/><circle cx="360.96" cy="1375.57" r="8.4"/><circle cx="379.15" cy="1354.3" r="8.4"/><circle cx="397.34" cy="1376.33" r="8.4"/><circle cx="415.53" cy="1377.59" r="8.4"/><circle cx="433.72" cy="1376.33" r="8.4"/><circle cx="451.91" cy="1367.47" r="8.4"/><circle cx="470.1" cy="1373.29" r="8.4"/><circle cx="488.29" cy="1358.61" r="8.4"/><circle cx="506.48" cy="1374.56" r="8.4"/><circle cx="524.67" cy="1367.47" r="8.4"/><circle cx="542.86" cy="1359.11" r="8.4"/><circle cx="561.05" cy="1361.39" r="8.4"/><circle cx="579.24" cy="1350.25" r="8.4"/><circle cx="597.43" cy="1323.67" r="8.4"/><circle cx="615.62" cy="1322.41" r="8.4"/><circle cx="633.81" cy="1267.72" r="8.4"/><circle cx="652" cy="1178.99" r="8.4"/><circle cx="670.19" cy="1086.58" r="8.4"/><circle cx="688.38" cy="971.3" r="8.4"/><circle cx="706.57" cy="950.5" r="8.4"/><circle cx="724.76" cy="921.14" r="8.4"/><circle cx="742.95" cy="926.2" r="8.4"/><circle cx="761.14" cy="955.3" r="8.4"/><circle cx="779.33" cy="1019" r="8.4"/><circle cx="797.52" cy="1024.6" r="8.4"/><circle cx="815.71" cy="1043.1" r="8.4"/><circle cx="833.9" cy="1084.5" r="8.4"/><circle cx="852.09" cy="1112.4" r="8.4"/><circle cx="870.28" cy="1135.08" r="8.4"/><circle cx="888.47" cy="1185.6" r="8.4"/><circle cx="906.66" cy="1204.8" r="8.4"/></g>
<path d="M106.3 1401.65V1424.43M142.68 1401.9V1424.18M215.44 1397.85V1417.09M233.63 1401.14V1418.86M451.91 1386.2V1405.44M561.05 1396.08V1414.3M615.62 1358.35V1395.32M633.81 1339.87V1364.18M652 1275.57V1332.28M670.19 1156.9V1291.9M688.38 1091.2V1253.2M706.57 1052.15V1219.75M724.76 1051.14V1194.43M742.95 1053.92V1211.9M761.14 1084.3V1240.76M779.33 1131V1274M797.52 1141.1V1253.1M815.71 1154V1239.4M833.9 1186.1V1264.3M852.09 1203.04V1317.16M870.28 1250.35V1351.36M888.47 1274.1V1358.81M906.66 1305.47V1361.11" stroke="#ff00ff" stroke-width="3.3" fill="none"/>
<g fill="#ff00ff"><circle cx="106.3" cy="1413.04" r="8.4"/><circle cx="124.49" cy="1418.86" r="8.4"/><circle cx="142.68" cy="1413.04" r="8.4"/><circle cx="160.87" cy="1411.77" r="8.4"/><circle cx="179.06" cy="1413.04" r="8.4"/><circle cx="197.25" cy="1400.38" r="8.4"/><circle cx="215.44" cy="1407.47" r="8.4"/><circle cx="233.63" cy="1410" r="8.4"/><circle cx="251.82" cy="1416.08" r="8.4"/><circle cx="270.01" cy="1414.3" r="8.4"/><circle cx="288.2" cy="1418.1" r="8.4"/><circle cx="306.39" cy="1419.37" r="8.4"/><circle cx="324.58" cy="1421.14" r="8.4"/><circle cx="342.77" cy="1419.37" r="8.4"/><circle cx="360.96" cy="1416.84" r="8.4"/><circle cx="379.15" cy="1408.48" r="8.4"/><circle cx="397.34" cy="1414.3" r="8.4"/><circle cx="415.53" cy="1414.3" r="8.4"/><circle cx="433.72" cy="1407.97" r="8.4"/><circle cx="451.91" cy="1395.82" r="8.4"/><circle cx="470.1" cy="1406.71" r="8.4"/><circle cx="488.29" cy="1406.71" r="8.4"/><circle cx="506.48" cy="1411.77" r="8.4"/><circle cx="524.67" cy="1409.75" r="8.4"/><circle cx="542.86" cy="1402.15" r="8.4"/><circle cx="561.05" cy="1405.19" r="8.4"/><circle cx="579.24" cy="1401.39" r="8.4"/><circle cx="597.43" cy="1389.49" r="8.4"/><circle cx="615.62" cy="1376.84" r="8.4"/><circle cx="633.81" cy="1352.03" r="8.4"/><circle cx="652" cy="1303.92" r="8.4"/><circle cx="670.19" cy="1224.4" r="8.4"/><circle cx="688.38" cy="1172.2" r="8.4"/><circle cx="706.57" cy="1135.95" r="8.4"/><circle cx="724.76" cy="1122.78" r="8.4"/><circle cx="742.95" cy="1132.91" r="8.4"/><circle cx="761.14" cy="1162.53" r="8.4"/><circle cx="779.33" cy="1202.5" r="8.4"/><circle cx="797.52" cy="1197.1" r="8.4"/><circle cx="815.71" cy="1196.7" r="8.4"/><circle cx="833.9" cy="1225.2" r="8.4"/><circle cx="852.09" cy="1260.1" r="8.4"/><circle cx="870.28" cy="1300.86" r="8.4"/><circle cx="888.47" cy="1316.45" r="8.4"/><circle cx="906.66" cy="1333.29" r="8.4"/></g>
</g>
<path d="M106.3 1430.4v4.9M197.25 1430.4v4.9M288.2 1430.4v4.9M379.15 1430.4v4.9M470.1 1430.4v4.9M561.05 1430.4v4.9M652 1430.4v4.9M742.95 1430.4v4.9M833.9 1430.4v4.9M924.85 1430.4v4.9M66.3 1420.9h-4.9M66.3 1320.13h-4.9M66.3 1219.36h-4.9M66.3 1118.59h-4.9M66.3 1017.82h-4.9M66.3 917.05h-4.9M66.3 816.28h-4.9" stroke="#000" stroke-width="1.1" fill="none"/>
<rect x="66.3" y="766" width="880.4" height="664.4" fill="none" stroke="#000" stroke-width="1.1"/>
<text x="106.3" y="1455.4" font-size="19.74" text-anchor="middle">−30</text>
<text x="197.25" y="1455.4" font-size="19.74" text-anchor="middle">−25</text>
<text x="288.2" y="1455.4" font-size="19.74" text-anchor="middle">−20</text>
<text x="379.15" y="1455.4" font-size="19.74" text-anchor="middle">−15</text>
<text x="470.1" y="1455.4" font-size="19.74" text-anchor="middle">−10</text>
<text x="561.05" y="1455.4" font-size="19.74" text-anchor="middle">−5</text>
<text x="652" y="1455.4" font-size="19.74" text-anchor="middle">0</text>
<text x="742.95" y="1455.4" font-size="19.74" text-anchor="middle">5</text>
<text x="833.9" y="1455.4" font-size="19.74" text-anchor="middle">10</text>
<text x="924.85" y="1455.4" font-size="19.74" text-anchor="middle">15</text>
<text x="56.6" y="1428.5" font-size="19.74" text-anchor="end">0.0</text>
<text x="56.6" y="1327.73" font-size="19.74" text-anchor="end">0.1</text>
<text x="56.6" y="1226.96" font-size="19.74" text-anchor="end">0.2</text>
<text x="56.6" y="1126.19" font-size="19.74" text-anchor="end">0.3</text>
<text x="56.6" y="1025.42" font-size="19.74" text-anchor="end">0.4</text>
<text x="56.6" y="924.65" font-size="19.74" text-anchor="end">0.5</text>
<text x="56.6" y="823.88" font-size="19.74" text-anchor="end">0.6</text>
<text x="506.2" y="1480.2" font-size="19.74" text-anchor="middle">Day since symptoms</text>
<text transform="translate(15.6 1098) rotate(-90) scale(1 1.04)" font-size="19.74" text-anchor="middle">Fraction of users classified as being sick</text>
<text x="322" y="799.3" font-size="26.1" text-anchor="middle">(b)</text>
<rect x="74.5" y="774.5" width="183.6" height="75.7" rx="3.3" fill="#fff" fill-opacity="0.8" stroke="#ccc" stroke-width="1.1"/>
<circle cx="97.4" cy="788.9" r="8.4" fill="#a52a2a"/>
<text x="126.7" y="793.1" font-size="16.45" text-anchor="start">90% specificity</text>
<circle cx="97.4" cy="812.55" r="8.4" fill="#0000ff"/>
<text x="126.7" y="816.75" font-size="16.45" text-anchor="start">95% specificity</text>
<circle cx="97.4" cy="836.2" r="8.4" fill="#ff00ff"/>
<text x="126.7" y="840.4" font-size="16.45" text-anchor="start">99% specificity</text>
</svg>
</body></html>
